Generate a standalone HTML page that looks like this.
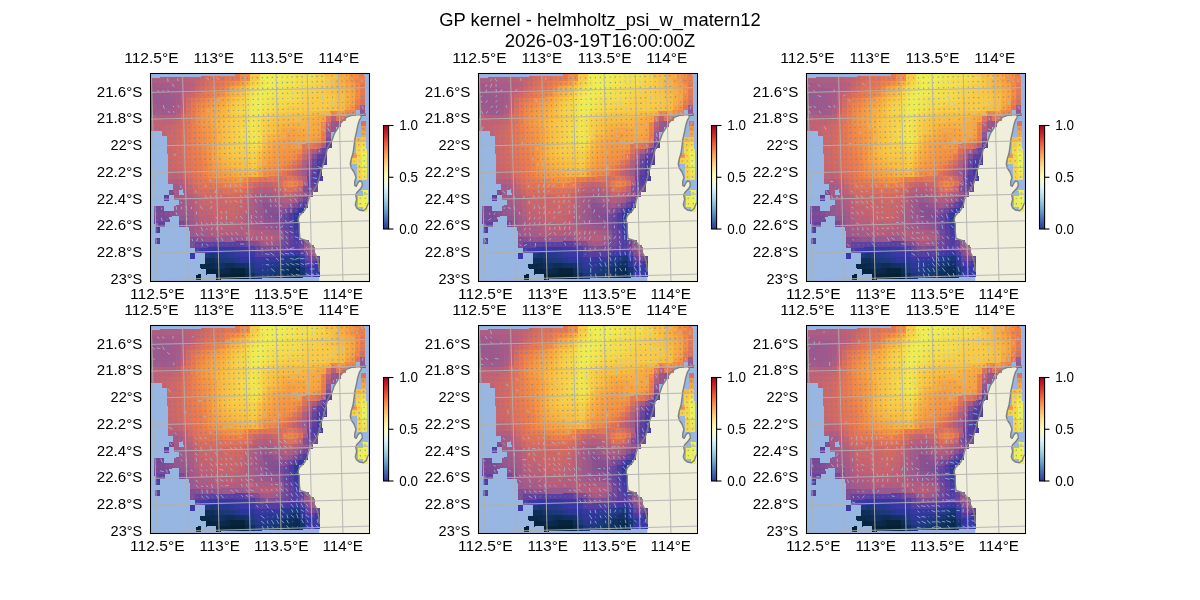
<!DOCTYPE html><html><head><meta charset="utf-8"><style>html,body{margin:0;padding:0;background:#fff;overflow:hidden}svg{display:block;will-change:transform}</style></head><body>
<svg width="1200" height="600" viewBox="0 0 1200 600" font-family="&quot;Liberation Sans&quot;, sans-serif">
<defs>
<linearGradient id="cbg" x1="0" y1="0" x2="0" y2="1"><stop offset="0.00" stop-color="#a50026"/><stop offset="0.10" stop-color="#d62f26"/><stop offset="0.20" stop-color="#f46d43"/><stop offset="0.30" stop-color="#fcac60"/><stop offset="0.40" stop-color="#fee090"/><stop offset="0.50" stop-color="#fefebe"/><stop offset="0.60" stop-color="#e0f3f7"/><stop offset="0.70" stop-color="#a9d8e8"/><stop offset="0.80" stop-color="#74add1"/><stop offset="0.90" stop-color="#4473b3"/><stop offset="1.00" stop-color="#313695"/></linearGradient>
<clipPath id="axclip"><rect x="150.8" y="73.8" width="218.50" height="207.50"/></clipPath>
<g id="base"><rect x="150.8" y="73.8" width="218.50" height="207.50" fill="#97b6e1"/><g clip-path="url(#axclip)"><path d="M319.3,290.0 L319.3,271.7 L318.7,263.7 L317.3,258.3 L314.7,253.0 L312.0,246.3 L307.3,241.0 L300.0,238.3 L299.3,231.7 L299.3,223.7 L298.0,219.7 L299.3,215.7 L304.7,210.3 L307.3,205.0 L308.2,200.2 L309.9,196.0 L312.0,192.3 L314.0,190.0 L317.3,184.7 L319.3,178.0 L320.7,172.0 L323.0,165.3 L325.3,157.3 L327.0,150.0 L328.7,145.3 L332.1,140.0 L334.2,134.0 L337.2,129.2 L340.2,123.8 L343.2,120.2 L346.8,117.2 L351.6,115.4 L356.4,114.8 L360.0,114.8 L361.5,115.7 L360.9,117.8 L359.4,120.2 L357.9,125.0 L356.7,131.0 L355.2,137.6 L354.7,140.0 L354.0,146.7 L353.0,153.3 L351.3,158.7 L350.3,164.0 L351.3,168.0 L354.0,172.0 L356.0,177.3 L354.7,182.0 L354.7,185.3 L356.3,186.3 L358.0,182.7 L360.0,180.7 L362.0,182.3 L362.3,186.0 L360.0,189.3 L356.7,192.7 L355.7,195.3 L356.7,199.3 L355.3,204.7 L356.7,208.0 L359.3,210.0 L363.3,210.7 L366.0,208.7 L368.0,204.0 L368.7,202.7 L372.0,199.0 L372.0,290.0Z" fill="#efefdb"/><g transform="matrix(4.9708,-0.1204,0.148,5.3456,145.35,72.51)" shape-rendering="crispEdges"><rect x="18" y="0" width="1.04" height="1.04" fill="#e67853"/><rect x="19" y="0" width="1.04" height="1.04" fill="#f28c46"/><rect x="20" y="0" width="1.04" height="1.04" fill="#f28c46"/><rect x="21" y="0" width="1.04" height="1.04" fill="#f8ca46"/><rect x="22" y="0" width="1.04" height="1.04" fill="#f8ca46"/><rect x="23" y="0" width="1.04" height="1.04" fill="#eeee54"/><rect x="24" y="0" width="1.04" height="1.04" fill="#eeee54"/><rect x="25" y="0" width="1.04" height="1.04" fill="#eeee54"/><rect x="26" y="0" width="1.04" height="1.04" fill="#eeee54"/><rect x="27" y="0" width="1.04" height="1.04" fill="#eeee54"/><rect x="28" y="0" width="1.04" height="1.04" fill="#f0e751"/><rect x="29" y="0" width="1.04" height="1.04" fill="#f0e751"/><rect x="30" y="0" width="1.04" height="1.04" fill="#f3e04e"/><rect x="31" y="0" width="1.04" height="1.04" fill="#f3e04e"/><rect x="32" y="0" width="1.04" height="1.04" fill="#f3e04e"/><rect x="33" y="0" width="1.04" height="1.04" fill="#f3e04e"/><rect x="34" y="0" width="1.04" height="1.04" fill="#f6d349"/><rect x="35" y="0" width="1.04" height="1.04" fill="#f6d349"/><rect x="36" y="0" width="1.04" height="1.04" fill="#f8bf42"/><rect x="37" y="0" width="1.04" height="1.04" fill="#f8bf42"/><rect x="38" y="0" width="1.04" height="1.04" fill="#f8bf42"/><rect x="39" y="0" width="1.04" height="1.04" fill="#f8ac40"/><rect x="40" y="0" width="1.04" height="1.04" fill="#f8ac40"/><rect x="41" y="0" width="1.04" height="1.04" fill="#f39045"/><rect x="42" y="0" width="1.04" height="1.04" fill="#f39045"/><rect x="43" y="0" width="1.04" height="1.04" fill="#ea7c4e"/><rect x="0" y="1" width="1.04" height="1.04" fill="#b25c80"/><rect x="1" y="1" width="1.04" height="1.04" fill="#b25c80"/><rect x="2" y="1" width="1.04" height="1.04" fill="#b05c81"/><rect x="3" y="1" width="1.04" height="1.04" fill="#b05c81"/><rect x="4" y="1" width="1.04" height="1.04" fill="#b15c81"/><rect x="5" y="1" width="1.04" height="1.04" fill="#b15c80"/><rect x="6" y="1" width="1.04" height="1.04" fill="#b15c80"/><rect x="7" y="1" width="1.04" height="1.04" fill="#b85e7b"/><rect x="8" y="1" width="1.04" height="1.04" fill="#c05f76"/><rect x="9" y="1" width="1.04" height="1.04" fill="#c46172"/><rect x="10" y="1" width="1.04" height="1.04" fill="#c7636f"/><rect x="11" y="1" width="1.04" height="1.04" fill="#cd6769"/><rect x="12" y="1" width="1.04" height="1.04" fill="#d56c62"/><rect x="13" y="1" width="1.04" height="1.04" fill="#da6f5e"/><rect x="14" y="1" width="1.04" height="1.04" fill="#df725a"/><rect x="15" y="1" width="1.04" height="1.04" fill="#df725a"/><rect x="16" y="1" width="1.04" height="1.04" fill="#e67853"/><rect x="17" y="1" width="1.04" height="1.04" fill="#e67853"/><rect x="18" y="1" width="1.04" height="1.04" fill="#e67853"/><rect x="19" y="1" width="1.04" height="1.04" fill="#f28c46"/><rect x="20" y="1" width="1.04" height="1.04" fill="#f28c46"/><rect x="21" y="1" width="1.04" height="1.04" fill="#f8ca46"/><rect x="22" y="1" width="1.04" height="1.04" fill="#f8ca46"/><rect x="23" y="1" width="1.04" height="1.04" fill="#eeee54"/><rect x="24" y="1" width="1.04" height="1.04" fill="#eeee54"/><rect x="25" y="1" width="1.04" height="1.04" fill="#eeee54"/><rect x="26" y="1" width="1.04" height="1.04" fill="#eeee54"/><rect x="27" y="1" width="1.04" height="1.04" fill="#eeee54"/><rect x="28" y="1" width="1.04" height="1.04" fill="#f0e751"/><rect x="29" y="1" width="1.04" height="1.04" fill="#f0e751"/><rect x="30" y="1" width="1.04" height="1.04" fill="#f3e04e"/><rect x="31" y="1" width="1.04" height="1.04" fill="#f3e04e"/><rect x="32" y="1" width="1.04" height="1.04" fill="#f3e04e"/><rect x="33" y="1" width="1.04" height="1.04" fill="#f3e04e"/><rect x="34" y="1" width="1.04" height="1.04" fill="#f6d349"/><rect x="35" y="1" width="1.04" height="1.04" fill="#f6d349"/><rect x="36" y="1" width="1.04" height="1.04" fill="#f8bf42"/><rect x="37" y="1" width="1.04" height="1.04" fill="#f8bf42"/><rect x="38" y="1" width="1.04" height="1.04" fill="#f8bf42"/><rect x="39" y="1" width="1.04" height="1.04" fill="#f8ac40"/><rect x="40" y="1" width="1.04" height="1.04" fill="#f8ac40"/><rect x="41" y="1" width="1.04" height="1.04" fill="#f39045"/><rect x="42" y="1" width="1.04" height="1.04" fill="#f39045"/><rect x="43" y="1" width="1.04" height="1.04" fill="#ea7c4e"/><rect x="0" y="2" width="1.04" height="1.04" fill="#a25989"/><rect x="1" y="2" width="1.04" height="1.04" fill="#a25989"/><rect x="2" y="2" width="1.04" height="1.04" fill="#a85a86"/><rect x="3" y="2" width="1.04" height="1.04" fill="#a85a86"/><rect x="4" y="2" width="1.04" height="1.04" fill="#a95a86"/><rect x="5" y="2" width="1.04" height="1.04" fill="#ac5b84"/><rect x="6" y="2" width="1.04" height="1.04" fill="#ac5b83"/><rect x="7" y="2" width="1.04" height="1.04" fill="#b45c7f"/><rect x="8" y="2" width="1.04" height="1.04" fill="#bb5e79"/><rect x="9" y="2" width="1.04" height="1.04" fill="#bf5f76"/><rect x="10" y="2" width="1.04" height="1.04" fill="#c9646d"/><rect x="11" y="2" width="1.04" height="1.04" fill="#d26a64"/><rect x="12" y="2" width="1.04" height="1.04" fill="#da6f5e"/><rect x="13" y="2" width="1.04" height="1.04" fill="#df725a"/><rect x="14" y="2" width="1.04" height="1.04" fill="#e27458"/><rect x="15" y="2" width="1.04" height="1.04" fill="#e67853"/><rect x="16" y="2" width="1.04" height="1.04" fill="#ed834b"/><rect x="17" y="2" width="1.04" height="1.04" fill="#ef8749"/><rect x="18" y="2" width="1.04" height="1.04" fill="#f49244"/><rect x="19" y="2" width="1.04" height="1.04" fill="#f69c42"/><rect x="20" y="2" width="1.04" height="1.04" fill="#f8b340"/><rect x="21" y="2" width="1.04" height="1.04" fill="#f8cb46"/><rect x="22" y="2" width="1.04" height="1.04" fill="#f5d74a"/><rect x="23" y="2" width="1.04" height="1.04" fill="#f1e44f"/><rect x="24" y="2" width="1.04" height="1.04" fill="#eeed54"/><rect x="25" y="2" width="1.04" height="1.04" fill="#efeb53"/><rect x="26" y="2" width="1.04" height="1.04" fill="#efeb53"/><rect x="27" y="2" width="1.04" height="1.04" fill="#f0e851"/><rect x="28" y="2" width="1.04" height="1.04" fill="#f1e550"/><rect x="29" y="2" width="1.04" height="1.04" fill="#f2e24f"/><rect x="30" y="2" width="1.04" height="1.04" fill="#f3df4d"/><rect x="31" y="2" width="1.04" height="1.04" fill="#f4dc4c"/><rect x="32" y="2" width="1.04" height="1.04" fill="#f4dd4c"/><rect x="33" y="2" width="1.04" height="1.04" fill="#f4da4b"/><rect x="34" y="2" width="1.04" height="1.04" fill="#f6d449"/><rect x="35" y="2" width="1.04" height="1.04" fill="#f7d048"/><rect x="36" y="2" width="1.04" height="1.04" fill="#f8c946"/><rect x="37" y="2" width="1.04" height="1.04" fill="#f8bf42"/><rect x="38" y="2" width="1.04" height="1.04" fill="#f8b640"/><rect x="39" y="2" width="1.04" height="1.04" fill="#f8ae40"/><rect x="40" y="2" width="1.04" height="1.04" fill="#f8a340"/><rect x="41" y="2" width="1.04" height="1.04" fill="#f59743"/><rect x="42" y="2" width="1.04" height="1.04" fill="#f08748"/><rect x="43" y="2" width="1.04" height="1.04" fill="#eb7f4d"/><rect x="0" y="3" width="1.04" height="1.04" fill="#a25989"/><rect x="1" y="3" width="1.04" height="1.04" fill="#a25989"/><rect x="2" y="3" width="1.04" height="1.04" fill="#a15989"/><rect x="3" y="3" width="1.04" height="1.04" fill="#a15989"/><rect x="4" y="3" width="1.04" height="1.04" fill="#a25989"/><rect x="5" y="3" width="1.04" height="1.04" fill="#a55988"/><rect x="6" y="3" width="1.04" height="1.04" fill="#a95a86"/><rect x="7" y="3" width="1.04" height="1.04" fill="#b25c80"/><rect x="8" y="3" width="1.04" height="1.04" fill="#b95e7b"/><rect x="9" y="3" width="1.04" height="1.04" fill="#c46172"/><rect x="10" y="3" width="1.04" height="1.04" fill="#cf6867"/><rect x="11" y="3" width="1.04" height="1.04" fill="#d76d60"/><rect x="12" y="3" width="1.04" height="1.04" fill="#de725b"/><rect x="13" y="3" width="1.04" height="1.04" fill="#e47656"/><rect x="14" y="3" width="1.04" height="1.04" fill="#e77952"/><rect x="15" y="3" width="1.04" height="1.04" fill="#eb7e4d"/><rect x="16" y="3" width="1.04" height="1.04" fill="#f28d46"/><rect x="17" y="3" width="1.04" height="1.04" fill="#f7a041"/><rect x="18" y="3" width="1.04" height="1.04" fill="#f8aa40"/><rect x="19" y="3" width="1.04" height="1.04" fill="#f8b540"/><rect x="20" y="3" width="1.04" height="1.04" fill="#f8c745"/><rect x="21" y="3" width="1.04" height="1.04" fill="#f5d74a"/><rect x="22" y="3" width="1.04" height="1.04" fill="#f2e14e"/><rect x="23" y="3" width="1.04" height="1.04" fill="#f0e851"/><rect x="24" y="3" width="1.04" height="1.04" fill="#eeed54"/><rect x="25" y="3" width="1.04" height="1.04" fill="#efea52"/><rect x="26" y="3" width="1.04" height="1.04" fill="#f0e751"/><rect x="27" y="3" width="1.04" height="1.04" fill="#f1e450"/><rect x="28" y="3" width="1.04" height="1.04" fill="#f2e14e"/><rect x="29" y="3" width="1.04" height="1.04" fill="#f3df4d"/><rect x="30" y="3" width="1.04" height="1.04" fill="#f4dd4d"/><rect x="31" y="3" width="1.04" height="1.04" fill="#f4da4b"/><rect x="32" y="3" width="1.04" height="1.04" fill="#f5d64a"/><rect x="33" y="3" width="1.04" height="1.04" fill="#f6d349"/><rect x="34" y="3" width="1.04" height="1.04" fill="#f7cf48"/><rect x="35" y="3" width="1.04" height="1.04" fill="#f8cb46"/><rect x="36" y="3" width="1.04" height="1.04" fill="#f8c745"/><rect x="37" y="3" width="1.04" height="1.04" fill="#f8bf42"/><rect x="38" y="3" width="1.04" height="1.04" fill="#f8b840"/><rect x="39" y="3" width="1.04" height="1.04" fill="#f8b340"/><rect x="40" y="3" width="1.04" height="1.04" fill="#f8a840"/><rect x="41" y="3" width="1.04" height="1.04" fill="#f79f41"/><rect x="42" y="3" width="1.04" height="1.04" fill="#f18a47"/><rect x="43" y="3" width="1.04" height="1.04" fill="#e77952"/><rect x="0" y="4" width="1.04" height="1.04" fill="#9c588c"/><rect x="1" y="4" width="1.04" height="1.04" fill="#9c588c"/><rect x="2" y="4" width="1.04" height="1.04" fill="#9e588b"/><rect x="3" y="4" width="1.04" height="1.04" fill="#9e588b"/><rect x="4" y="4" width="1.04" height="1.04" fill="#9f598a"/><rect x="5" y="4" width="1.04" height="1.04" fill="#a35989"/><rect x="6" y="4" width="1.04" height="1.04" fill="#a95a85"/><rect x="7" y="4" width="1.04" height="1.04" fill="#c05f76"/><rect x="8" y="4" width="1.04" height="1.04" fill="#ca656c"/><rect x="9" y="4" width="1.04" height="1.04" fill="#d46b63"/><rect x="10" y="4" width="1.04" height="1.04" fill="#dd715c"/><rect x="11" y="4" width="1.04" height="1.04" fill="#e47655"/><rect x="12" y="4" width="1.04" height="1.04" fill="#e97b4f"/><rect x="13" y="4" width="1.04" height="1.04" fill="#ed824b"/><rect x="14" y="4" width="1.04" height="1.04" fill="#f08848"/><rect x="15" y="4" width="1.04" height="1.04" fill="#f39045"/><rect x="16" y="4" width="1.04" height="1.04" fill="#f8a340"/><rect x="17" y="4" width="1.04" height="1.04" fill="#f8b040"/><rect x="18" y="4" width="1.04" height="1.04" fill="#f8b840"/><rect x="19" y="4" width="1.04" height="1.04" fill="#f8c344"/><rect x="20" y="4" width="1.04" height="1.04" fill="#f6d349"/><rect x="21" y="4" width="1.04" height="1.04" fill="#f2e14e"/><rect x="22" y="4" width="1.04" height="1.04" fill="#f0e952"/><rect x="23" y="4" width="1.04" height="1.04" fill="#eeed54"/><rect x="24" y="4" width="1.04" height="1.04" fill="#efea52"/><rect x="25" y="4" width="1.04" height="1.04" fill="#f0e751"/><rect x="26" y="4" width="1.04" height="1.04" fill="#f2e34f"/><rect x="27" y="4" width="1.04" height="1.04" fill="#f2e24f"/><rect x="28" y="4" width="1.04" height="1.04" fill="#f3df4d"/><rect x="29" y="4" width="1.04" height="1.04" fill="#f4dd4c"/><rect x="30" y="4" width="1.04" height="1.04" fill="#f4db4c"/><rect x="31" y="4" width="1.04" height="1.04" fill="#f5d64a"/><rect x="32" y="4" width="1.04" height="1.04" fill="#f6d249"/><rect x="33" y="4" width="1.04" height="1.04" fill="#f7d048"/><rect x="34" y="4" width="1.04" height="1.04" fill="#f7cd47"/><rect x="35" y="4" width="1.04" height="1.04" fill="#f8ca46"/><rect x="36" y="4" width="1.04" height="1.04" fill="#f8c645"/><rect x="37" y="4" width="1.04" height="1.04" fill="#f8c243"/><rect x="38" y="4" width="1.04" height="1.04" fill="#f8bd41"/><rect x="39" y="4" width="1.04" height="1.04" fill="#f8b840"/><rect x="40" y="4" width="1.04" height="1.04" fill="#f8ae40"/><rect x="41" y="4" width="1.04" height="1.04" fill="#f8a540"/><rect x="42" y="4" width="1.04" height="1.04" fill="#f38e45"/><rect x="43" y="4" width="1.04" height="1.04" fill="#e87a51"/><rect x="0" y="5" width="1.04" height="1.04" fill="#9c588c"/><rect x="1" y="5" width="1.04" height="1.04" fill="#9c588c"/><rect x="2" y="5" width="1.04" height="1.04" fill="#9c588c"/><rect x="3" y="5" width="1.04" height="1.04" fill="#9c588c"/><rect x="4" y="5" width="1.04" height="1.04" fill="#9e588b"/><rect x="5" y="5" width="1.04" height="1.04" fill="#a35988"/><rect x="6" y="5" width="1.04" height="1.04" fill="#aa5a85"/><rect x="7" y="5" width="1.04" height="1.04" fill="#c06075"/><rect x="8" y="5" width="1.04" height="1.04" fill="#d56c61"/><rect x="9" y="5" width="1.04" height="1.04" fill="#e17359"/><rect x="10" y="5" width="1.04" height="1.04" fill="#e87a50"/><rect x="11" y="5" width="1.04" height="1.04" fill="#ed824b"/><rect x="12" y="5" width="1.04" height="1.04" fill="#f18b47"/><rect x="13" y="5" width="1.04" height="1.04" fill="#f49444"/><rect x="14" y="5" width="1.04" height="1.04" fill="#f69c42"/><rect x="15" y="5" width="1.04" height="1.04" fill="#f8a540"/><rect x="16" y="5" width="1.04" height="1.04" fill="#f8b240"/><rect x="17" y="5" width="1.04" height="1.04" fill="#f8bf42"/><rect x="18" y="5" width="1.04" height="1.04" fill="#f8c845"/><rect x="19" y="5" width="1.04" height="1.04" fill="#f7d048"/><rect x="20" y="5" width="1.04" height="1.04" fill="#f4dd4d"/><rect x="21" y="5" width="1.04" height="1.04" fill="#f0e952"/><rect x="22" y="5" width="1.04" height="1.04" fill="#eeed53"/><rect x="23" y="5" width="1.04" height="1.04" fill="#f0e952"/><rect x="24" y="5" width="1.04" height="1.04" fill="#f1e650"/><rect x="25" y="5" width="1.04" height="1.04" fill="#f2e14e"/><rect x="26" y="5" width="1.04" height="1.04" fill="#f4dd4d"/><rect x="27" y="5" width="1.04" height="1.04" fill="#f4dd4d"/><rect x="28" y="5" width="1.04" height="1.04" fill="#f4dd4c"/><rect x="29" y="5" width="1.04" height="1.04" fill="#f4db4c"/><rect x="30" y="5" width="1.04" height="1.04" fill="#f5d94b"/><rect x="31" y="5" width="1.04" height="1.04" fill="#f6d449"/><rect x="32" y="5" width="1.04" height="1.04" fill="#f7ce47"/><rect x="33" y="5" width="1.04" height="1.04" fill="#f8cc47"/><rect x="34" y="5" width="1.04" height="1.04" fill="#f8cc47"/><rect x="35" y="5" width="1.04" height="1.04" fill="#f8ca46"/><rect x="36" y="5" width="1.04" height="1.04" fill="#f8ca46"/><rect x="37" y="5" width="1.04" height="1.04" fill="#f8c745"/><rect x="38" y="5" width="1.04" height="1.04" fill="#f8c243"/><rect x="39" y="5" width="1.04" height="1.04" fill="#f8bd41"/><rect x="40" y="5" width="1.04" height="1.04" fill="#f8b040"/><rect x="41" y="5" width="1.04" height="1.04" fill="#f8a540"/><rect x="42" y="5" width="1.04" height="1.04" fill="#f28d46"/><rect x="43" y="5" width="1.04" height="1.04" fill="#e57754"/><rect x="0" y="6" width="1.04" height="1.04" fill="#a25989"/><rect x="1" y="6" width="1.04" height="1.04" fill="#a25989"/><rect x="2" y="6" width="1.04" height="1.04" fill="#9e588b"/><rect x="3" y="6" width="1.04" height="1.04" fill="#9c588c"/><rect x="4" y="6" width="1.04" height="1.04" fill="#9e588b"/><rect x="5" y="6" width="1.04" height="1.04" fill="#a35988"/><rect x="6" y="6" width="1.04" height="1.04" fill="#ab5b84"/><rect x="7" y="6" width="1.04" height="1.04" fill="#c26074"/><rect x="8" y="6" width="1.04" height="1.04" fill="#d96e5f"/><rect x="9" y="6" width="1.04" height="1.04" fill="#e57754"/><rect x="10" y="6" width="1.04" height="1.04" fill="#ed824b"/><rect x="11" y="6" width="1.04" height="1.04" fill="#f08948"/><rect x="12" y="6" width="1.04" height="1.04" fill="#f49244"/><rect x="13" y="6" width="1.04" height="1.04" fill="#f69b42"/><rect x="14" y="6" width="1.04" height="1.04" fill="#f8a340"/><rect x="15" y="6" width="1.04" height="1.04" fill="#f8ac40"/><rect x="16" y="6" width="1.04" height="1.04" fill="#f8b740"/><rect x="17" y="6" width="1.04" height="1.04" fill="#f8c544"/><rect x="18" y="6" width="1.04" height="1.04" fill="#f7ce47"/><rect x="19" y="6" width="1.04" height="1.04" fill="#f6d449"/><rect x="20" y="6" width="1.04" height="1.04" fill="#f3df4d"/><rect x="21" y="6" width="1.04" height="1.04" fill="#efea52"/><rect x="22" y="6" width="1.04" height="1.04" fill="#efec53"/><rect x="23" y="6" width="1.04" height="1.04" fill="#f0e851"/><rect x="24" y="6" width="1.04" height="1.04" fill="#f2e24f"/><rect x="25" y="6" width="1.04" height="1.04" fill="#f4dd4c"/><rect x="26" y="6" width="1.04" height="1.04" fill="#f5d94b"/><rect x="27" y="6" width="1.04" height="1.04" fill="#f5d94b"/><rect x="28" y="6" width="1.04" height="1.04" fill="#f5d54a"/><rect x="29" y="6" width="1.04" height="1.04" fill="#f6d449"/><rect x="30" y="6" width="1.04" height="1.04" fill="#f6d349"/><rect x="31" y="6" width="1.04" height="1.04" fill="#f7ce47"/><rect x="32" y="6" width="1.04" height="1.04" fill="#f8ca46"/><rect x="33" y="6" width="1.04" height="1.04" fill="#f8ca46"/><rect x="34" y="6" width="1.04" height="1.04" fill="#f8ca46"/><rect x="35" y="6" width="1.04" height="1.04" fill="#f8ca46"/><rect x="36" y="6" width="1.04" height="1.04" fill="#f8ca46"/><rect x="37" y="6" width="1.04" height="1.04" fill="#f8c745"/><rect x="38" y="6" width="1.04" height="1.04" fill="#f8c343"/><rect x="39" y="6" width="1.04" height="1.04" fill="#f8be42"/><rect x="40" y="6" width="1.04" height="1.04" fill="#f8ad40"/><rect x="41" y="6" width="1.04" height="1.04" fill="#f8a140"/><rect x="42" y="6" width="1.04" height="1.04" fill="#eb7f4d"/><rect x="43" y="6" width="1.04" height="1.04" fill="#db705d"/><rect x="0" y="7" width="1.04" height="1.04" fill="#a25989"/><rect x="1" y="7" width="1.04" height="1.04" fill="#a25989"/><rect x="2" y="7" width="1.04" height="1.04" fill="#a75a87"/><rect x="3" y="7" width="1.04" height="1.04" fill="#a35988"/><rect x="4" y="7" width="1.04" height="1.04" fill="#a35989"/><rect x="5" y="7" width="1.04" height="1.04" fill="#a85a86"/><rect x="6" y="7" width="1.04" height="1.04" fill="#b15c81"/><rect x="7" y="7" width="1.04" height="1.04" fill="#c9646d"/><rect x="8" y="7" width="1.04" height="1.04" fill="#dd715c"/><rect x="9" y="7" width="1.04" height="1.04" fill="#e87a51"/><rect x="10" y="7" width="1.04" height="1.04" fill="#f08848"/><rect x="11" y="7" width="1.04" height="1.04" fill="#f49244"/><rect x="12" y="7" width="1.04" height="1.04" fill="#f69a42"/><rect x="13" y="7" width="1.04" height="1.04" fill="#f8a240"/><rect x="14" y="7" width="1.04" height="1.04" fill="#f8ab40"/><rect x="15" y="7" width="1.04" height="1.04" fill="#f8b440"/><rect x="16" y="7" width="1.04" height="1.04" fill="#f8bf42"/><rect x="17" y="7" width="1.04" height="1.04" fill="#f8cb46"/><rect x="18" y="7" width="1.04" height="1.04" fill="#f7d148"/><rect x="19" y="7" width="1.04" height="1.04" fill="#f5d74a"/><rect x="20" y="7" width="1.04" height="1.04" fill="#f2e14e"/><rect x="21" y="7" width="1.04" height="1.04" fill="#efeb52"/><rect x="22" y="7" width="1.04" height="1.04" fill="#efea52"/><rect x="23" y="7" width="1.04" height="1.04" fill="#f1e44f"/><rect x="24" y="7" width="1.04" height="1.04" fill="#f3de4d"/><rect x="25" y="7" width="1.04" height="1.04" fill="#f5d84b"/><rect x="26" y="7" width="1.04" height="1.04" fill="#f6d449"/><rect x="27" y="7" width="1.04" height="1.04" fill="#f7d048"/><rect x="28" y="7" width="1.04" height="1.04" fill="#f8cc47"/><rect x="29" y="7" width="1.04" height="1.04" fill="#f8cc47"/><rect x="30" y="7" width="1.04" height="1.04" fill="#f8cc47"/><rect x="31" y="7" width="1.04" height="1.04" fill="#f8ca46"/><rect x="32" y="7" width="1.04" height="1.04" fill="#f8ca46"/><rect x="33" y="7" width="1.04" height="1.04" fill="#f8ca46"/><rect x="34" y="7" width="1.04" height="1.04" fill="#f8ca46"/><rect x="35" y="7" width="1.04" height="1.04" fill="#f8ca46"/><rect x="36" y="7" width="1.04" height="1.04" fill="#f8c644"/><rect x="37" y="7" width="1.04" height="1.04" fill="#f8c143"/><rect x="38" y="7" width="1.04" height="1.04" fill="#f8bf42"/><rect x="39" y="7" width="1.04" height="1.04" fill="#f8bc41"/><rect x="40" y="7" width="1.04" height="1.04" fill="#f8a640"/><rect x="41" y="7" width="1.04" height="1.04" fill="#f49544"/><rect x="42" y="7" width="1.04" height="1.04" fill="#e37557"/><rect x="43" y="7" width="1.04" height="1.04" fill="#a25989"/><rect x="0" y="8" width="1.04" height="1.04" fill="#c26074"/><rect x="1" y="8" width="1.04" height="1.04" fill="#c26074"/><rect x="2" y="8" width="1.04" height="1.04" fill="#b85d7c"/><rect x="3" y="8" width="1.04" height="1.04" fill="#b75d7c"/><rect x="4" y="8" width="1.04" height="1.04" fill="#b75d7d"/><rect x="5" y="8" width="1.04" height="1.04" fill="#ba5e7a"/><rect x="6" y="8" width="1.04" height="1.04" fill="#c36173"/><rect x="7" y="8" width="1.04" height="1.04" fill="#d76d61"/><rect x="8" y="8" width="1.04" height="1.04" fill="#e17459"/><rect x="9" y="8" width="1.04" height="1.04" fill="#ea7c4f"/><rect x="10" y="8" width="1.04" height="1.04" fill="#f18a47"/><rect x="11" y="8" width="1.04" height="1.04" fill="#f49544"/><rect x="12" y="8" width="1.04" height="1.04" fill="#f69c42"/><rect x="13" y="8" width="1.04" height="1.04" fill="#f8a540"/><rect x="14" y="8" width="1.04" height="1.04" fill="#f8ae40"/><rect x="15" y="8" width="1.04" height="1.04" fill="#f8b840"/><rect x="16" y="8" width="1.04" height="1.04" fill="#f8bf42"/><rect x="17" y="8" width="1.04" height="1.04" fill="#f8cb46"/><rect x="18" y="8" width="1.04" height="1.04" fill="#f6d148"/><rect x="19" y="8" width="1.04" height="1.04" fill="#f6d54a"/><rect x="20" y="8" width="1.04" height="1.04" fill="#f3e04e"/><rect x="21" y="8" width="1.04" height="1.04" fill="#f0e851"/><rect x="22" y="8" width="1.04" height="1.04" fill="#f2e34f"/><rect x="23" y="8" width="1.04" height="1.04" fill="#f4db4c"/><rect x="24" y="8" width="1.04" height="1.04" fill="#f6d449"/><rect x="25" y="8" width="1.04" height="1.04" fill="#f7ce47"/><rect x="26" y="8" width="1.04" height="1.04" fill="#f8cb46"/><rect x="27" y="8" width="1.04" height="1.04" fill="#f8c845"/><rect x="28" y="8" width="1.04" height="1.04" fill="#f8c444"/><rect x="29" y="8" width="1.04" height="1.04" fill="#f8c444"/><rect x="30" y="8" width="1.04" height="1.04" fill="#f8c444"/><rect x="31" y="8" width="1.04" height="1.04" fill="#f8c444"/><rect x="32" y="8" width="1.04" height="1.04" fill="#f8c243"/><rect x="33" y="8" width="1.04" height="1.04" fill="#f8bd41"/><rect x="34" y="8" width="1.04" height="1.04" fill="#f8bd41"/><rect x="35" y="8" width="1.04" height="1.04" fill="#f8bb40"/><rect x="36" y="8" width="1.04" height="1.04" fill="#f8b740"/><rect x="37" y="8" width="1.04" height="1.04" fill="#f18a47"/><rect x="38" y="8" width="1.04" height="1.04" fill="#f18a47"/><rect x="39" y="8" width="1.04" height="1.04" fill="#f69c42"/><rect x="40" y="8" width="1.04" height="1.04" fill="#f18a47"/><rect x="41" y="8" width="1.04" height="1.04" fill="#ef8549"/><rect x="43" y="8" width="1.04" height="1.04" fill="#97558d"/><rect x="0" y="9" width="1.04" height="1.04" fill="#c26074"/><rect x="1" y="9" width="1.04" height="1.04" fill="#c26074"/><rect x="2" y="9" width="1.04" height="1.04" fill="#c46172"/><rect x="3" y="9" width="1.04" height="1.04" fill="#c46172"/><rect x="4" y="9" width="1.04" height="1.04" fill="#c56271"/><rect x="5" y="9" width="1.04" height="1.04" fill="#ca656c"/><rect x="6" y="9" width="1.04" height="1.04" fill="#cf6867"/><rect x="7" y="9" width="1.04" height="1.04" fill="#da6f5e"/><rect x="8" y="9" width="1.04" height="1.04" fill="#e47655"/><rect x="9" y="9" width="1.04" height="1.04" fill="#ec804c"/><rect x="10" y="9" width="1.04" height="1.04" fill="#f28d46"/><rect x="11" y="9" width="1.04" height="1.04" fill="#f59643"/><rect x="12" y="9" width="1.04" height="1.04" fill="#f79e41"/><rect x="13" y="9" width="1.04" height="1.04" fill="#f8a840"/><rect x="14" y="9" width="1.04" height="1.04" fill="#f8b340"/><rect x="15" y="9" width="1.04" height="1.04" fill="#f8bd41"/><rect x="16" y="9" width="1.04" height="1.04" fill="#f8c444"/><rect x="17" y="9" width="1.04" height="1.04" fill="#f8cb46"/><rect x="18" y="9" width="1.04" height="1.04" fill="#f7cf48"/><rect x="19" y="9" width="1.04" height="1.04" fill="#f6d349"/><rect x="20" y="9" width="1.04" height="1.04" fill="#f4dd4c"/><rect x="21" y="9" width="1.04" height="1.04" fill="#f1e550"/><rect x="22" y="9" width="1.04" height="1.04" fill="#f3df4d"/><rect x="23" y="9" width="1.04" height="1.04" fill="#f6d148"/><rect x="24" y="9" width="1.04" height="1.04" fill="#f8c946"/><rect x="25" y="9" width="1.04" height="1.04" fill="#f8c444"/><rect x="26" y="9" width="1.04" height="1.04" fill="#f8c042"/><rect x="27" y="9" width="1.04" height="1.04" fill="#f8be42"/><rect x="28" y="9" width="1.04" height="1.04" fill="#f8bc41"/><rect x="29" y="9" width="1.04" height="1.04" fill="#f8bc41"/><rect x="30" y="9" width="1.04" height="1.04" fill="#f8bc41"/><rect x="31" y="9" width="1.04" height="1.04" fill="#f8b840"/><rect x="32" y="9" width="1.04" height="1.04" fill="#f8b240"/><rect x="33" y="9" width="1.04" height="1.04" fill="#f8ae40"/><rect x="34" y="9" width="1.04" height="1.04" fill="#f8aa40"/><rect x="35" y="9" width="1.04" height="1.04" fill="#f8a540"/><rect x="36" y="9" width="1.04" height="1.04" fill="#e07359"/><rect x="37" y="9" width="1.04" height="1.04" fill="#bd5f77"/><rect x="38" y="9" width="1.04" height="1.04" fill="#e57755"/><rect x="39" y="9" width="1.04" height="1.04" fill="#e17458"/><rect x="0" y="10" width="1.04" height="1.04" fill="#c26074"/><rect x="1" y="10" width="1.04" height="1.04" fill="#c26074"/><rect x="2" y="10" width="1.04" height="1.04" fill="#c56271"/><rect x="3" y="10" width="1.04" height="1.04" fill="#c9646d"/><rect x="4" y="10" width="1.04" height="1.04" fill="#ca656c"/><rect x="5" y="10" width="1.04" height="1.04" fill="#ce6768"/><rect x="6" y="10" width="1.04" height="1.04" fill="#d36a64"/><rect x="7" y="10" width="1.04" height="1.04" fill="#dc705c"/><rect x="8" y="10" width="1.04" height="1.04" fill="#e67854"/><rect x="9" y="10" width="1.04" height="1.04" fill="#ed814b"/><rect x="10" y="10" width="1.04" height="1.04" fill="#f28b46"/><rect x="11" y="10" width="1.04" height="1.04" fill="#f49444"/><rect x="12" y="10" width="1.04" height="1.04" fill="#f69b42"/><rect x="13" y="10" width="1.04" height="1.04" fill="#f8a640"/><rect x="14" y="10" width="1.04" height="1.04" fill="#f8b340"/><rect x="15" y="10" width="1.04" height="1.04" fill="#f8bd41"/><rect x="16" y="10" width="1.04" height="1.04" fill="#f8c444"/><rect x="17" y="10" width="1.04" height="1.04" fill="#f8cb46"/><rect x="18" y="10" width="1.04" height="1.04" fill="#f7cf48"/><rect x="19" y="10" width="1.04" height="1.04" fill="#f5d74a"/><rect x="20" y="10" width="1.04" height="1.04" fill="#f3e04e"/><rect x="21" y="10" width="1.04" height="1.04" fill="#f1e650"/><rect x="22" y="10" width="1.04" height="1.04" fill="#f3de4d"/><rect x="23" y="10" width="1.04" height="1.04" fill="#f7d148"/><rect x="24" y="10" width="1.04" height="1.04" fill="#f8c645"/><rect x="25" y="10" width="1.04" height="1.04" fill="#f8c042"/><rect x="26" y="10" width="1.04" height="1.04" fill="#f8b940"/><rect x="27" y="10" width="1.04" height="1.04" fill="#f8b240"/><rect x="28" y="10" width="1.04" height="1.04" fill="#f8b040"/><rect x="29" y="10" width="1.04" height="1.04" fill="#f8b140"/><rect x="30" y="10" width="1.04" height="1.04" fill="#f8b140"/><rect x="31" y="10" width="1.04" height="1.04" fill="#f8b440"/><rect x="32" y="10" width="1.04" height="1.04" fill="#f8ae40"/><rect x="33" y="10" width="1.04" height="1.04" fill="#f8a940"/><rect x="34" y="10" width="1.04" height="1.04" fill="#f8a440"/><rect x="35" y="10" width="1.04" height="1.04" fill="#ee844a"/><rect x="36" y="10" width="1.04" height="1.04" fill="#c26074"/><rect x="37" y="10" width="1.04" height="1.04" fill="#9c588c"/><rect x="38" y="10" width="1.04" height="1.04" fill="#97558d"/><rect x="43" y="10" width="1.04" height="1.04" fill="#df725a"/><rect x="3" y="11" width="1.04" height="1.04" fill="#c56271"/><rect x="4" y="11" width="1.04" height="1.04" fill="#cd6769"/><rect x="5" y="11" width="1.04" height="1.04" fill="#d06966"/><rect x="6" y="11" width="1.04" height="1.04" fill="#d56c62"/><rect x="7" y="11" width="1.04" height="1.04" fill="#de725b"/><rect x="8" y="11" width="1.04" height="1.04" fill="#e67853"/><rect x="9" y="11" width="1.04" height="1.04" fill="#ec804c"/><rect x="10" y="11" width="1.04" height="1.04" fill="#f18a47"/><rect x="11" y="11" width="1.04" height="1.04" fill="#f39145"/><rect x="12" y="11" width="1.04" height="1.04" fill="#f59743"/><rect x="13" y="11" width="1.04" height="1.04" fill="#f8a240"/><rect x="14" y="11" width="1.04" height="1.04" fill="#f8b140"/><rect x="15" y="11" width="1.04" height="1.04" fill="#f8bd41"/><rect x="16" y="11" width="1.04" height="1.04" fill="#f8c444"/><rect x="17" y="11" width="1.04" height="1.04" fill="#f8cc47"/><rect x="18" y="11" width="1.04" height="1.04" fill="#f6d449"/><rect x="19" y="11" width="1.04" height="1.04" fill="#f4dc4c"/><rect x="20" y="11" width="1.04" height="1.04" fill="#f2e14e"/><rect x="21" y="11" width="1.04" height="1.04" fill="#f1e650"/><rect x="22" y="11" width="1.04" height="1.04" fill="#f3de4d"/><rect x="23" y="11" width="1.04" height="1.04" fill="#f7d048"/><rect x="24" y="11" width="1.04" height="1.04" fill="#f8c644"/><rect x="25" y="11" width="1.04" height="1.04" fill="#f8bf42"/><rect x="26" y="11" width="1.04" height="1.04" fill="#f8b640"/><rect x="27" y="11" width="1.04" height="1.04" fill="#f8ac40"/><rect x="28" y="11" width="1.04" height="1.04" fill="#f8a440"/><rect x="29" y="11" width="1.04" height="1.04" fill="#f8a440"/><rect x="30" y="11" width="1.04" height="1.04" fill="#f8a540"/><rect x="31" y="11" width="1.04" height="1.04" fill="#f8a940"/><rect x="32" y="11" width="1.04" height="1.04" fill="#f8ad40"/><rect x="33" y="11" width="1.04" height="1.04" fill="#f8a840"/><rect x="34" y="11" width="1.04" height="1.04" fill="#f8a440"/><rect x="35" y="11" width="1.04" height="1.04" fill="#ed824b"/><rect x="36" y="11" width="1.04" height="1.04" fill="#b25c80"/><rect x="37" y="11" width="1.04" height="1.04" fill="#97558d"/><rect x="43" y="11" width="1.04" height="1.04" fill="#f49544"/><rect x="4" y="12" width="1.04" height="1.04" fill="#cd6769"/><rect x="5" y="12" width="1.04" height="1.04" fill="#d06966"/><rect x="6" y="12" width="1.04" height="1.04" fill="#d56c62"/><rect x="7" y="12" width="1.04" height="1.04" fill="#df725b"/><rect x="8" y="12" width="1.04" height="1.04" fill="#e77952"/><rect x="9" y="12" width="1.04" height="1.04" fill="#ec804c"/><rect x="10" y="12" width="1.04" height="1.04" fill="#f08948"/><rect x="11" y="12" width="1.04" height="1.04" fill="#f38f45"/><rect x="12" y="12" width="1.04" height="1.04" fill="#f59743"/><rect x="13" y="12" width="1.04" height="1.04" fill="#f8a240"/><rect x="14" y="12" width="1.04" height="1.04" fill="#f8b240"/><rect x="15" y="12" width="1.04" height="1.04" fill="#f8bd41"/><rect x="16" y="12" width="1.04" height="1.04" fill="#f8c444"/><rect x="17" y="12" width="1.04" height="1.04" fill="#f8cc47"/><rect x="18" y="12" width="1.04" height="1.04" fill="#f6d449"/><rect x="19" y="12" width="1.04" height="1.04" fill="#f4da4b"/><rect x="20" y="12" width="1.04" height="1.04" fill="#f2e14e"/><rect x="21" y="12" width="1.04" height="1.04" fill="#f1e650"/><rect x="22" y="12" width="1.04" height="1.04" fill="#f3de4d"/><rect x="23" y="12" width="1.04" height="1.04" fill="#f8cc47"/><rect x="24" y="12" width="1.04" height="1.04" fill="#f8bb40"/><rect x="25" y="12" width="1.04" height="1.04" fill="#f8b340"/><rect x="26" y="12" width="1.04" height="1.04" fill="#f8ae40"/><rect x="27" y="12" width="1.04" height="1.04" fill="#f8a740"/><rect x="28" y="12" width="1.04" height="1.04" fill="#f79e41"/><rect x="29" y="12" width="1.04" height="1.04" fill="#f79e41"/><rect x="30" y="12" width="1.04" height="1.04" fill="#f8a240"/><rect x="31" y="12" width="1.04" height="1.04" fill="#f8a240"/><rect x="32" y="12" width="1.04" height="1.04" fill="#f8a740"/><rect x="33" y="12" width="1.04" height="1.04" fill="#f8a540"/><rect x="34" y="12" width="1.04" height="1.04" fill="#f79f41"/><rect x="35" y="12" width="1.04" height="1.04" fill="#eb7d4d"/><rect x="36" y="12" width="1.04" height="1.04" fill="#97558d"/><rect x="43" y="12" width="1.04" height="1.04" fill="#f8a740"/><rect x="4" y="13" width="1.04" height="1.04" fill="#cd6769"/><rect x="5" y="13" width="1.04" height="1.04" fill="#d06966"/><rect x="6" y="13" width="1.04" height="1.04" fill="#d56c62"/><rect x="7" y="13" width="1.04" height="1.04" fill="#df725a"/><rect x="8" y="13" width="1.04" height="1.04" fill="#e67853"/><rect x="9" y="13" width="1.04" height="1.04" fill="#eb7e4d"/><rect x="10" y="13" width="1.04" height="1.04" fill="#f08748"/><rect x="11" y="13" width="1.04" height="1.04" fill="#f38f45"/><rect x="12" y="13" width="1.04" height="1.04" fill="#f59743"/><rect x="13" y="13" width="1.04" height="1.04" fill="#f8a340"/><rect x="14" y="13" width="1.04" height="1.04" fill="#f8b240"/><rect x="15" y="13" width="1.04" height="1.04" fill="#f8bd41"/><rect x="16" y="13" width="1.04" height="1.04" fill="#f8c544"/><rect x="17" y="13" width="1.04" height="1.04" fill="#f8cc47"/><rect x="18" y="13" width="1.04" height="1.04" fill="#f6d249"/><rect x="19" y="13" width="1.04" height="1.04" fill="#f5d84b"/><rect x="20" y="13" width="1.04" height="1.04" fill="#f3df4d"/><rect x="21" y="13" width="1.04" height="1.04" fill="#f1e650"/><rect x="22" y="13" width="1.04" height="1.04" fill="#f5d84b"/><rect x="23" y="13" width="1.04" height="1.04" fill="#f8c343"/><rect x="24" y="13" width="1.04" height="1.04" fill="#f8b440"/><rect x="25" y="13" width="1.04" height="1.04" fill="#f8a940"/><rect x="26" y="13" width="1.04" height="1.04" fill="#f8a140"/><rect x="27" y="13" width="1.04" height="1.04" fill="#f79e41"/><rect x="28" y="13" width="1.04" height="1.04" fill="#f69a42"/><rect x="29" y="13" width="1.04" height="1.04" fill="#f79e41"/><rect x="30" y="13" width="1.04" height="1.04" fill="#f8a240"/><rect x="31" y="13" width="1.04" height="1.04" fill="#f8a240"/><rect x="32" y="13" width="1.04" height="1.04" fill="#f8a240"/><rect x="33" y="13" width="1.04" height="1.04" fill="#f79d41"/><rect x="34" y="13" width="1.04" height="1.04" fill="#f49344"/><rect x="35" y="13" width="1.04" height="1.04" fill="#e57755"/><rect x="36" y="13" width="1.04" height="1.04" fill="#814c92"/><rect x="42" y="13" width="1.04" height="1.04" fill="#f8ba40"/><rect x="43" y="13" width="1.04" height="1.04" fill="#f8c544"/><rect x="4" y="14" width="1.04" height="1.04" fill="#cd6769"/><rect x="5" y="14" width="1.04" height="1.04" fill="#d06966"/><rect x="6" y="14" width="1.04" height="1.04" fill="#d66c61"/><rect x="7" y="14" width="1.04" height="1.04" fill="#de725b"/><rect x="8" y="14" width="1.04" height="1.04" fill="#e57754"/><rect x="9" y="14" width="1.04" height="1.04" fill="#ea7c4e"/><rect x="10" y="14" width="1.04" height="1.04" fill="#ee844a"/><rect x="11" y="14" width="1.04" height="1.04" fill="#f28d46"/><rect x="12" y="14" width="1.04" height="1.04" fill="#f59743"/><rect x="13" y="14" width="1.04" height="1.04" fill="#f8a340"/><rect x="14" y="14" width="1.04" height="1.04" fill="#f8b340"/><rect x="15" y="14" width="1.04" height="1.04" fill="#f8be41"/><rect x="16" y="14" width="1.04" height="1.04" fill="#f8c544"/><rect x="17" y="14" width="1.04" height="1.04" fill="#f8cc47"/><rect x="18" y="14" width="1.04" height="1.04" fill="#f7d048"/><rect x="19" y="14" width="1.04" height="1.04" fill="#f6d148"/><rect x="20" y="14" width="1.04" height="1.04" fill="#f5d94b"/><rect x="21" y="14" width="1.04" height="1.04" fill="#f4dd4c"/><rect x="22" y="14" width="1.04" height="1.04" fill="#f7d048"/><rect x="23" y="14" width="1.04" height="1.04" fill="#f8ba40"/><rect x="24" y="14" width="1.04" height="1.04" fill="#f8ad40"/><rect x="25" y="14" width="1.04" height="1.04" fill="#f8a340"/><rect x="26" y="14" width="1.04" height="1.04" fill="#f69c42"/><rect x="27" y="14" width="1.04" height="1.04" fill="#f59943"/><rect x="28" y="14" width="1.04" height="1.04" fill="#f59843"/><rect x="29" y="14" width="1.04" height="1.04" fill="#f69c42"/><rect x="30" y="14" width="1.04" height="1.04" fill="#f59843"/><rect x="31" y="14" width="1.04" height="1.04" fill="#e77951"/><rect x="32" y="14" width="1.04" height="1.04" fill="#e87a50"/><rect x="33" y="14" width="1.04" height="1.04" fill="#e57754"/><rect x="34" y="14" width="1.04" height="1.04" fill="#d96e5f"/><rect x="35" y="14" width="1.04" height="1.04" fill="#b25c80"/><rect x="36" y="14" width="1.04" height="1.04" fill="#61409e"/><rect x="42" y="14" width="1.04" height="1.04" fill="#f7ce48"/><rect x="43" y="14" width="1.04" height="1.04" fill="#f5d84a"/><rect x="4" y="15" width="1.04" height="1.04" fill="#cd6769"/><rect x="5" y="15" width="1.04" height="1.04" fill="#d06966"/><rect x="6" y="15" width="1.04" height="1.04" fill="#d56c62"/><rect x="7" y="15" width="1.04" height="1.04" fill="#dd715c"/><rect x="8" y="15" width="1.04" height="1.04" fill="#e47655"/><rect x="9" y="15" width="1.04" height="1.04" fill="#e97b4f"/><rect x="10" y="15" width="1.04" height="1.04" fill="#ed814b"/><rect x="11" y="15" width="1.04" height="1.04" fill="#f18a47"/><rect x="12" y="15" width="1.04" height="1.04" fill="#f59543"/><rect x="13" y="15" width="1.04" height="1.04" fill="#f8a340"/><rect x="14" y="15" width="1.04" height="1.04" fill="#f8b340"/><rect x="15" y="15" width="1.04" height="1.04" fill="#f8bc41"/><rect x="16" y="15" width="1.04" height="1.04" fill="#f8c444"/><rect x="17" y="15" width="1.04" height="1.04" fill="#f8c946"/><rect x="18" y="15" width="1.04" height="1.04" fill="#f8c946"/><rect x="19" y="15" width="1.04" height="1.04" fill="#f8ca46"/><rect x="20" y="15" width="1.04" height="1.04" fill="#f7ce47"/><rect x="21" y="15" width="1.04" height="1.04" fill="#f6d249"/><rect x="22" y="15" width="1.04" height="1.04" fill="#f8c343"/><rect x="23" y="15" width="1.04" height="1.04" fill="#f8b140"/><rect x="24" y="15" width="1.04" height="1.04" fill="#f8a640"/><rect x="25" y="15" width="1.04" height="1.04" fill="#f79e41"/><rect x="26" y="15" width="1.04" height="1.04" fill="#f59843"/><rect x="27" y="15" width="1.04" height="1.04" fill="#f59643"/><rect x="28" y="15" width="1.04" height="1.04" fill="#f49544"/><rect x="29" y="15" width="1.04" height="1.04" fill="#f39145"/><rect x="30" y="15" width="1.04" height="1.04" fill="#f28c46"/><rect x="31" y="15" width="1.04" height="1.04" fill="#de725b"/><rect x="32" y="15" width="1.04" height="1.04" fill="#c16075"/><rect x="33" y="15" width="1.04" height="1.04" fill="#ae5b83"/><rect x="34" y="15" width="1.04" height="1.04" fill="#884e90"/><rect x="35" y="15" width="1.04" height="1.04" fill="#68439d"/><rect x="42" y="15" width="1.04" height="1.04" fill="#f5d84a"/><rect x="43" y="15" width="1.04" height="1.04" fill="#f0e751"/><rect x="4" y="16" width="1.04" height="1.04" fill="#cd6769"/><rect x="5" y="16" width="1.04" height="1.04" fill="#d06966"/><rect x="6" y="16" width="1.04" height="1.04" fill="#d56c62"/><rect x="7" y="16" width="1.04" height="1.04" fill="#dc705c"/><rect x="8" y="16" width="1.04" height="1.04" fill="#e47656"/><rect x="9" y="16" width="1.04" height="1.04" fill="#e87a51"/><rect x="10" y="16" width="1.04" height="1.04" fill="#eb7e4d"/><rect x="11" y="16" width="1.04" height="1.04" fill="#f08748"/><rect x="12" y="16" width="1.04" height="1.04" fill="#f49344"/><rect x="13" y="16" width="1.04" height="1.04" fill="#f8a140"/><rect x="14" y="16" width="1.04" height="1.04" fill="#f8ac40"/><rect x="15" y="16" width="1.04" height="1.04" fill="#f8b540"/><rect x="16" y="16" width="1.04" height="1.04" fill="#f8bc41"/><rect x="17" y="16" width="1.04" height="1.04" fill="#f8c243"/><rect x="18" y="16" width="1.04" height="1.04" fill="#f8c444"/><rect x="19" y="16" width="1.04" height="1.04" fill="#f8c544"/><rect x="20" y="16" width="1.04" height="1.04" fill="#f8ca46"/><rect x="21" y="16" width="1.04" height="1.04" fill="#f7ce47"/><rect x="22" y="16" width="1.04" height="1.04" fill="#f8bd41"/><rect x="23" y="16" width="1.04" height="1.04" fill="#f8ac40"/><rect x="24" y="16" width="1.04" height="1.04" fill="#f8a240"/><rect x="25" y="16" width="1.04" height="1.04" fill="#f69b42"/><rect x="26" y="16" width="1.04" height="1.04" fill="#f49544"/><rect x="27" y="16" width="1.04" height="1.04" fill="#f49244"/><rect x="28" y="16" width="1.04" height="1.04" fill="#f39045"/><rect x="29" y="16" width="1.04" height="1.04" fill="#f18b47"/><rect x="30" y="16" width="1.04" height="1.04" fill="#e87a51"/><rect x="31" y="16" width="1.04" height="1.04" fill="#ce6768"/><rect x="32" y="16" width="1.04" height="1.04" fill="#ad5b83"/><rect x="33" y="16" width="1.04" height="1.04" fill="#854d91"/><rect x="34" y="16" width="1.04" height="1.04" fill="#5f409f"/><rect x="35" y="16" width="1.04" height="1.04" fill="#553da1"/><rect x="41" y="16" width="1.04" height="1.04" fill="#f69a42"/><rect x="42" y="16" width="1.04" height="1.04" fill="#f5d84a"/><rect x="43" y="16" width="1.04" height="1.04" fill="#ecf157"/><rect x="4" y="17" width="1.04" height="1.04" fill="#cb666b"/><rect x="5" y="17" width="1.04" height="1.04" fill="#ce6868"/><rect x="6" y="17" width="1.04" height="1.04" fill="#d46b62"/><rect x="7" y="17" width="1.04" height="1.04" fill="#db705d"/><rect x="8" y="17" width="1.04" height="1.04" fill="#e27458"/><rect x="9" y="17" width="1.04" height="1.04" fill="#e67853"/><rect x="10" y="17" width="1.04" height="1.04" fill="#ea7c4e"/><rect x="11" y="17" width="1.04" height="1.04" fill="#ef8649"/><rect x="12" y="17" width="1.04" height="1.04" fill="#f49244"/><rect x="13" y="17" width="1.04" height="1.04" fill="#f69c42"/><rect x="14" y="17" width="1.04" height="1.04" fill="#f8a640"/><rect x="15" y="17" width="1.04" height="1.04" fill="#f8ae40"/><rect x="16" y="17" width="1.04" height="1.04" fill="#f8b540"/><rect x="17" y="17" width="1.04" height="1.04" fill="#f8ba40"/><rect x="18" y="17" width="1.04" height="1.04" fill="#f8bd41"/><rect x="19" y="17" width="1.04" height="1.04" fill="#f8c042"/><rect x="20" y="17" width="1.04" height="1.04" fill="#f8c544"/><rect x="21" y="17" width="1.04" height="1.04" fill="#f8c946"/><rect x="22" y="17" width="1.04" height="1.04" fill="#f8b740"/><rect x="23" y="17" width="1.04" height="1.04" fill="#f8a640"/><rect x="24" y="17" width="1.04" height="1.04" fill="#f79d41"/><rect x="25" y="17" width="1.04" height="1.04" fill="#f59843"/><rect x="26" y="17" width="1.04" height="1.04" fill="#f49344"/><rect x="27" y="17" width="1.04" height="1.04" fill="#f38f45"/><rect x="28" y="17" width="1.04" height="1.04" fill="#f08848"/><rect x="29" y="17" width="1.04" height="1.04" fill="#e77952"/><rect x="30" y="17" width="1.04" height="1.04" fill="#d96e5f"/><rect x="31" y="17" width="1.04" height="1.04" fill="#b95e7a"/><rect x="32" y="17" width="1.04" height="1.04" fill="#97558d"/><rect x="33" y="17" width="1.04" height="1.04" fill="#6b449c"/><rect x="34" y="17" width="1.04" height="1.04" fill="#4a3ba4"/><rect x="35" y="17" width="1.04" height="1.04" fill="#523da2"/><rect x="41" y="17" width="1.04" height="1.04" fill="#f7ce48"/><rect x="42" y="17" width="1.04" height="1.04" fill="#f5d84a"/><rect x="43" y="17" width="1.04" height="1.04" fill="#ecf157"/><rect x="4" y="18" width="1.04" height="1.04" fill="#cb656b"/><rect x="5" y="18" width="1.04" height="1.04" fill="#c9656d"/><rect x="6" y="18" width="1.04" height="1.04" fill="#d06966"/><rect x="7" y="18" width="1.04" height="1.04" fill="#d96e5f"/><rect x="8" y="18" width="1.04" height="1.04" fill="#e0725a"/><rect x="9" y="18" width="1.04" height="1.04" fill="#e57754"/><rect x="10" y="18" width="1.04" height="1.04" fill="#ea7c4e"/><rect x="11" y="18" width="1.04" height="1.04" fill="#ef8549"/><rect x="12" y="18" width="1.04" height="1.04" fill="#f39045"/><rect x="13" y="18" width="1.04" height="1.04" fill="#f59943"/><rect x="14" y="18" width="1.04" height="1.04" fill="#f8a240"/><rect x="15" y="18" width="1.04" height="1.04" fill="#f8aa40"/><rect x="16" y="18" width="1.04" height="1.04" fill="#f8af40"/><rect x="17" y="18" width="1.04" height="1.04" fill="#f8b440"/><rect x="18" y="18" width="1.04" height="1.04" fill="#f8ba40"/><rect x="19" y="18" width="1.04" height="1.04" fill="#f8bd41"/><rect x="20" y="18" width="1.04" height="1.04" fill="#f8c243"/><rect x="21" y="18" width="1.04" height="1.04" fill="#f8c444"/><rect x="22" y="18" width="1.04" height="1.04" fill="#f8ae40"/><rect x="23" y="18" width="1.04" height="1.04" fill="#f69c42"/><rect x="24" y="18" width="1.04" height="1.04" fill="#f49444"/><rect x="25" y="18" width="1.04" height="1.04" fill="#f39045"/><rect x="26" y="18" width="1.04" height="1.04" fill="#f28c46"/><rect x="27" y="18" width="1.04" height="1.04" fill="#ee844a"/><rect x="28" y="18" width="1.04" height="1.04" fill="#e57754"/><rect x="29" y="18" width="1.04" height="1.04" fill="#d96e5f"/><rect x="30" y="18" width="1.04" height="1.04" fill="#c9646d"/><rect x="31" y="18" width="1.04" height="1.04" fill="#b15c80"/><rect x="32" y="18" width="1.04" height="1.04" fill="#894f8f"/><rect x="33" y="18" width="1.04" height="1.04" fill="#63419e"/><rect x="34" y="18" width="1.04" height="1.04" fill="#433aa6"/><rect x="42" y="18" width="1.04" height="1.04" fill="#f4dc4c"/><rect x="43" y="18" width="1.04" height="1.04" fill="#ecf157"/><rect x="4" y="19" width="1.04" height="1.04" fill="#c26074"/><rect x="5" y="19" width="1.04" height="1.04" fill="#c16075"/><rect x="6" y="19" width="1.04" height="1.04" fill="#c66370"/><rect x="7" y="19" width="1.04" height="1.04" fill="#d16965"/><rect x="8" y="19" width="1.04" height="1.04" fill="#dc705d"/><rect x="9" y="19" width="1.04" height="1.04" fill="#e37556"/><rect x="10" y="19" width="1.04" height="1.04" fill="#e97b4f"/><rect x="11" y="19" width="1.04" height="1.04" fill="#ee834a"/><rect x="12" y="19" width="1.04" height="1.04" fill="#f18b47"/><rect x="13" y="19" width="1.04" height="1.04" fill="#f49244"/><rect x="14" y="19" width="1.04" height="1.04" fill="#f69a42"/><rect x="15" y="19" width="1.04" height="1.04" fill="#f7a041"/><rect x="16" y="19" width="1.04" height="1.04" fill="#f8a540"/><rect x="17" y="19" width="1.04" height="1.04" fill="#f8aa40"/><rect x="18" y="19" width="1.04" height="1.04" fill="#f8b140"/><rect x="19" y="19" width="1.04" height="1.04" fill="#f8b040"/><rect x="20" y="19" width="1.04" height="1.04" fill="#f8b340"/><rect x="21" y="19" width="1.04" height="1.04" fill="#f8b640"/><rect x="22" y="19" width="1.04" height="1.04" fill="#f8a240"/><rect x="23" y="19" width="1.04" height="1.04" fill="#f39045"/><rect x="24" y="19" width="1.04" height="1.04" fill="#f28c46"/><rect x="25" y="19" width="1.04" height="1.04" fill="#f18947"/><rect x="26" y="19" width="1.04" height="1.04" fill="#ec7f4c"/><rect x="27" y="19" width="1.04" height="1.04" fill="#e27458"/><rect x="28" y="19" width="1.04" height="1.04" fill="#d56c61"/><rect x="29" y="19" width="1.04" height="1.04" fill="#c7636f"/><rect x="30" y="19" width="1.04" height="1.04" fill="#b65d7d"/><rect x="31" y="19" width="1.04" height="1.04" fill="#a1598a"/><rect x="32" y="19" width="1.04" height="1.04" fill="#7f4b93"/><rect x="33" y="19" width="1.04" height="1.04" fill="#60409f"/><rect x="34" y="19" width="1.04" height="1.04" fill="#4239a6"/><rect x="42" y="19" width="1.04" height="1.04" fill="#f6d349"/><rect x="43" y="19" width="1.04" height="1.04" fill="#f0e751"/><rect x="4" y="20" width="1.04" height="1.04" fill="#b55d7e"/><rect x="5" y="20" width="1.04" height="1.04" fill="#b15c81"/><rect x="6" y="20" width="1.04" height="1.04" fill="#b65d7d"/><rect x="7" y="20" width="1.04" height="1.04" fill="#c56271"/><rect x="8" y="20" width="1.04" height="1.04" fill="#d36a63"/><rect x="9" y="20" width="1.04" height="1.04" fill="#de715b"/><rect x="10" y="20" width="1.04" height="1.04" fill="#e57754"/><rect x="11" y="20" width="1.04" height="1.04" fill="#e97b4f"/><rect x="12" y="20" width="1.04" height="1.04" fill="#eb7e4d"/><rect x="13" y="20" width="1.04" height="1.04" fill="#ee834a"/><rect x="14" y="20" width="1.04" height="1.04" fill="#f18a47"/><rect x="15" y="20" width="1.04" height="1.04" fill="#f38e45"/><rect x="16" y="20" width="1.04" height="1.04" fill="#f49344"/><rect x="17" y="20" width="1.04" height="1.04" fill="#f59843"/><rect x="18" y="20" width="1.04" height="1.04" fill="#f59843"/><rect x="19" y="20" width="1.04" height="1.04" fill="#f39045"/><rect x="20" y="20" width="1.04" height="1.04" fill="#eb7e4d"/><rect x="21" y="20" width="1.04" height="1.04" fill="#eb7f4d"/><rect x="22" y="20" width="1.04" height="1.04" fill="#e47656"/><rect x="23" y="20" width="1.04" height="1.04" fill="#e07359"/><rect x="24" y="20" width="1.04" height="1.04" fill="#e47656"/><rect x="25" y="20" width="1.04" height="1.04" fill="#e47656"/><rect x="26" y="20" width="1.04" height="1.04" fill="#dc705d"/><rect x="27" y="20" width="1.04" height="1.04" fill="#df725a"/><rect x="28" y="20" width="1.04" height="1.04" fill="#e67853"/><rect x="29" y="20" width="1.04" height="1.04" fill="#de725b"/><rect x="30" y="20" width="1.04" height="1.04" fill="#cf6867"/><rect x="31" y="20" width="1.04" height="1.04" fill="#b95e7b"/><rect x="32" y="20" width="1.04" height="1.04" fill="#70469a"/><rect x="33" y="20" width="1.04" height="1.04" fill="#543da2"/><rect x="34" y="20" width="1.04" height="1.04" fill="#4e3ca3"/><rect x="42" y="20" width="1.04" height="1.04" fill="#f6d349"/><rect x="43" y="20" width="1.04" height="1.04" fill="#f3e04e"/><rect x="5" y="21" width="1.04" height="1.04" fill="#a55a87"/><rect x="6" y="21" width="1.04" height="1.04" fill="#ac5b83"/><rect x="7" y="21" width="1.04" height="1.04" fill="#bb5e79"/><rect x="8" y="21" width="1.04" height="1.04" fill="#c9656d"/><rect x="9" y="21" width="1.04" height="1.04" fill="#d66c61"/><rect x="10" y="21" width="1.04" height="1.04" fill="#df725a"/><rect x="11" y="21" width="1.04" height="1.04" fill="#e17359"/><rect x="12" y="21" width="1.04" height="1.04" fill="#e37557"/><rect x="13" y="21" width="1.04" height="1.04" fill="#e57754"/><rect x="14" y="21" width="1.04" height="1.04" fill="#e97b4f"/><rect x="15" y="21" width="1.04" height="1.04" fill="#eb7f4d"/><rect x="16" y="21" width="1.04" height="1.04" fill="#ed824b"/><rect x="17" y="21" width="1.04" height="1.04" fill="#ed824b"/><rect x="18" y="21" width="1.04" height="1.04" fill="#ec804c"/><rect x="19" y="21" width="1.04" height="1.04" fill="#e97b50"/><rect x="20" y="21" width="1.04" height="1.04" fill="#dd715c"/><rect x="21" y="21" width="1.04" height="1.04" fill="#cf6867"/><rect x="22" y="21" width="1.04" height="1.04" fill="#ca656c"/><rect x="23" y="21" width="1.04" height="1.04" fill="#c46172"/><rect x="24" y="21" width="1.04" height="1.04" fill="#c9646d"/><rect x="25" y="21" width="1.04" height="1.04" fill="#cf6867"/><rect x="26" y="21" width="1.04" height="1.04" fill="#dd715c"/><rect x="27" y="21" width="1.04" height="1.04" fill="#ec7f4c"/><rect x="28" y="21" width="1.04" height="1.04" fill="#f08948"/><rect x="29" y="21" width="1.04" height="1.04" fill="#ed814b"/><rect x="30" y="21" width="1.04" height="1.04" fill="#e27458"/><rect x="31" y="21" width="1.04" height="1.04" fill="#ab5b84"/><rect x="32" y="21" width="1.04" height="1.04" fill="#62419e"/><rect x="33" y="21" width="1.04" height="1.04" fill="#5b3ea0"/><rect x="4" y="22" width="1.04" height="1.04" fill="#814c92"/><rect x="5" y="22" width="1.04" height="1.04" fill="#a55a87"/><rect x="7" y="22" width="1.04" height="1.04" fill="#b45c7f"/><rect x="8" y="22" width="1.04" height="1.04" fill="#c26074"/><rect x="9" y="22" width="1.04" height="1.04" fill="#ce6768"/><rect x="10" y="22" width="1.04" height="1.04" fill="#d76d61"/><rect x="11" y="22" width="1.04" height="1.04" fill="#d76d60"/><rect x="12" y="22" width="1.04" height="1.04" fill="#d86e5f"/><rect x="13" y="22" width="1.04" height="1.04" fill="#d96e5f"/><rect x="14" y="22" width="1.04" height="1.04" fill="#db705d"/><rect x="15" y="22" width="1.04" height="1.04" fill="#df725a"/><rect x="16" y="22" width="1.04" height="1.04" fill="#e17458"/><rect x="17" y="22" width="1.04" height="1.04" fill="#e27458"/><rect x="18" y="22" width="1.04" height="1.04" fill="#e0735a"/><rect x="19" y="22" width="1.04" height="1.04" fill="#da6f5e"/><rect x="20" y="22" width="1.04" height="1.04" fill="#ce6868"/><rect x="21" y="22" width="1.04" height="1.04" fill="#be5f77"/><rect x="22" y="22" width="1.04" height="1.04" fill="#b95e7b"/><rect x="23" y="22" width="1.04" height="1.04" fill="#b25c80"/><rect x="24" y="22" width="1.04" height="1.04" fill="#b75d7c"/><rect x="25" y="22" width="1.04" height="1.04" fill="#c16075"/><rect x="26" y="22" width="1.04" height="1.04" fill="#cc666a"/><rect x="27" y="22" width="1.04" height="1.04" fill="#dc705d"/><rect x="28" y="22" width="1.04" height="1.04" fill="#e0735a"/><rect x="29" y="22" width="1.04" height="1.04" fill="#d76d61"/><rect x="30" y="22" width="1.04" height="1.04" fill="#c46172"/><rect x="31" y="22" width="1.04" height="1.04" fill="#864e90"/><rect x="32" y="22" width="1.04" height="1.04" fill="#6d449c"/><rect x="33" y="22" width="1.04" height="1.04" fill="#734799"/><rect x="3" y="23" width="1.04" height="1.04" fill="#5a3ea0"/><rect x="5" y="23" width="1.04" height="1.04" fill="#a25989"/><rect x="6" y="23" width="1.04" height="1.04" fill="#a95a85"/><rect x="7" y="23" width="1.04" height="1.04" fill="#b15c81"/><rect x="8" y="23" width="1.04" height="1.04" fill="#ba5e7a"/><rect x="9" y="23" width="1.04" height="1.04" fill="#c7636f"/><rect x="10" y="23" width="1.04" height="1.04" fill="#d06966"/><rect x="11" y="23" width="1.04" height="1.04" fill="#d16965"/><rect x="12" y="23" width="1.04" height="1.04" fill="#d16965"/><rect x="13" y="23" width="1.04" height="1.04" fill="#d16965"/><rect x="14" y="23" width="1.04" height="1.04" fill="#d16965"/><rect x="15" y="23" width="1.04" height="1.04" fill="#d36b63"/><rect x="16" y="23" width="1.04" height="1.04" fill="#d56c61"/><rect x="17" y="23" width="1.04" height="1.04" fill="#d56c62"/><rect x="18" y="23" width="1.04" height="1.04" fill="#d36b63"/><rect x="19" y="23" width="1.04" height="1.04" fill="#cc666a"/><rect x="20" y="23" width="1.04" height="1.04" fill="#bd5f77"/><rect x="21" y="23" width="1.04" height="1.04" fill="#b05c81"/><rect x="22" y="23" width="1.04" height="1.04" fill="#a85a86"/><rect x="23" y="23" width="1.04" height="1.04" fill="#a15989"/><rect x="24" y="23" width="1.04" height="1.04" fill="#aa5a85"/><rect x="25" y="23" width="1.04" height="1.04" fill="#b55d7e"/><rect x="26" y="23" width="1.04" height="1.04" fill="#bf5f76"/><rect x="27" y="23" width="1.04" height="1.04" fill="#cb666b"/><rect x="28" y="23" width="1.04" height="1.04" fill="#ca656c"/><rect x="29" y="23" width="1.04" height="1.04" fill="#bc5e79"/><rect x="30" y="23" width="1.04" height="1.04" fill="#ac5b83"/><rect x="31" y="23" width="1.04" height="1.04" fill="#98568c"/><rect x="32" y="23" width="1.04" height="1.04" fill="#7c4a94"/><rect x="43" y="23" width="1.04" height="1.04" fill="#ecf157"/><rect x="6" y="24" width="1.04" height="1.04" fill="#a35989"/><rect x="7" y="24" width="1.04" height="1.04" fill="#a95a86"/><rect x="8" y="24" width="1.04" height="1.04" fill="#b35c7f"/><rect x="9" y="24" width="1.04" height="1.04" fill="#c16074"/><rect x="10" y="24" width="1.04" height="1.04" fill="#cb666b"/><rect x="11" y="24" width="1.04" height="1.04" fill="#cd6769"/><rect x="12" y="24" width="1.04" height="1.04" fill="#cd6769"/><rect x="13" y="24" width="1.04" height="1.04" fill="#ce6768"/><rect x="14" y="24" width="1.04" height="1.04" fill="#ce6768"/><rect x="15" y="24" width="1.04" height="1.04" fill="#d06966"/><rect x="16" y="24" width="1.04" height="1.04" fill="#d36b63"/><rect x="17" y="24" width="1.04" height="1.04" fill="#d26a64"/><rect x="18" y="24" width="1.04" height="1.04" fill="#cf6867"/><rect x="19" y="24" width="1.04" height="1.04" fill="#c66370"/><rect x="20" y="24" width="1.04" height="1.04" fill="#b85e7b"/><rect x="21" y="24" width="1.04" height="1.04" fill="#aa5a85"/><rect x="22" y="24" width="1.04" height="1.04" fill="#a1598a"/><rect x="23" y="24" width="1.04" height="1.04" fill="#98568d"/><rect x="24" y="24" width="1.04" height="1.04" fill="#a25989"/><rect x="25" y="24" width="1.04" height="1.04" fill="#a55a87"/><rect x="26" y="24" width="1.04" height="1.04" fill="#af5b82"/><rect x="27" y="24" width="1.04" height="1.04" fill="#b65d7d"/><rect x="28" y="24" width="1.04" height="1.04" fill="#b15c81"/><rect x="29" y="24" width="1.04" height="1.04" fill="#a35989"/><rect x="30" y="24" width="1.04" height="1.04" fill="#8f518e"/><rect x="31" y="24" width="1.04" height="1.04" fill="#70459a"/><rect x="42" y="24" width="1.04" height="1.04" fill="#eeee54"/><rect x="43" y="24" width="1.04" height="1.04" fill="#ecf157"/><rect x="1" y="25" width="1.04" height="1.04" fill="#784896"/><rect x="2" y="25" width="1.04" height="1.04" fill="#784896"/><rect x="5" y="25" width="1.04" height="1.04" fill="#99568c"/><rect x="6" y="25" width="1.04" height="1.04" fill="#9f588b"/><rect x="7" y="25" width="1.04" height="1.04" fill="#a45988"/><rect x="8" y="25" width="1.04" height="1.04" fill="#ad5b83"/><rect x="9" y="25" width="1.04" height="1.04" fill="#bc5f78"/><rect x="10" y="25" width="1.04" height="1.04" fill="#c7636f"/><rect x="11" y="25" width="1.04" height="1.04" fill="#c9646d"/><rect x="12" y="25" width="1.04" height="1.04" fill="#ca656c"/><rect x="13" y="25" width="1.04" height="1.04" fill="#cc666a"/><rect x="14" y="25" width="1.04" height="1.04" fill="#cc666a"/><rect x="15" y="25" width="1.04" height="1.04" fill="#cd6769"/><rect x="16" y="25" width="1.04" height="1.04" fill="#d06966"/><rect x="17" y="25" width="1.04" height="1.04" fill="#ce6868"/><rect x="18" y="25" width="1.04" height="1.04" fill="#ca656c"/><rect x="19" y="25" width="1.04" height="1.04" fill="#c26074"/><rect x="20" y="25" width="1.04" height="1.04" fill="#b35c7f"/><rect x="21" y="25" width="1.04" height="1.04" fill="#a55a87"/><rect x="22" y="25" width="1.04" height="1.04" fill="#9c588c"/><rect x="23" y="25" width="1.04" height="1.04" fill="#8c508e"/><rect x="24" y="25" width="1.04" height="1.04" fill="#8f518e"/><rect x="25" y="25" width="1.04" height="1.04" fill="#94548d"/><rect x="26" y="25" width="1.04" height="1.04" fill="#9b578c"/><rect x="27" y="25" width="1.04" height="1.04" fill="#a0598a"/><rect x="28" y="25" width="1.04" height="1.04" fill="#96558d"/><rect x="29" y="25" width="1.04" height="1.04" fill="#7f4b93"/><rect x="30" y="25" width="1.04" height="1.04" fill="#65429e"/><rect x="31" y="25" width="1.04" height="1.04" fill="#4e3ca3"/><rect x="42" y="25" width="1.04" height="1.04" fill="#eeee54"/><rect x="43" y="25" width="1.04" height="1.04" fill="#ecf157"/><rect x="1" y="26" width="1.04" height="1.04" fill="#7c4a94"/><rect x="2" y="26" width="1.04" height="1.04" fill="#7c4a94"/><rect x="3" y="26" width="1.04" height="1.04" fill="#814c92"/><rect x="4" y="26" width="1.04" height="1.04" fill="#8c508e"/><rect x="5" y="26" width="1.04" height="1.04" fill="#96558d"/><rect x="6" y="26" width="1.04" height="1.04" fill="#9c588c"/><rect x="7" y="26" width="1.04" height="1.04" fill="#9e588b"/><rect x="8" y="26" width="1.04" height="1.04" fill="#a75a87"/><rect x="9" y="26" width="1.04" height="1.04" fill="#b95e7b"/><rect x="10" y="26" width="1.04" height="1.04" fill="#c46172"/><rect x="11" y="26" width="1.04" height="1.04" fill="#c66270"/><rect x="12" y="26" width="1.04" height="1.04" fill="#c7636f"/><rect x="13" y="26" width="1.04" height="1.04" fill="#ca656c"/><rect x="14" y="26" width="1.04" height="1.04" fill="#cc666a"/><rect x="15" y="26" width="1.04" height="1.04" fill="#cc666a"/><rect x="16" y="26" width="1.04" height="1.04" fill="#cd6769"/><rect x="17" y="26" width="1.04" height="1.04" fill="#cb666b"/><rect x="18" y="26" width="1.04" height="1.04" fill="#c7636f"/><rect x="19" y="26" width="1.04" height="1.04" fill="#be5f77"/><rect x="20" y="26" width="1.04" height="1.04" fill="#af5b82"/><rect x="21" y="26" width="1.04" height="1.04" fill="#a25989"/><rect x="22" y="26" width="1.04" height="1.04" fill="#98568d"/><rect x="23" y="26" width="1.04" height="1.04" fill="#8c508e"/><rect x="24" y="26" width="1.04" height="1.04" fill="#874e90"/><rect x="25" y="26" width="1.04" height="1.04" fill="#894f8f"/><rect x="26" y="26" width="1.04" height="1.04" fill="#90528d"/><rect x="27" y="26" width="1.04" height="1.04" fill="#824c92"/><rect x="28" y="26" width="1.04" height="1.04" fill="#71469a"/><rect x="29" y="26" width="1.04" height="1.04" fill="#573da1"/><rect x="30" y="26" width="1.04" height="1.04" fill="#34389f"/><rect x="43" y="26" width="1.04" height="1.04" fill="#ecf157"/><rect x="1" y="27" width="1.04" height="1.04" fill="#784896"/><rect x="2" y="27" width="1.04" height="1.04" fill="#784896"/><rect x="3" y="27" width="1.04" height="1.04" fill="#7c4a94"/><rect x="6" y="27" width="1.04" height="1.04" fill="#94548d"/><rect x="7" y="27" width="1.04" height="1.04" fill="#96558d"/><rect x="8" y="27" width="1.04" height="1.04" fill="#a1598a"/><rect x="9" y="27" width="1.04" height="1.04" fill="#b25c80"/><rect x="10" y="27" width="1.04" height="1.04" fill="#be5f77"/><rect x="11" y="27" width="1.04" height="1.04" fill="#c05f76"/><rect x="12" y="27" width="1.04" height="1.04" fill="#c16074"/><rect x="13" y="27" width="1.04" height="1.04" fill="#c66370"/><rect x="14" y="27" width="1.04" height="1.04" fill="#c9656d"/><rect x="15" y="27" width="1.04" height="1.04" fill="#ca656c"/><rect x="16" y="27" width="1.04" height="1.04" fill="#ca656c"/><rect x="17" y="27" width="1.04" height="1.04" fill="#c7636f"/><rect x="18" y="27" width="1.04" height="1.04" fill="#c36073"/><rect x="19" y="27" width="1.04" height="1.04" fill="#bb5e79"/><rect x="20" y="27" width="1.04" height="1.04" fill="#ac5b83"/><rect x="21" y="27" width="1.04" height="1.04" fill="#a1598a"/><rect x="22" y="27" width="1.04" height="1.04" fill="#99568c"/><rect x="23" y="27" width="1.04" height="1.04" fill="#8d508e"/><rect x="24" y="27" width="1.04" height="1.04" fill="#884f8f"/><rect x="25" y="27" width="1.04" height="1.04" fill="#834d91"/><rect x="26" y="27" width="1.04" height="1.04" fill="#744798"/><rect x="27" y="27" width="1.04" height="1.04" fill="#66429d"/><rect x="28" y="27" width="1.04" height="1.04" fill="#4d3ba3"/><rect x="29" y="27" width="1.04" height="1.04" fill="#2c3894"/><rect x="1" y="28" width="1.04" height="1.04" fill="#6c449c"/><rect x="2" y="28" width="1.04" height="1.04" fill="#61409e"/><rect x="6" y="28" width="1.04" height="1.04" fill="#784896"/><rect x="7" y="28" width="1.04" height="1.04" fill="#8e518e"/><rect x="8" y="28" width="1.04" height="1.04" fill="#9d588c"/><rect x="9" y="28" width="1.04" height="1.04" fill="#aa5a85"/><rect x="10" y="28" width="1.04" height="1.04" fill="#b65d7d"/><rect x="11" y="28" width="1.04" height="1.04" fill="#b75d7d"/><rect x="12" y="28" width="1.04" height="1.04" fill="#b85d7c"/><rect x="13" y="28" width="1.04" height="1.04" fill="#bf5f76"/><rect x="14" y="28" width="1.04" height="1.04" fill="#c46272"/><rect x="15" y="28" width="1.04" height="1.04" fill="#c56271"/><rect x="16" y="28" width="1.04" height="1.04" fill="#c56271"/><rect x="17" y="28" width="1.04" height="1.04" fill="#c26074"/><rect x="18" y="28" width="1.04" height="1.04" fill="#be5f77"/><rect x="19" y="28" width="1.04" height="1.04" fill="#b75d7d"/><rect x="20" y="28" width="1.04" height="1.04" fill="#ac5b84"/><rect x="21" y="28" width="1.04" height="1.04" fill="#a1598a"/><rect x="22" y="28" width="1.04" height="1.04" fill="#9d588c"/><rect x="23" y="28" width="1.04" height="1.04" fill="#92538d"/><rect x="24" y="28" width="1.04" height="1.04" fill="#8d518e"/><rect x="25" y="28" width="1.04" height="1.04" fill="#884f8f"/><rect x="26" y="28" width="1.04" height="1.04" fill="#754797"/><rect x="27" y="28" width="1.04" height="1.04" fill="#66429d"/><rect x="28" y="28" width="1.04" height="1.04" fill="#503ca2"/><rect x="29" y="28" width="1.04" height="1.04" fill="#33389f"/><rect x="1" y="29" width="1.04" height="1.04" fill="#4e3ca3"/><rect x="8" y="29" width="1.04" height="1.04" fill="#9d588c"/><rect x="9" y="29" width="1.04" height="1.04" fill="#aa5a85"/><rect x="10" y="29" width="1.04" height="1.04" fill="#ae5b82"/><rect x="11" y="29" width="1.04" height="1.04" fill="#af5b82"/><rect x="12" y="29" width="1.04" height="1.04" fill="#b15c81"/><rect x="13" y="29" width="1.04" height="1.04" fill="#b85e7b"/><rect x="14" y="29" width="1.04" height="1.04" fill="#be5f77"/><rect x="15" y="29" width="1.04" height="1.04" fill="#be5f77"/><rect x="16" y="29" width="1.04" height="1.04" fill="#bf5f77"/><rect x="17" y="29" width="1.04" height="1.04" fill="#bc5e79"/><rect x="18" y="29" width="1.04" height="1.04" fill="#b75d7c"/><rect x="19" y="29" width="1.04" height="1.04" fill="#b95e7b"/><rect x="20" y="29" width="1.04" height="1.04" fill="#ae5b82"/><rect x="21" y="29" width="1.04" height="1.04" fill="#a55a87"/><rect x="22" y="29" width="1.04" height="1.04" fill="#a1598a"/><rect x="23" y="29" width="1.04" height="1.04" fill="#9e588b"/><rect x="24" y="29" width="1.04" height="1.04" fill="#99568c"/><rect x="25" y="29" width="1.04" height="1.04" fill="#93548d"/><rect x="26" y="29" width="1.04" height="1.04" fill="#7a4995"/><rect x="27" y="29" width="1.04" height="1.04" fill="#68439d"/><rect x="28" y="29" width="1.04" height="1.04" fill="#523ca2"/><rect x="29" y="29" width="1.04" height="1.04" fill="#3738a4"/><rect x="8" y="30" width="1.04" height="1.04" fill="#9e588b"/><rect x="9" y="30" width="1.04" height="1.04" fill="#a35989"/><rect x="10" y="30" width="1.04" height="1.04" fill="#a65a87"/><rect x="11" y="30" width="1.04" height="1.04" fill="#a95a85"/><rect x="12" y="30" width="1.04" height="1.04" fill="#ac5b84"/><rect x="13" y="30" width="1.04" height="1.04" fill="#b25c80"/><rect x="14" y="30" width="1.04" height="1.04" fill="#b65d7d"/><rect x="15" y="30" width="1.04" height="1.04" fill="#b65d7d"/><rect x="16" y="30" width="1.04" height="1.04" fill="#b65d7d"/><rect x="17" y="30" width="1.04" height="1.04" fill="#b45c7f"/><rect x="18" y="30" width="1.04" height="1.04" fill="#b45c7f"/><rect x="19" y="30" width="1.04" height="1.04" fill="#b85e7b"/><rect x="20" y="30" width="1.04" height="1.04" fill="#be5f77"/><rect x="21" y="30" width="1.04" height="1.04" fill="#b65d7d"/><rect x="22" y="30" width="1.04" height="1.04" fill="#b45c7f"/><rect x="23" y="30" width="1.04" height="1.04" fill="#b25c80"/><rect x="24" y="30" width="1.04" height="1.04" fill="#ad5b83"/><rect x="25" y="30" width="1.04" height="1.04" fill="#aa5a85"/><rect x="26" y="30" width="1.04" height="1.04" fill="#8d508e"/><rect x="27" y="30" width="1.04" height="1.04" fill="#714699"/><rect x="28" y="30" width="1.04" height="1.04" fill="#5d3f9f"/><rect x="29" y="30" width="1.04" height="1.04" fill="#443aa6"/><rect x="1" y="31" width="1.04" height="1.04" fill="#5a3ea0"/><rect x="8" y="31" width="1.04" height="1.04" fill="#814c92"/><rect x="9" y="31" width="1.04" height="1.04" fill="#874e90"/><rect x="10" y="31" width="1.04" height="1.04" fill="#8e518e"/><rect x="11" y="31" width="1.04" height="1.04" fill="#94548d"/><rect x="12" y="31" width="1.04" height="1.04" fill="#8f528e"/><rect x="13" y="31" width="1.04" height="1.04" fill="#93538d"/><rect x="14" y="31" width="1.04" height="1.04" fill="#9c588c"/><rect x="15" y="31" width="1.04" height="1.04" fill="#9d588c"/><rect x="16" y="31" width="1.04" height="1.04" fill="#9d588c"/><rect x="17" y="31" width="1.04" height="1.04" fill="#9d588b"/><rect x="18" y="31" width="1.04" height="1.04" fill="#9e588b"/><rect x="19" y="31" width="1.04" height="1.04" fill="#a85a86"/><rect x="20" y="31" width="1.04" height="1.04" fill="#b05c81"/><rect x="21" y="31" width="1.04" height="1.04" fill="#b55d7e"/><rect x="22" y="31" width="1.04" height="1.04" fill="#b65d7d"/><rect x="23" y="31" width="1.04" height="1.04" fill="#bc5e79"/><rect x="24" y="31" width="1.04" height="1.04" fill="#b85d7c"/><rect x="25" y="31" width="1.04" height="1.04" fill="#b45c7f"/><rect x="26" y="31" width="1.04" height="1.04" fill="#9d588c"/><rect x="27" y="31" width="1.04" height="1.04" fill="#774896"/><rect x="28" y="31" width="1.04" height="1.04" fill="#63419e"/><rect x="29" y="31" width="1.04" height="1.04" fill="#4c3ba3"/><rect x="8" y="32" width="1.04" height="1.04" fill="#804b93"/><rect x="9" y="32" width="1.04" height="1.04" fill="#66429d"/><rect x="10" y="32" width="1.04" height="1.04" fill="#67429d"/><rect x="11" y="32" width="1.04" height="1.04" fill="#63419e"/><rect x="12" y="32" width="1.04" height="1.04" fill="#5f409f"/><rect x="13" y="32" width="1.04" height="1.04" fill="#5b3ea0"/><rect x="14" y="32" width="1.04" height="1.04" fill="#5c3f9f"/><rect x="15" y="32" width="1.04" height="1.04" fill="#5c3fa0"/><rect x="16" y="32" width="1.04" height="1.04" fill="#5a3ea0"/><rect x="17" y="32" width="1.04" height="1.04" fill="#5b3ea0"/><rect x="18" y="32" width="1.04" height="1.04" fill="#5c3fa0"/><rect x="19" y="32" width="1.04" height="1.04" fill="#69439d"/><rect x="20" y="32" width="1.04" height="1.04" fill="#804b93"/><rect x="21" y="32" width="1.04" height="1.04" fill="#884f8f"/><rect x="22" y="32" width="1.04" height="1.04" fill="#9d588c"/><rect x="23" y="32" width="1.04" height="1.04" fill="#a95a85"/><rect x="24" y="32" width="1.04" height="1.04" fill="#a45988"/><rect x="25" y="32" width="1.04" height="1.04" fill="#a0598a"/><rect x="26" y="32" width="1.04" height="1.04" fill="#7f4b93"/><rect x="27" y="32" width="1.04" height="1.04" fill="#724699"/><rect x="28" y="32" width="1.04" height="1.04" fill="#5f409f"/><rect x="29" y="32" width="1.04" height="1.04" fill="#543da1"/><rect x="30" y="32" width="1.04" height="1.04" fill="#65429e"/><rect x="31" y="32" width="1.04" height="1.04" fill="#90528e"/><rect x="9" y="33" width="1.04" height="1.04" fill="#4d3ca3"/><rect x="10" y="33" width="1.04" height="1.04" fill="#4139a6"/><rect x="11" y="33" width="1.04" height="1.04" fill="#3b38a8"/><rect x="12" y="33" width="1.04" height="1.04" fill="#3738a4"/><rect x="13" y="33" width="1.04" height="1.04" fill="#33389f"/><rect x="14" y="33" width="1.04" height="1.04" fill="#3838a5"/><rect x="15" y="33" width="1.04" height="1.04" fill="#3538a1"/><rect x="16" y="33" width="1.04" height="1.04" fill="#3538a2"/><rect x="17" y="33" width="1.04" height="1.04" fill="#3a38a8"/><rect x="18" y="33" width="1.04" height="1.04" fill="#3a38a8"/><rect x="19" y="33" width="1.04" height="1.04" fill="#3e39a7"/><rect x="20" y="33" width="1.04" height="1.04" fill="#543da1"/><rect x="21" y="33" width="1.04" height="1.04" fill="#69439d"/><rect x="22" y="33" width="1.04" height="1.04" fill="#7f4b93"/><rect x="23" y="33" width="1.04" height="1.04" fill="#8a4f8f"/><rect x="24" y="33" width="1.04" height="1.04" fill="#824c92"/><rect x="25" y="33" width="1.04" height="1.04" fill="#7c4a94"/><rect x="26" y="33" width="1.04" height="1.04" fill="#724699"/><rect x="27" y="33" width="1.04" height="1.04" fill="#66429d"/><rect x="28" y="33" width="1.04" height="1.04" fill="#5e3f9f"/><rect x="29" y="33" width="1.04" height="1.04" fill="#573da1"/><rect x="30" y="33" width="1.04" height="1.04" fill="#6c449c"/><rect x="31" y="33" width="1.04" height="1.04" fill="#9c588c"/><rect x="32" y="33" width="1.04" height="1.04" fill="#b05c81"/><rect x="8" y="34" width="1.04" height="1.04" fill="#3b38a8"/><rect x="11" y="34" width="1.04" height="1.04" fill="#1e3a7e"/><rect x="12" y="34" width="1.04" height="1.04" fill="#183874"/><rect x="13" y="34" width="1.04" height="1.04" fill="#1f3981"/><rect x="14" y="34" width="1.04" height="1.04" fill="#27388d"/><rect x="15" y="34" width="1.04" height="1.04" fill="#293890"/><rect x="16" y="34" width="1.04" height="1.04" fill="#2d3897"/><rect x="17" y="34" width="1.04" height="1.04" fill="#3538a0"/><rect x="18" y="34" width="1.04" height="1.04" fill="#3a38a8"/><rect x="19" y="34" width="1.04" height="1.04" fill="#3a38a8"/><rect x="20" y="34" width="1.04" height="1.04" fill="#3c38a7"/><rect x="21" y="34" width="1.04" height="1.04" fill="#533da2"/><rect x="22" y="34" width="1.04" height="1.04" fill="#583ea1"/><rect x="23" y="34" width="1.04" height="1.04" fill="#573da1"/><rect x="24" y="34" width="1.04" height="1.04" fill="#553da1"/><rect x="25" y="34" width="1.04" height="1.04" fill="#553da1"/><rect x="26" y="34" width="1.04" height="1.04" fill="#4d3ca3"/><rect x="27" y="34" width="1.04" height="1.04" fill="#433aa6"/><rect x="28" y="34" width="1.04" height="1.04" fill="#3a38a8"/><rect x="29" y="34" width="1.04" height="1.04" fill="#33389f"/><rect x="30" y="34" width="1.04" height="1.04" fill="#513ca2"/><rect x="31" y="34" width="1.04" height="1.04" fill="#834c92"/><rect x="32" y="34" width="1.04" height="1.04" fill="#a0598a"/><rect x="11" y="35" width="1.04" height="1.04" fill="#0e2e58"/><rect x="12" y="35" width="1.04" height="1.04" fill="#0f2f5b"/><rect x="13" y="35" width="1.04" height="1.04" fill="#143469"/><rect x="14" y="35" width="1.04" height="1.04" fill="#1a3a77"/><rect x="15" y="35" width="1.04" height="1.04" fill="#1a3a78"/><rect x="16" y="35" width="1.04" height="1.04" fill="#1f397f"/><rect x="17" y="35" width="1.04" height="1.04" fill="#26388c"/><rect x="18" y="35" width="1.04" height="1.04" fill="#2c3895"/><rect x="19" y="35" width="1.04" height="1.04" fill="#2d3896"/><rect x="20" y="35" width="1.04" height="1.04" fill="#2d3897"/><rect x="21" y="35" width="1.04" height="1.04" fill="#3738a3"/><rect x="22" y="35" width="1.04" height="1.04" fill="#3738a4"/><rect x="23" y="35" width="1.04" height="1.04" fill="#3538a1"/><rect x="24" y="35" width="1.04" height="1.04" fill="#3438a0"/><rect x="25" y="35" width="1.04" height="1.04" fill="#3438a0"/><rect x="26" y="35" width="1.04" height="1.04" fill="#2e3897"/><rect x="27" y="35" width="1.04" height="1.04" fill="#27388d"/><rect x="28" y="35" width="1.04" height="1.04" fill="#203982"/><rect x="29" y="35" width="1.04" height="1.04" fill="#193976"/><rect x="30" y="35" width="1.04" height="1.04" fill="#3438a0"/><rect x="31" y="35" width="1.04" height="1.04" fill="#68439d"/><rect x="32" y="35" width="1.04" height="1.04" fill="#7a4995"/><rect x="33" y="35" width="1.04" height="1.04" fill="#6b449c"/><rect x="10" y="36" width="1.04" height="1.04" fill="#0a2848"/><rect x="11" y="36" width="1.04" height="1.04" fill="#0a2848"/><rect x="12" y="36" width="1.04" height="1.04" fill="#0b2a4d"/><rect x="13" y="36" width="1.04" height="1.04" fill="#0d2d58"/><rect x="14" y="36" width="1.04" height="1.04" fill="#113161"/><rect x="15" y="36" width="1.04" height="1.04" fill="#0e2e59"/><rect x="16" y="36" width="1.04" height="1.04" fill="#0e2e59"/><rect x="17" y="36" width="1.04" height="1.04" fill="#113162"/><rect x="18" y="36" width="1.04" height="1.04" fill="#123263"/><rect x="19" y="36" width="1.04" height="1.04" fill="#15356a"/><rect x="20" y="36" width="1.04" height="1.04" fill="#25398b"/><rect x="21" y="36" width="1.04" height="1.04" fill="#2f3898"/><rect x="22" y="36" width="1.04" height="1.04" fill="#2f3898"/><rect x="23" y="36" width="1.04" height="1.04" fill="#2d3896"/><rect x="24" y="36" width="1.04" height="1.04" fill="#26398b"/><rect x="25" y="36" width="1.04" height="1.04" fill="#243988"/><rect x="26" y="36" width="1.04" height="1.04" fill="#1e397f"/><rect x="27" y="36" width="1.04" height="1.04" fill="#193974"/><rect x="28" y="36" width="1.04" height="1.04" fill="#143468"/><rect x="29" y="36" width="1.04" height="1.04" fill="#123263"/><rect x="30" y="36" width="1.04" height="1.04" fill="#2c3894"/><rect x="31" y="36" width="1.04" height="1.04" fill="#4a3ba4"/><rect x="32" y="36" width="1.04" height="1.04" fill="#533da2"/><rect x="33" y="36" width="1.04" height="1.04" fill="#3a38a8"/><rect x="11" y="37" width="1.04" height="1.04" fill="#08243c"/><rect x="12" y="37" width="1.04" height="1.04" fill="#08243c"/><rect x="13" y="37" width="1.04" height="1.04" fill="#092745"/><rect x="14" y="37" width="1.04" height="1.04" fill="#0b2a4f"/><rect x="15" y="37" width="1.04" height="1.04" fill="#0a2849"/><rect x="16" y="37" width="1.04" height="1.04" fill="#08243d"/><rect x="17" y="37" width="1.04" height="1.04" fill="#08243d"/><rect x="18" y="37" width="1.04" height="1.04" fill="#08243d"/><rect x="19" y="37" width="1.04" height="1.04" fill="#0d2d56"/><rect x="20" y="37" width="1.04" height="1.04" fill="#1b3a79"/><rect x="21" y="37" width="1.04" height="1.04" fill="#26388c"/><rect x="22" y="37" width="1.04" height="1.04" fill="#27388c"/><rect x="23" y="37" width="1.04" height="1.04" fill="#243989"/><rect x="24" y="37" width="1.04" height="1.04" fill="#1d3a7d"/><rect x="25" y="37" width="1.04" height="1.04" fill="#193974"/><rect x="26" y="37" width="1.04" height="1.04" fill="#14346a"/><rect x="27" y="37" width="1.04" height="1.04" fill="#113160"/><rect x="28" y="37" width="1.04" height="1.04" fill="#0e2e59"/><rect x="29" y="37" width="1.04" height="1.04" fill="#0c2c54"/><rect x="30" y="37" width="1.04" height="1.04" fill="#173771"/><rect x="31" y="37" width="1.04" height="1.04" fill="#2e3897"/><rect x="32" y="37" width="1.04" height="1.04" fill="#3a38a8"/><rect x="33" y="37" width="1.04" height="1.04" fill="#3a38a8"/><rect x="9" y="38" width="1.04" height="1.04" fill="#062030"/><rect x="13" y="38" width="1.04" height="1.04" fill="#072133"/><rect x="14" y="38" width="1.04" height="1.04" fill="#072338"/><rect x="15" y="38" width="1.04" height="1.04" fill="#072339"/><rect x="16" y="38" width="1.04" height="1.04" fill="#072134"/><rect x="17" y="38" width="1.04" height="1.04" fill="#072134"/><rect x="18" y="38" width="1.04" height="1.04" fill="#072134"/><rect x="19" y="38" width="1.04" height="1.04" fill="#0a2848"/><rect x="20" y="38" width="1.04" height="1.04" fill="#10305f"/><rect x="21" y="38" width="1.04" height="1.04" fill="#193975"/><rect x="22" y="38" width="1.04" height="1.04" fill="#1e397f"/><rect x="23" y="38" width="1.04" height="1.04" fill="#1c3a7b"/><rect x="24" y="38" width="1.04" height="1.04" fill="#183874"/><rect x="25" y="38" width="1.04" height="1.04" fill="#16366e"/><rect x="26" y="38" width="1.04" height="1.04" fill="#123264"/><rect x="27" y="38" width="1.04" height="1.04" fill="#0f2f5c"/><rect x="28" y="38" width="1.04" height="1.04" fill="#0c2c54"/><rect x="29" y="38" width="1.04" height="1.04" fill="#0a294b"/><rect x="30" y="38" width="1.04" height="1.04" fill="#15356c"/><rect x="31" y="38" width="1.04" height="1.04" fill="#3a38a8"/><rect x="32" y="38" width="1.04" height="1.04" fill="#3a38a8"/><rect x="33" y="38" width="1.04" height="1.04" fill="#3a38a8"/></g></g></g>
<g id="fg"><g clip-path="url(#axclip)"><path d="M319.3,271.7 L318.7,263.7 L317.3,258.3 L314.7,253.0 L312.0,246.3 L307.3,241.0 L300.0,238.3 L299.3,231.7 L299.3,223.7 L298.0,219.7 L299.3,215.7 L304.7,210.3 L307.3,205.0 L308.2,200.2 L309.9,196.0 L312.0,192.3 L314.0,190.0 L317.3,184.7 L319.3,178.0 L320.7,172.0 L323.0,165.3 L325.3,157.3 L327.0,150.0 L328.7,145.3 L332.1,140.0 L334.2,134.0 L337.2,129.2 L340.2,123.8 L343.2,120.2 L346.8,117.2 L351.6,115.4 L356.4,114.8 L360.0,114.8 L361.5,115.7 L360.9,117.8 L359.4,120.2 L357.9,125.0 L356.7,131.0 L355.2,137.6 L354.7,140.0 L354.0,146.7 L353.0,153.3 L351.3,158.7 L350.3,164.0 L351.3,168.0 L354.0,172.0 L356.0,177.3 L354.7,182.0 L354.7,185.3 L356.3,186.3 L358.0,182.7 L360.0,180.7 L362.0,182.3 L362.3,186.0 L360.0,189.3 L356.7,192.7 L355.7,195.3 L356.7,199.3 L355.3,204.7 L356.7,208.0 L359.3,210.0 L363.3,210.7 L366.0,208.7 L368.0,204.0 L368.7,202.7" fill="none" stroke="#808080" stroke-width="1.4" stroke-linejoin="round"/><path d="M150.73,52.15L157.91,306.62M181.93,51.48L188.83,305.77M213.13,50.82L219.75,304.92M244.33,50.15L250.66,304.07M275.53,49.49L281.58,303.22M306.73,48.82L312.50,302.37M337.94,48.15L343.41,301.52M126.93,92.89L388.65,87.05M127.72,119.69L389.18,113.69M128.50,146.49L389.71,140.33M129.28,173.29L390.24,166.96M130.06,200.09L390.77,193.60M130.84,226.90L391.29,220.24M131.62,253.70L391.82,246.88M132.40,280.50L392.35,273.52" stroke="#b0b0b0" stroke-opacity="0.9" stroke-width="1.0" fill="none"/></g><rect x="150.5" y="73.5" width="219" height="208" fill="none" stroke="#000" stroke-width="1.05"/><text x="124.20" y="63.00" font-size="13.89" textLength="54.5" lengthAdjust="spacingAndGlyphs">112.5°E</text><text x="193.60" y="63.00" font-size="13.89" textLength="40.5" lengthAdjust="spacingAndGlyphs">113°E</text><text x="249.50" y="63.00" font-size="13.89" textLength="54.1" lengthAdjust="spacingAndGlyphs">113.5°E</text><text x="318.30" y="63.00" font-size="13.89" textLength="40.9" lengthAdjust="spacingAndGlyphs">114°E</text><text x="130.05" y="298.70" font-size="13.89" textLength="54.5" lengthAdjust="spacingAndGlyphs">112.5°E</text><text x="199.50" y="298.70" font-size="13.89" textLength="40.5" lengthAdjust="spacingAndGlyphs">113°E</text><text x="254.10" y="298.70" font-size="13.89" textLength="54.5" lengthAdjust="spacingAndGlyphs">113.5°E</text><text x="322.40" y="298.70" font-size="13.89" textLength="40.5" lengthAdjust="spacingAndGlyphs">114°E</text><text x="96.80" y="97.25" font-size="13.89" textLength="45.5" lengthAdjust="spacingAndGlyphs">21.6°S</text><text x="96.80" y="123.10" font-size="13.89" textLength="45.5" lengthAdjust="spacingAndGlyphs">21.8°S</text><text x="110.60" y="150.10" font-size="13.89" textLength="31.7" lengthAdjust="spacingAndGlyphs">22°S</text><text x="96.80" y="177.25" font-size="13.89" textLength="45.5" lengthAdjust="spacingAndGlyphs">22.2°S</text><text x="96.80" y="204.15" font-size="13.89" textLength="45.5" lengthAdjust="spacingAndGlyphs">22.4°S</text><text x="96.80" y="230.30" font-size="13.89" textLength="45.5" lengthAdjust="spacingAndGlyphs">22.6°S</text><text x="96.80" y="257.20" font-size="13.89" textLength="45.5" lengthAdjust="spacingAndGlyphs">22.8°S</text><text x="110.60" y="284.20" font-size="13.89" textLength="31.7" lengthAdjust="spacingAndGlyphs">23°S</text><rect x="383.5" y="125.5" width="5.10" height="103.50" fill="url(#cbg)" stroke="#000" stroke-width="1.1"/><line x1="388.6" y1="125.50" x2="393.50" y2="125.50" stroke="#000" stroke-width="1.1"/><text x="399.30" y="130.40" font-size="13.89" textLength="18.7" lengthAdjust="spacingAndGlyphs">1.0</text><line x1="388.6" y1="177.25" x2="393.50" y2="177.25" stroke="#000" stroke-width="1.1"/><text x="399.30" y="182.15" font-size="13.89" textLength="18.7" lengthAdjust="spacingAndGlyphs">0.5</text><line x1="388.6" y1="229.00" x2="393.50" y2="229.00" stroke="#000" stroke-width="1.1"/><text x="399.30" y="233.90" font-size="13.89" textLength="18.7" lengthAdjust="spacingAndGlyphs">0.0</text></g>
</defs>
<rect width="1200" height="600" fill="#fff"/>
<text x="600.00" y="25.80" font-size="18.1" text-anchor="middle" textLength="321.5" lengthAdjust="spacingAndGlyphs">GP kernel - helmholtz_psi_w_matern12</text>
<text x="600.00" y="47.10" font-size="18.1" text-anchor="middle" textLength="190.5" lengthAdjust="spacingAndGlyphs">2026-03-19T16:00:00Z</text>
<g transform="translate(0.0,0.0)"><use href="#base"/><g clip-path="url(#axclip)"><path d="M237.7,72.7l-0.6,0.5M242.5,72.8l-0.3,0.1M252.2,72.5l0.2,0.2M257.3,72.3l-0.0,0.4M262.6,72.1l-0.7,0.5M266.9,72.0l0.7,0.6M271.9,72.1l0.6,0.1M282.1,71.6l-0.0,0.6M287.0,71.7l0.2,0.0M291.8,71.4l0.5,0.4M297.0,71.5l-0.0,0.0M302.1,71.3l-0.2,0.1M307.1,70.9l-0.3,0.7M312.0,71.1l-0.0,0.1M316.7,70.7l0.3,0.7M321.9,70.9l0.0,0.1M326.9,70.7l-0.1,0.1M332.0,70.2l-0.2,0.9M337.0,70.3l-0.3,0.5M341.6,70.3l0.3,0.3M346.8,70.3l-0.1,0.0M351.5,69.9l0.4,0.5M356.4,69.9l0.6,0.2M362.1,69.8l-0.8,0.3M148.0,80.4l0.1,0.1M152.8,80.2l0.4,0.3M158.1,79.9l-0.1,0.6M162.8,80.0l0.3,0.3M173.0,79.8l-0.2,0.2M183.1,79.2l-0.4,0.8M188.0,79.4l-0.4,0.2M192.9,79.2l-0.3,0.5M197.9,79.1l-0.4,0.3M202.8,79.1l-0.1,0.0M212.8,78.8l-0.3,0.2M222.4,78.4l0.5,0.4M227.4,78.5l0.3,0.2M232.7,78.0l-0.2,0.8M237.7,78.3l-0.3,0.0M242.5,77.7l-0.0,0.9M247.8,77.8l-0.6,0.6M252.6,77.9l-0.4,0.1M257.0,77.7l0.8,0.2M262.6,77.7l-0.5,0.1M267.6,77.3l-0.4,0.6M272.6,77.4l-0.6,0.1M277.2,77.2l0.3,0.2M282.4,77.2l-0.2,0.1M287.3,77.0l-0.0,0.1M292.3,76.7l-0.3,0.5M297.1,76.4l0.1,0.9M301.9,76.6l0.5,0.3M311.8,76.4l0.6,0.2M317.4,76.2l-0.7,0.3M321.6,76.2l0.8,0.1M332.0,75.9l-0.0,0.2M341.9,75.8l0.0,0.0M347.1,75.5l-0.4,0.3M351.6,75.4l0.5,0.3M356.8,75.4l-0.0,0.0M361.4,75.2l0.8,0.1M148.1,85.8l0.3,0.1M153.0,85.4l0.4,0.6M157.8,85.4l0.7,0.3M162.8,85.2l0.7,0.5M168.2,85.1l-0.2,0.6M177.8,84.8l0.4,0.6M183.4,84.8l-0.7,0.3M188.0,84.8l-0.0,0.0M193.2,84.7l-0.5,0.1M197.9,84.5l0.0,0.2M202.9,84.4l0.0,0.1M208.1,84.2l-0.5,0.3M212.8,84.1l-0.0,0.3M217.7,84.0l0.1,0.2M222.8,84.0l-0.1,0.1M227.6,83.9l0.3,0.1M232.7,83.7l0.1,0.1M237.7,83.6l-0.1,0.0M242.8,83.5l-0.2,0.1M247.6,83.3l0.0,0.2M252.7,83.1l-0.2,0.3M257.8,83.0l-0.5,0.4M262.4,82.8l0.2,0.6M267.7,82.8l-0.3,0.3M272.5,82.7l-0.0,0.2M277.1,82.5l0.8,0.3M282.6,82.2l-0.3,0.7M287.8,82.4l-0.9,0.2M292.2,82.0l0.2,0.7M297.4,82.1l-0.1,0.1M302.2,81.8l0.1,0.6M307.1,81.9l0.4,0.0M312.2,81.6l0.2,0.5M317.1,81.4l0.2,0.6M322.0,81.2l0.3,0.8M337.0,81.2l0.1,0.0M342.0,81.1l0.1,0.1M347.2,80.9l-0.3,0.3M351.7,80.6l0.6,0.5M357.0,80.7l0.0,0.1M148.1,91.1l0.4,0.1M153.7,90.9l-0.8,0.2M173.3,90.5l-0.1,0.2M178.0,90.2l0.3,0.4M183.2,90.0l-0.1,0.6M188.5,90.1l-0.7,0.3M193.0,90.1l0.1,0.0M197.7,89.7l0.6,0.6M203.0,89.7l-0.0,0.2M207.6,89.7l0.8,0.1M212.7,89.5l0.5,0.1M218.1,89.4l-0.4,0.2M223.2,89.1l-0.6,0.5M228.1,88.9l-0.4,0.7M232.7,89.0l0.2,0.1M237.9,89.0l-0.2,0.0M242.9,88.8l-0.3,0.1M247.5,88.7l0.5,0.1M253.0,88.5l-0.4,0.3M257.9,88.2l-0.4,0.6M262.6,88.0l0.2,0.8M267.9,88.1l-0.5,0.3M272.4,88.0l0.5,0.4M277.3,88.0l0.7,0.1M282.6,87.9l-0.0,0.0M287.7,87.6l-0.2,0.3M292.2,87.6l0.6,0.2M297.7,87.5l-0.5,0.1M307.4,87.3l-0.0,0.1M312.5,87.2l-0.2,0.1M317.5,86.9l-0.3,0.3M322.5,86.8l-0.4,0.3M327.5,86.7l-0.5,0.3M332.2,86.4l0.2,0.6M337.4,86.5l-0.3,0.3M342.4,86.3l-0.3,0.3M347.3,86.3l-0.3,0.2M352.5,86.0l-0.6,0.5M356.8,86.1l0.6,0.1M362.2,85.6l-0.2,0.8M148.7,96.2l-0.3,0.5M153.3,96.3l0.3,0.2M158.4,96.1l0.1,0.3M163.4,96.0l0.1,0.3M168.6,96.0l-0.5,0.1M173.2,95.8l0.2,0.3M178.5,95.6l-0.3,0.4M183.1,95.3l0.4,0.7M188.2,95.5l0.0,0.2M193.2,95.0l0.1,0.8M198.1,95.1l0.2,0.4M203.1,95.1l0.1,0.2M207.8,95.0l0.7,0.1M213.1,94.6l0.1,0.7M217.9,94.6l0.4,0.4M223.1,94.5l-0.1,0.3M228.1,94.4l-0.0,0.4M233.1,94.4l-0.2,0.0M237.9,94.2l0.2,0.2M243.1,94.1l-0.3,0.3M247.8,94.1l0.2,0.1M252.9,93.6l0.0,0.7M258.0,93.6l-0.2,0.6M262.7,93.4l0.3,0.6M267.8,93.4l0.0,0.4M272.9,93.3l-0.2,0.4M277.7,93.3l0.1,0.1M282.3,93.2l0.9,0.1M287.7,93.1l0.0,0.2M297.3,92.7l0.6,0.4M302.5,92.6l0.1,0.4M307.6,92.6l-0.2,0.0M312.2,92.5l0.6,0.1M317.7,92.2l-0.4,0.4M322.9,92.1l-0.8,0.3M332.8,92.0l-0.8,0.0M337.6,91.7l-0.3,0.5M342.5,91.4l-0.3,0.8M347.1,91.7l0.5,0.0M352.2,91.3l0.2,0.6M357.1,91.1l0.3,0.6M362.2,91.3l0.1,0.1M148.9,101.8l-0.4,0.1M153.8,101.4l-0.4,0.7M158.4,101.6l0.4,0.0M163.5,101.4l0.2,0.1M168.3,101.2l0.5,0.4M173.2,100.9l0.6,0.6M178.5,101.1l-0.1,0.1M183.2,101.0l0.5,0.1M188.0,100.8l0.7,0.2M193.5,100.4l-0.2,0.7M198.3,100.4l0.1,0.6M203.4,100.4l-0.2,0.2M208.2,100.1l0.3,0.6M213.2,100.0l0.2,0.6M223.0,99.8l0.4,0.5M228.1,99.5l0.1,0.8M233.0,99.8l0.3,0.1M238.0,99.6l0.2,0.1M242.9,99.4l0.3,0.3M247.8,99.1l0.5,0.6M252.8,99.3l0.5,0.1M258.0,98.8l0.1,0.8M263.0,99.0l-0.0,0.1M267.6,99.0l0.8,0.0M273.0,98.7l-0.2,0.2M278.0,98.7l-0.2,0.1M283.1,98.6l-0.4,0.0M287.8,98.5l0.0,0.0M292.8,98.3l-0.0,0.1M297.9,98.0l-0.2,0.5M302.9,97.9l-0.4,0.4M307.8,97.6l-0.1,0.7M312.7,97.6l0.0,0.5M317.9,97.6l-0.5,0.3M327.5,97.4l0.1,0.2M332.6,97.1l-0.1,0.6M347.1,97.0l0.8,0.1M352.4,96.8l0.0,0.2M357.4,96.8l0.1,0.0M362.6,96.5l-0.3,0.3M148.8,107.1l0.1,0.1M153.4,107.0l0.6,0.2M158.9,106.9l-0.2,0.2M168.7,106.4l-0.0,0.6M183.6,106.2l-0.1,0.3M188.6,106.2l0.0,0.0M193.5,106.0l0.1,0.2M198.7,105.9l-0.4,0.1M203.6,105.8l-0.2,0.2M208.4,105.7l0.0,0.1M213.0,105.4l0.8,0.4M218.2,105.4l0.4,0.2M223.1,105.3l0.6,0.3M228.3,105.3l0.1,0.0M232.9,105.1l0.8,0.1M238.0,105.0l0.5,0.1M243.3,104.7l-0.1,0.4M248.5,104.8l-0.6,0.0M253.1,104.3l0.2,0.7M258.6,104.5l-0.8,0.0M263.3,104.4l-0.4,0.1M268.3,104.3l-0.3,0.1M273.2,104.1l-0.3,0.2M278.0,103.9l0.1,0.4M282.9,103.9l0.1,0.0M288.1,103.6l-0.3,0.4M292.9,103.6l0.2,0.1M298.0,103.5l-0.2,0.2M303.0,103.3l-0.1,0.3M307.9,103.3l-0.1,0.1M312.9,103.1l-0.1,0.3M322.8,102.8l-0.1,0.3M327.8,102.8l-0.1,0.1M337.8,102.6l-0.2,0.0M342.9,102.5l-0.6,0.0M347.6,102.4l-0.0,0.0M352.4,102.0l0.3,0.6M357.6,102.1l0.0,0.0M362.5,102.0l0.1,0.0M148.9,112.5l0.1,0.0M153.8,112.3l0.3,0.2M158.9,112.3l0.0,0.0M164.0,111.8l-0.3,0.7M178.7,111.8l0.1,0.0M183.7,111.6l0.2,0.3M188.9,111.3l-0.4,0.6M193.4,111.4l0.5,0.2M198.9,111.3l-0.5,0.1M203.6,110.9l-0.0,0.6M213.8,110.8l-0.5,0.4M218.4,110.7l0.4,0.2M228.4,110.2l0.2,0.8M233.2,110.5l0.5,0.0M238.5,110.3l-0.1,0.1M243.8,110.1l-0.8,0.3M248.5,110.1l-0.3,0.0M253.3,110.0l0.1,0.0M258.0,109.8l0.5,0.1M263.2,109.5l0.1,0.5M267.8,109.5l0.8,0.3M273.4,109.4l-0.3,0.2M278.3,109.1l-0.2,0.6M282.8,109.3l0.7,0.0M288.1,109.1l0.0,0.2M292.9,109.0l0.5,0.1M297.8,108.9l0.6,0.1M303.0,108.8l-0.0,0.0M307.9,108.5l0.3,0.4M313.1,108.5l-0.2,0.0M317.9,108.2l0.0,0.5M323.0,108.2l-0.2,0.2M327.7,107.9l0.3,0.6M332.4,108.0l0.8,0.1M337.7,107.7l0.2,0.5M342.8,107.8l0.0,0.1M347.8,107.7l-0.0,0.1M353.2,107.5l-0.8,0.3M357.8,107.5l-0.2,0.0M148.9,117.7l0.4,0.3M153.9,117.7l0.3,0.1M159.4,117.6l-0.7,0.2M164.0,117.5l0.0,0.0M169.0,117.3l-0.0,0.2M173.8,117.2l0.3,0.2M178.9,117.0l0.1,0.3M183.6,116.8l0.6,0.6M189.0,116.9l-0.3,0.1M194.0,116.7l-0.4,0.2M198.8,116.7l0.1,0.0M203.8,116.5l0.0,0.0M208.7,116.4l0.0,0.0M213.7,116.3l0.0,0.1M218.5,116.2l0.3,0.1M223.7,115.7l-0.1,0.7M228.7,115.7l-0.2,0.5M233.5,115.5l0.3,0.7M238.6,115.7l-0.0,0.1M243.3,115.4l0.5,0.5M248.4,115.2l0.2,0.6M253.2,115.2l0.6,0.4M258.5,114.9l-0.0,0.7M263.4,114.9l0.0,0.4M268.2,114.6l0.5,0.7M273.5,114.8l-0.4,0.1M278.4,114.8l-0.0,0.0M283.3,114.6l0.0,0.1M293.3,114.3l-0.1,0.3M298.0,113.9l0.4,0.7M303.2,114.1l0.0,0.0M308.2,114.0l-0.1,0.0M313.2,113.8l-0.2,0.2M317.7,113.7l0.8,0.2M333.3,113.3l-0.6,0.3M342.6,113.1l0.7,0.2M348.2,113.0l-0.5,0.2M352.5,112.9l0.8,0.1M362.8,112.6l0.1,0.1M149.3,123.0l-0.2,0.5M154.2,123.1l0.0,0.0M159.2,122.6l-0.1,0.7M164.3,122.6l-0.3,0.6M169.1,122.7l0.0,0.1M173.8,122.6l0.5,0.1M179.1,122.3l-0.1,0.3M183.8,122.0l0.4,0.8M189.3,122.2l-0.5,0.2M194.2,122.0l-0.4,0.2M198.7,121.7l0.6,0.7M203.7,121.6l0.5,0.6M208.9,121.5l-0.0,0.6M213.5,121.6l0.7,0.1M218.6,121.2l0.5,0.7M223.8,121.0l0.1,0.8M228.6,121.1l0.3,0.3M234.0,121.1l-0.6,0.2M238.7,121.0l0.0,0.2M243.3,120.8l0.9,0.2M248.5,120.4l0.3,0.8M253.5,120.5l0.3,0.4M258.6,120.6l0.1,0.1M263.4,120.2l0.4,0.5M268.9,120.3l-0.8,0.2M273.5,120.2l0.0,0.0M278.1,120.0l0.7,0.1M283.9,119.9l-0.8,0.1M288.8,119.7l-0.7,0.4M293.4,119.7l-0.1,0.1M303.6,119.5l-0.5,0.1M308.7,119.3l-0.9,0.2M313.1,119.2l0.3,0.1M318.2,119.1l0.2,0.0M323.4,118.8l-0.3,0.5M328.2,118.9l0.0,0.0M333.2,118.8l-0.0,0.1M338.2,118.4l-0.2,0.6M149.1,128.5l0.5,0.1M154.3,128.4l0.0,0.2M159.7,128.3l-0.6,0.1M164.1,128.2l0.3,0.1M168.8,128.1l0.9,0.0M174.2,127.9l0.0,0.2M179.5,127.8l-0.6,0.0M184.3,127.6l-0.2,0.3M189.1,127.4l0.2,0.3M194.0,127.4l0.2,0.2M199.0,127.2l0.2,0.3M203.9,126.9l0.4,0.7M208.9,126.8l0.4,0.7M214.1,126.8l-0.2,0.4M219.0,126.9l-0.1,0.0M224.1,126.4l-0.3,0.7M229.0,126.5l-0.2,0.2M234.0,126.3l-0.3,0.4M238.9,126.4l-0.1,0.0M243.7,126.0l0.3,0.5M248.8,126.1l-0.0,0.1M253.7,125.8l0.1,0.6M258.7,125.6l0.1,0.7M263.6,125.8l0.3,0.1M269.0,125.6l-0.6,0.1M273.7,125.5l-0.0,0.0M278.5,125.2l0.2,0.6M283.6,125.1l-0.0,0.4M288.7,125.0l-0.3,0.5M293.4,124.8l0.3,0.5M298.6,124.8l-0.1,0.4M308.5,124.7l-0.0,0.1M313.3,124.6l0.3,0.1M318.5,124.5l-0.1,0.0M333.1,123.7l0.4,0.8M338.3,123.9l-0.0,0.1M363.2,123.3l-0.2,0.1M164.4,133.5l0.1,0.1M169.6,133.0l-0.3,0.8M174.7,133.0l-0.6,0.7M179.3,133.1l0.1,0.2M184.1,132.7l0.5,0.7M189.3,132.9l-0.0,0.0M194.0,132.6l0.5,0.5M199.2,132.4l0.1,0.6M204.3,132.5l-0.3,0.3M209.2,132.4l0.0,0.1M214.5,132.2l-0.6,0.4M219.3,131.9l-0.3,0.7M224.3,131.8l-0.5,0.6M229.3,131.8l-0.5,0.3M234.1,131.6l-0.0,0.6M238.9,131.7l0.3,0.1M243.9,131.5l0.1,0.3M249.1,131.3l-0.3,0.5M253.9,131.3l-0.0,0.2M259.1,131.2l-0.4,0.1M264.2,131.0l-0.6,0.3M268.8,130.7l0.1,0.7M273.6,130.8l0.4,0.3M278.9,130.8l-0.3,0.0M283.9,130.7l-0.2,0.0M293.5,130.3l0.3,0.2M303.7,129.8l-0.1,0.8M308.3,129.9l0.6,0.3M313.5,129.9l0.2,0.0M318.4,129.7l0.3,0.2M333.5,129.2l-0.1,0.4M363.6,128.7l-0.6,0.0M169.6,138.8l0.0,0.1M174.5,138.6l0.1,0.1M179.8,138.2l-0.6,0.6M184.3,138.2l0.3,0.5M189.3,138.1l0.2,0.3M194.1,138.1l0.7,0.2M199.5,137.9l-0.2,0.4M204.1,137.8l0.6,0.2M209.2,137.7l0.2,0.2M214.6,137.3l-0.5,0.8M224.1,137.2l0.2,0.5M229.5,137.2l-0.5,0.2M234.1,137.2l0.2,0.0M239.3,136.7l-0.3,0.7M244.1,136.9l0.0,0.1M248.8,136.8l0.6,0.1M254.2,136.5l-0.3,0.5M259.1,136.6l-0.2,0.0M264.0,136.2l-0.1,0.7M268.9,136.4l0.2,0.0M273.9,136.2l0.1,0.2M279.1,136.0l-0.3,0.2M288.7,135.7l0.3,0.3M293.9,135.7l-0.2,0.1M298.7,135.6l0.3,0.0M303.8,135.4l-0.1,0.2M309.1,135.3l-0.7,0.3M313.7,134.9l0.1,0.8M318.6,135.0l0.2,0.4M323.3,134.9l0.7,0.3M328.6,134.8l0.0,0.4M363.9,134.0l-0.9,0.1M169.5,143.9l0.4,0.5M174.7,144.0l-0.0,0.0M179.6,143.9l0.0,0.1M184.3,143.8l0.7,0.0M190.0,143.5l-0.7,0.4M194.4,143.4l0.4,0.3M199.6,143.1l-0.0,0.7M204.5,143.2l0.1,0.2M209.5,143.1l0.0,0.1M214.4,142.9l0.1,0.3M219.5,142.8l-0.1,0.3M224.5,142.8l-0.2,0.1M229.5,142.5l-0.3,0.3M234.7,142.4l-0.6,0.4M239.0,142.3l0.6,0.3M244.2,142.2l0.2,0.2M249.1,142.2l0.4,0.0M254.5,141.9l-0.5,0.4M259.4,141.8l-0.5,0.3M269.1,141.6l-0.0,0.2M274.1,141.3l-0.1,0.6M279.1,141.4l-0.1,0.2M283.7,141.3l0.6,0.1M288.8,141.0l0.3,0.4M294.0,140.9l-0.0,0.5M298.9,140.9l0.1,0.2M303.7,140.9l0.4,0.0M308.8,140.8l0.2,0.0M313.9,140.5l-0.0,0.3M318.9,140.5l-0.1,0.0M323.8,140.3l0.0,0.2M328.8,140.2l-0.1,0.1M358.8,139.3l-0.4,0.6M169.8,149.3l0.1,0.4M174.8,149.3l0.0,0.0M179.5,148.9l0.7,0.6M184.9,148.9l-0.2,0.3M189.4,148.8l0.6,0.4M194.8,148.8l-0.1,0.1M200.0,148.6l-0.6,0.3M204.7,148.6l-0.0,0.1M209.8,148.4l-0.3,0.3M214.6,148.2l0.0,0.5M219.4,148.2l0.3,0.2M224.5,148.1l0.2,0.2M229.5,148.0l0.1,0.1M234.4,147.8l0.2,0.2M239.6,147.6l-0.2,0.4M244.3,147.3l0.2,0.8M249.3,147.4l0.3,0.3M254.3,147.4l0.1,0.0M259.2,147.1l0.3,0.4M264.4,147.0l-0.1,0.4M268.9,146.9l0.8,0.3M274.6,146.9l-0.8,0.1M278.9,146.6l0.6,0.5M289.2,146.6l0.0,0.0M294.1,146.5l0.0,0.0M304.4,146.0l-0.6,0.5M309.4,146.0l-0.8,0.2M314.2,145.9l-0.3,0.1M318.8,145.8l0.3,0.1M323.7,145.5l0.5,0.4M358.6,144.8l0.3,0.2M363.9,144.8l-0.3,0.0M170.2,154.8l-0.4,0.0M180.3,154.4l-0.7,0.4M185.0,154.2l-0.1,0.5M189.8,154.2l0.1,0.3M194.8,154.2l0.2,0.1M199.7,153.7l0.3,0.7M204.7,153.8l0.3,0.3M209.6,153.5l0.4,0.8M214.5,153.4l0.5,0.7M219.8,153.6l-0.1,0.1M225.1,153.5l-0.8,0.1M229.4,153.0l0.6,0.7M234.5,153.2l0.2,0.1M239.9,152.9l-0.5,0.4M249.9,152.8l-0.7,0.2M254.5,152.6l0.0,0.3M259.6,152.6l-0.3,0.2M264.7,152.5l-0.4,0.1M269.6,152.1l-0.3,0.6M274.5,152.1l-0.2,0.5M279.4,152.2l-0.1,0.0M284.4,152.1l-0.0,0.0M289.4,151.9l-0.1,0.1M294.6,151.6l-0.6,0.3M299.3,151.7l-0.0,0.0M304.0,151.3l0.5,0.6M309.0,151.1l0.3,0.7M314.0,151.3l0.3,0.0M324.1,150.9l-0.1,0.4M359.0,150.1l-0.2,0.2M363.8,149.9l0.1,0.5M169.9,159.9l0.5,0.6M174.8,160.0l0.6,0.2M179.9,159.8l0.3,0.3M185.2,159.5l-0.3,0.7M190.0,159.6l-0.0,0.1M195.2,159.2l-0.4,0.8M200.0,159.3l-0.1,0.4M205.3,159.1l-0.7,0.4M209.5,159.1l0.8,0.2M215.0,158.9l-0.3,0.3M220.1,158.9l-0.4,0.2M229.9,158.7l-0.2,0.1M234.8,158.5l-0.0,0.3M240.1,158.3l-0.7,0.3M244.9,158.1l-0.3,0.6M250.0,158.1l-0.7,0.2M254.3,158.0l0.8,0.3M259.4,157.7l0.4,0.6M264.4,157.8l0.4,0.2M269.3,157.6l0.6,0.3M274.9,157.5l-0.7,0.2M279.4,157.3l0.2,0.4M284.5,157.3l0.0,0.2M289.4,157.2l0.1,0.1M294.6,157.0l-0.3,0.4M299.8,156.9l-0.8,0.3M304.3,156.5l0.1,0.8M309.4,156.7l-0.0,0.3M314.3,156.4l-0.0,0.5M354.0,155.7l0.1,0.1M359.0,155.6l0.0,0.0M364.3,155.3l-0.5,0.4M170.4,165.5l-0.2,0.1M175.3,165.4l0.1,0.0M180.5,165.0l-0.6,0.6M185.4,165.0l-0.3,0.4M190.0,165.0l0.3,0.1M195.3,164.6l-0.3,0.7M200.2,164.8l-0.0,0.0M205.2,164.3l-0.2,0.8M210.2,164.2l-0.3,0.7M215.1,164.4l-0.0,0.1M220.0,164.3l0.1,0.0M225.1,164.1l-0.2,0.2M230.0,164.1l-0.0,0.0M234.7,163.8l0.4,0.3M240.0,163.7l-0.3,0.2M249.7,163.5l0.2,0.2M254.9,163.4l-0.3,0.1M269.9,163.0l-0.3,0.1M274.5,162.9l0.4,0.1M279.6,162.8l0.1,0.0M284.7,162.5l-0.2,0.4M289.4,162.5l0.5,0.3M294.5,162.5l0.1,0.1M299.5,162.4l0.1,0.0M304.4,162.0l0.3,0.6M309.5,162.0l-0.0,0.2M314.0,162.0l0.8,0.1M319.5,161.8l-0.2,0.2M324.5,161.7l-0.1,0.3M354.2,161.0l0.0,0.1M364.4,160.5l-0.4,0.6M170.6,170.7l-0.3,0.4M175.7,170.7l-0.5,0.0M180.2,170.6l0.5,0.1M185.6,170.2l-0.5,0.6M190.4,170.1l-0.1,0.5M195.1,170.0l0.3,0.6M200.4,170.0l-0.2,0.4M205.2,170.0l0.0,0.0M210.5,169.6l-0.5,0.6M215.0,169.7l0.4,0.1M220.2,169.3l-0.0,0.8M225.0,169.5l0.3,0.2M230.0,169.2l0.2,0.4M234.9,169.0l0.3,0.5M240.1,169.1l-0.2,0.2M245.2,169.0l-0.4,0.1M249.8,168.6l0.3,0.6M255.1,168.8l-0.4,0.0M260.2,168.5l-0.5,0.3M264.6,168.4l0.6,0.3M269.5,168.3l0.7,0.3M275.0,168.2l-0.4,0.4M279.6,167.8l0.4,0.8M284.8,167.7l0.0,0.7M289.7,168.0l0.1,0.0M295.1,167.8l-0.7,0.2M299.4,167.4l0.5,0.7M304.3,167.4l0.7,0.4M309.8,167.2l-0.4,0.5M314.6,167.1l-0.0,0.5M359.1,166.0l0.5,0.5M364.3,166.1l-0.0,0.2M170.5,176.2l0.2,0.1M175.2,176.1l0.7,0.0M180.3,175.9l0.5,0.1M185.9,175.8l-0.8,0.0M190.5,175.7l-0.1,0.1M195.5,175.5l0.0,0.2M200.3,175.1l0.3,0.8M205.8,175.3l-0.8,0.0M210.4,175.1l-0.0,0.2M215.2,174.9l0.2,0.4M220.2,175.0l0.3,0.0M224.8,174.9l0.9,0.0M230.1,174.4l0.2,0.7M235.3,174.6l-0.1,0.2M240.2,174.2l0.0,0.7M245.3,174.0l-0.2,0.8M250.3,174.3l-0.3,0.0M254.9,173.8l0.5,0.6M260.1,174.0l-0.0,0.1M265.1,173.9l-0.1,0.1M269.9,173.7l0.3,0.2M275.0,173.6l0.0,0.1M280.1,173.3l-0.4,0.5M284.9,173.4l-0.0,0.0M290.1,173.1l-0.4,0.5M294.9,173.2l-0.1,0.1M299.7,173.1l0.2,0.0M304.8,172.9l-0.1,0.1M309.4,172.7l0.7,0.2M359.3,171.4l0.3,0.5M364.6,171.5l-0.3,0.1M170.3,181.5l0.9,0.2M175.7,181.3l0.1,0.3M180.7,181.3l0.0,0.0M185.4,181.0l0.5,0.4M190.5,181.0l0.2,0.2M195.7,180.7l-0.2,0.4M200.3,180.6l0.5,0.6M205.4,180.6l0.4,0.2M215.5,180.4l-0.1,0.1M220.5,180.3l-0.2,0.0M225.8,180.0l-0.7,0.4M230.5,180.0l-0.1,0.2M235.1,179.9l0.6,0.1M245.6,179.6l-0.6,0.4M250.5,179.3l-0.4,0.7M254.9,179.5l0.8,0.1M260.1,179.3l0.3,0.3M264.8,179.2l0.8,0.1M269.9,178.9l0.5,0.4M275.5,178.7l-0.6,0.6M280.1,178.9l0.1,0.1M284.7,178.7l0.7,0.2M290.2,178.5l-0.2,0.3M295.0,178.5l0.1,0.0M300.4,178.3l-0.7,0.3M304.7,178.1l0.6,0.4M310.3,178.2l-0.8,0.0M359.6,176.8l0.0,0.4M364.5,176.8l0.3,0.0M176.2,186.6l-0.6,0.3M185.6,186.4l0.4,0.3M191.2,186.2l-0.8,0.4M195.6,186.2l0.3,0.3M201.0,186.0l-0.6,0.3M210.5,185.6l0.3,0.8M215.6,185.6l0.1,0.3M220.5,185.6l0.1,0.2M245.1,185.0l0.7,0.3M250.6,184.8l-0.3,0.4M255.5,184.7l-0.3,0.4M260.1,184.5l0.6,0.5M265.5,184.4l-0.3,0.5M270.5,184.4l-0.4,0.1M275.2,184.0l0.3,0.7M280.3,184.2l-0.1,0.1M285.3,184.1l-0.1,0.1M290.2,184.0l-0.0,0.0M295.0,183.9l0.3,0.0M300.1,183.6l-0.0,0.3M310.3,183.3l-0.4,0.5M171.3,192.2l-0.6,0.1M175.9,191.9l0.1,0.5M185.8,191.7l0.3,0.3M190.7,191.7l0.5,0.0M201.0,191.3l-0.3,0.5M205.8,191.3l0.1,0.2M210.5,191.0l0.7,0.5M220.9,190.7l-0.2,0.7M225.7,190.8l0.0,0.2M230.8,190.7l-0.1,0.2M245.6,190.4l0.0,0.0M250.7,189.9l-0.3,0.8M255.6,190.2l-0.1,0.0M260.5,189.8l0.1,0.6M265.6,189.9l-0.1,0.2M270.3,189.7l0.3,0.4M290.8,189.2l-0.8,0.3M305.2,188.9l0.0,0.2M315.1,188.7l0.2,0.2M166.5,197.5l-0.5,0.5M175.9,197.3l0.4,0.3M181.1,197.2l-0.0,0.3M186.4,197.2l-0.5,0.1M191.2,197.0l-0.3,0.2M196.1,196.6l-0.1,0.7M200.8,196.8l0.4,0.1M226.1,196.0l-0.5,0.5M230.8,196.1l0.0,0.1M236.0,196.0l-0.4,0.1M270.7,195.0l-0.2,0.4M275.6,195.1l0.0,0.0M280.7,194.9l-0.3,0.1M310.3,194.1l0.1,0.3M364.8,192.5l0.4,0.7M186.3,202.5l-0.0,0.1M191.0,202.3l0.5,0.3M201.0,202.1l0.4,0.2M206.5,201.8l-0.8,0.5M216.5,201.8l-0.8,0.1M221.1,201.6l-0.1,0.3M246.1,200.8l-0.3,0.6M250.5,200.9l0.7,0.2M265.7,200.3l0.1,0.6M281.0,200.2l-0.6,0.2M286.0,200.0l-0.6,0.3M300.6,199.6l0.0,0.3M305.7,199.6l-0.3,0.2M360.1,198.2l0.2,0.2M365.0,198.1l0.3,0.2M156.2,208.5l0.8,0.3M196.3,207.6l0.1,0.3M206.3,207.2l-0.1,0.6M216.2,207.1l0.1,0.1M221.4,207.0l-0.3,0.2M225.9,206.9l0.5,0.2M231.0,206.6l0.4,0.5M235.9,206.7l0.4,0.1M246.0,206.5l0.1,0.0M251.0,206.2l0.1,0.4M256.4,206.2l-0.8,0.1M261.0,206.1l0.0,0.0M265.5,205.9l0.8,0.2M286.1,205.5l-0.6,0.1M295.6,204.9l0.2,0.7M360.8,203.7l-0.9,0.0M365.4,203.5l-0.0,0.1M156.9,213.9l-0.3,0.2M161.8,213.6l-0.2,0.5M167.0,213.7l-0.6,0.1M172.0,213.4l-0.8,0.4M181.3,213.3l0.5,0.1M191.6,213.1l-0.2,0.1M201.4,212.9l0.0,0.0M206.4,212.7l0.1,0.1M211.3,212.5l0.3,0.3M216.1,212.5l0.6,0.1M230.9,212.1l0.7,0.1M236.0,211.9l0.5,0.4M241.3,211.9l-0.2,0.2M251.2,211.3l-0.1,0.8M261.0,211.2l0.2,0.6M271.0,210.9l0.1,0.6M275.9,211.0l0.3,0.2M296.0,210.4l-0.1,0.5M365.4,208.9l0.2,0.0M156.9,219.0l-0.1,0.7M166.9,218.8l-0.1,0.6M181.4,218.7l0.8,0.0M191.4,218.5l0.5,0.1M196.3,218.3l0.6,0.2M201.7,218.0l-0.3,0.4M206.2,218.0l0.8,0.3M211.4,217.9l0.4,0.3M231.0,217.5l0.8,0.0M246.2,216.9l0.3,0.5M266.2,216.4l0.0,0.6M276.4,216.4l-0.4,0.1M285.8,215.9l0.6,0.6M296.1,215.7l-0.1,0.5M162.2,224.5l-0.3,0.0M181.6,223.9l0.6,0.3M186.5,223.8l0.7,0.3M191.8,223.7l0.1,0.4M236.8,222.6l-0.4,0.2M246.6,222.1l-0.3,0.8M266.4,222.0l-0.1,0.0M271.3,221.8l0.0,0.2M276.2,221.7l0.3,0.1M281.3,221.6l0.0,0.2M157.5,229.8l-0.6,0.4M192.0,229.1l-0.1,0.2M196.8,229.1l0.3,0.0M226.7,228.2l0.2,0.2M231.6,228.2l0.3,0.1M236.5,228.1l0.5,0.1M246.7,227.5l-0.0,0.7M251.6,227.7l0.0,0.0M256.4,227.5l0.4,0.2M261.7,227.2l-0.2,0.6M286.5,226.7l-0.2,0.3M191.8,234.3l0.7,0.5M207.4,234.0l-0.7,0.3M216.9,233.9l0.2,0.1M242.0,233.0l-0.3,0.6M251.8,232.7l0.0,0.7M256.9,232.7l-0.3,0.5M267.0,232.6l-0.7,0.2M271.6,232.2l0.1,0.7M276.7,232.4l-0.1,0.1M296.2,231.8l0.5,0.4M157.2,240.7l0.5,0.0M206.9,239.5l0.6,0.0M212.1,239.3l0.1,0.1M226.8,239.0l0.4,0.1M276.6,237.5l0.4,0.7M291.6,237.2l0.2,0.6M192.3,245.0l0.3,0.4M197.1,245.0l0.5,0.2M211.9,244.6l0.7,0.2M217.3,244.6l-0.2,0.1M222.1,244.5l0.2,0.1M227.2,244.3l0.0,0.1M232.1,244.2l0.3,0.1M237.2,244.1l-0.1,0.1M246.8,243.7l0.6,0.3M252.2,243.4l-0.2,0.8M256.9,243.6l0.3,0.2M261.7,243.3l0.6,0.5M277.1,243.0l-0.4,0.4M281.9,243.0l-0.0,0.0M297.2,242.5l-0.8,0.3M197.6,250.2l-0.2,0.4M252.1,248.9l0.2,0.4M257.4,248.6l-0.4,0.8M267.0,248.4l0.3,0.7M282.1,248.4l-0.2,0.1M302.2,247.8l-0.6,0.2M257.3,254.2l0.0,0.4M262.4,253.9l-0.2,0.6M297.1,253.3l-0.1,0.1M307.3,258.3l-0.3,0.3M312.2,258.4l-0.2,0.0M262.6,264.8l-0.0,0.2M272.4,264.7l0.3,0.0M263.0,269.9l-0.5,0.7M267.7,270.1l0.1,0.1M262.8,275.5l0.2,0.3M267.7,275.4l0.2,0.1M272.7,275.1l0.2,0.5M278.0,275.1l-0.4,0.3M282.6,275.0l0.4,0.2M287.4,274.8l0.8,0.4" stroke="#4a86c2" stroke-width="1.2" stroke-linecap="round" stroke-opacity="0.6" fill="none"/><path d="M246.4,71.5l1.8,2.4M276.0,72.0l2.2,0.1M167.7,78.5l0.4,3.1M177.6,78.8l0.5,1.8M206.6,78.1l2.2,1.8M216.8,77.8l1.6,1.9M306.4,75.6l1.4,2.1M326.6,75.5l0.8,1.3M336.7,74.4l0.6,2.9M172.5,84.1l1.2,2.3M325.7,80.7l3.0,1.6M331.8,79.8l0.7,3.2M361.0,79.9l1.8,1.4M157.7,90.2l1.2,1.5M163.0,90.3l0.4,1.0M167.7,90.2l1.1,0.9M301.8,86.3l1.4,2.3M292.2,91.8l1.0,2.5M326.8,91.2l1.2,1.9M218.3,98.5l-0.1,3.3M322.9,96.2l-0.6,2.8M337.0,95.6l1.1,3.4M341.8,96.4l1.5,1.5M163.3,105.4l0.9,3.0M173.2,106.1l0.8,1.0M178.3,105.8l0.7,1.4M316.9,102.2l1.8,1.8M331.5,101.2l2.5,3.0M168.3,111.4l1.1,1.4M173.6,111.5l0.4,1.0M207.3,110.2l2.5,1.9M223.6,109.2l-0.2,3.0M362.0,106.0l1.3,2.8M287.8,113.2l1.0,2.7M321.9,112.5l2.4,2.4M327.0,112.6l2.1,1.9M338.4,111.9l-0.8,2.9M298.1,118.4l0.6,2.4M342.7,117.6l0.9,1.9M302.5,123.9l1.9,1.9M323.9,123.3l-1.0,2.2M328.0,123.2l0.8,2.2M287.3,129.2l2.8,2.8M298.9,129.5l-0.5,1.7M322.2,128.9l2.7,1.6M327.7,128.1l1.5,2.9M219.2,136.7l0.2,1.7M283.5,135.6l0.8,0.9M263.8,141.2l0.7,1.3M363.3,138.7l0.5,1.5M283.9,145.7l0.6,2.0M298.7,144.5l0.8,3.7M174.9,153.9l0.2,1.7M245.2,151.5l-1.2,3.0M319.4,150.3l-0.4,1.7M224.1,158.4l1.4,0.9M244.7,162.2l0.3,3.0M259.0,162.2l1.6,2.4M264.8,162.7l-0.2,1.2M358.4,159.7l1.7,2.5M317.8,166.5l3.6,1.5M313.8,172.4l1.9,0.7M209.8,179.1l1.4,2.9M240.5,178.5l-0.4,2.7M313.1,177.8l3.6,0.6M180.8,185.9l0.1,1.6M205.9,185.2l-0.3,1.7M225.2,184.9l0.8,1.4M230.5,184.0l0.2,2.9M234.9,184.2l1.2,2.2M239.9,184.2l1.2,2.0M304.5,182.6l1.3,2.1M314.1,183.2l1.9,0.5M195.6,190.9l0.6,1.6M216.4,189.6l-1.2,3.1M234.6,189.8l2.1,1.7M239.9,189.1l1.5,3.0M275.4,189.0l-0.0,1.5M280.4,189.0l0.1,1.2M284.9,188.4l1.0,2.2M294.8,188.8l1.0,0.9M299.8,188.0l0.9,2.3M308.7,188.6l3.0,0.5M205.5,195.6l1.0,2.4M210.7,195.7l0.4,1.9M215.7,196.0l0.4,1.1M220.7,195.4l0.5,2.0M240.5,195.4l0.6,1.0M245.0,195.0l1.5,1.6M249.9,194.2l1.7,2.8M255.3,194.9l0.8,1.3M260.3,193.9l0.8,3.0M266.0,194.7l-0.8,1.1M285.2,194.1l0.7,1.4M290.0,194.0l1.0,1.5M294.5,194.0l2.0,1.2M299.9,193.9l1.2,1.2M304.2,193.7l2.5,1.2M181.1,202.2l0.4,1.0M195.9,201.6l0.6,1.5M210.9,201.3l0.4,1.4M225.8,200.5l0.5,2.2M230.5,201.0l0.9,0.9M234.8,200.7l2.4,1.3M240.8,200.0l0.3,2.6M255.6,199.5l0.6,2.7M260.3,200.2l1.1,1.2M270.4,199.1l0.6,2.9M275.4,198.9l0.7,3.0M289.8,199.4l1.7,1.2M294.8,198.7l1.6,2.4M161.6,208.0l-0.0,1.0M176.3,206.9l0.4,2.6M181.5,207.2l-0.1,1.6M186.0,206.4l0.8,3.0M191.3,207.1l0.2,1.5M200.3,206.3l1.9,2.5M211.8,206.1l-1.1,2.4M240.4,206.3l1.4,0.6M270.7,204.9l0.4,1.9M275.2,205.2l1.3,1.1M280.0,204.9l1.8,1.5M290.2,203.9l1.2,2.9M301.2,204.0l-0.9,2.3M304.9,204.4l1.6,1.2M176.3,212.5l0.7,2.0M185.9,212.5l1.3,1.4M196.5,212.1l-0.0,1.9M221.0,211.6l0.8,1.6M226.2,211.4l0.1,1.8M245.7,210.9l0.9,1.9M255.7,210.7l0.9,1.8M265.9,209.9l0.3,2.8M280.8,210.4l0.3,1.1M285.5,209.4l0.9,2.8M291.0,209.1l-0.0,3.3M161.4,217.8l0.8,2.8M186.4,217.5l0.6,2.2M216.0,217.1l1.0,1.6M221.4,217.2l0.1,1.2M226.5,216.2l0.0,3.0M236.2,216.8l0.4,1.2M240.3,216.2l2.2,2.2M251.3,215.4l0.0,3.2M255.7,216.2l1.1,1.4M261.1,216.2l0.2,1.2M271.1,216.1l0.3,1.0M281.4,214.9l-0.5,2.9M156.9,223.5l0.3,2.4M196.8,222.7l-0.1,2.1M201.5,222.3l0.6,2.6M205.9,222.9l1.7,1.1M211.4,222.3l0.7,2.1M216.1,222.4l1.1,1.6M220.3,222.5l2.7,1.3M226.1,222.2l1.0,1.6M230.3,222.6l2.6,0.6M241.3,222.2l0.5,0.9M250.9,220.8l1.1,3.2M255.5,221.6l1.9,1.4M260.3,221.3l2.2,1.6M285.3,220.3l1.9,2.5M289.3,222.2l3.8,-1.6M201.3,227.5l1.3,3.0M206.6,228.3l0.6,1.1M212.2,227.4l-0.7,2.6M216.9,227.2l-0.1,2.8M221.4,227.7l0.7,1.6M241.0,227.0l1.4,2.0M266.2,227.0l0.7,0.8M271.2,226.7l0.6,1.0M276.2,226.6l0.5,1.1M282.7,226.1l-2.6,1.8M290.2,226.4l2.3,0.7M196.2,233.1l1.7,2.6M200.8,233.4l2.5,1.9M211.7,233.4l0.7,1.4M221.6,233.3l0.8,1.1M226.2,232.6l1.4,2.1M231.7,233.0l0.4,1.2M235.7,232.3l2.2,2.4M246.0,232.6l1.6,1.2M261.1,232.3l1.2,1.0M280.9,230.8l1.3,3.0M285.3,231.5l2.5,1.4M290.1,231.5l2.9,1.2M192.1,239.0l0.4,1.8M197.8,238.6l-1.1,2.4M201.5,238.5l1.3,2.2M216.6,238.2l1.1,2.1M221.4,237.7l1.4,2.9M231.8,237.7l0.4,2.5M236.8,237.9l0.4,1.7M241.6,238.0l0.8,1.4M247.1,236.9l-0.3,3.3M252.4,237.1l-1.0,2.7M256.9,236.8l-0.1,2.9M261.5,236.6l0.7,3.1M266.6,237.0l0.4,2.1M271.7,236.9l0.1,2.1M280.8,236.8l1.9,1.8M286.2,236.3l1.0,2.5M295.2,236.9l3.0,0.9M202.4,243.9l-0.2,2.2M206.6,244.1l1.4,1.6M240.3,244.0l3.6,0.1M266.6,242.6l0.8,1.7M271.7,241.7l0.5,3.3M285.7,242.0l2.2,1.8M301.5,241.3l0.6,2.6M305.8,241.5l1.9,1.9M262.2,248.3l-0.0,1.1M272.1,247.5l0.0,2.2M276.6,247.5l1.0,2.0M286.1,247.6l1.8,1.4M290.0,248.6l4.0,-0.8M306.4,247.4l1.0,0.8M311.4,247.3l0.9,0.7M265.5,253.8l3.6,0.6M270.7,252.8l3.1,2.5M280.5,252.6l3.3,2.2M285.5,253.3l3.2,0.7M290.5,252.8l3.2,1.5M301.0,253.2l2.2,0.0M306.5,251.7l1.1,3.0M311.5,252.9l1.1,0.3M266.5,258.9l1.9,1.1M276.2,258.1l2.2,2.1M281.1,259.0l2.4,0.2M290.7,258.5l3.2,0.8M295.4,259.4l3.6,-1.4M300.2,258.7l4.0,-0.1M315.9,258.0l2.5,0.4M266.2,264.6l2.7,0.4M281.6,264.2l1.8,0.4M286.1,263.5l2.6,1.6M290.7,263.5l3.4,1.4M295.9,263.7l2.9,0.7M301.2,263.5l2.4,1.0M305.5,264.2l3.7,-0.8M311.0,263.0l2.6,1.3M315.4,263.4l3.8,0.5M271.2,268.7l3.1,2.6M281.2,269.5l2.8,0.6M286.6,269.3l1.9,0.7M296.4,268.9l2.3,1.1M310.6,269.1l3.6,-0.2M291.4,273.9l2.7,2.0M296.1,274.5l3.2,0.6M306.0,273.7l3.3,1.6M311.5,274.4l2.1,-0.1M316.5,273.8l2.2,1.0" stroke="#94c6e6" stroke-width="1.0" stroke-linecap="round" stroke-opacity="0.75" fill="none"/></g><use href="#fg"/></g>
<g transform="translate(328.0,0.0)"><use href="#base"/><g clip-path="url(#axclip)"><path d="M237.5,72.7l-0.1,0.4M247.4,72.7l-0.1,0.0M252.3,72.4l-0.0,0.3M257.2,72.4l0.2,0.1M262.2,72.0l-0.0,0.6M267.5,72.2l-0.5,0.0M272.2,71.9l0.0,0.5M276.9,71.8l0.4,0.4M281.8,71.7l0.7,0.3M287.0,71.7l0.3,0.1M291.9,71.5l0.4,0.2M297.1,71.5l-0.2,0.1M307.2,71.2l-0.4,0.1M311.8,71.1l0.3,0.0M321.9,70.9l0.1,0.0M326.7,70.6l0.3,0.4M331.8,70.6l0.1,0.0M361.9,69.8l-0.4,0.2M148.0,80.4l0.2,0.2M152.8,80.0l0.4,0.8M158.1,80.1l-0.2,0.2M173.1,79.6l-0.3,0.5M177.5,79.6l0.8,0.4M182.8,79.6l0.0,0.1M188.1,79.2l-0.6,0.6M197.7,79.2l0.1,0.1M202.8,79.1l-0.1,0.0M207.7,78.9l0.0,0.2M212.5,78.7l0.4,0.4M222.7,78.5l-0.1,0.3M227.6,78.5l0.1,0.1M232.2,78.3l0.8,0.3M237.8,78.3l-0.5,0.1M242.2,78.1l0.6,0.1M247.2,77.9l0.6,0.3M252.5,77.9l-0.0,0.0M257.7,77.6l-0.5,0.5M262.1,77.4l0.5,0.5M267.4,77.4l0.0,0.4M272.4,77.2l-0.2,0.5M277.2,77.1l0.2,0.5M282.4,77.1l-0.2,0.2M287.4,76.9l-0.3,0.4M292.3,77.0l-0.2,0.0M307.4,76.5l-0.6,0.2M312.2,76.4l-0.1,0.3M316.9,76.1l0.2,0.6M327.2,76.0l-0.4,0.3M331.7,76.0l0.5,0.1M337.2,75.6l-0.4,0.6M342.1,75.7l-0.4,0.2M356.5,75.2l0.7,0.3M361.8,75.1l-0.0,0.4M148.2,85.7l-0.0,0.1M153.1,85.7l0.2,0.0M172.9,85.0l0.3,0.4M178.3,84.8l-0.6,0.5M183.1,84.8l-0.3,0.3M187.9,84.8l0.1,0.0M192.7,84.7l0.5,0.1M197.9,84.5l0.1,0.2M202.6,84.5l0.6,0.1M208.0,84.3l-0.4,0.2M213.0,84.2l-0.3,0.1M217.9,84.0l-0.3,0.3M222.8,83.9l-0.0,0.1M228.0,83.7l-0.5,0.3M232.5,83.7l0.4,0.1M238.1,83.6l-0.8,0.1M242.5,83.2l0.2,0.6M247.7,83.3l-0.2,0.2M252.6,83.0l-0.0,0.6M257.2,82.9l0.8,0.4M262.6,83.0l-0.2,0.0M267.4,82.8l0.3,0.2M272.3,82.7l0.3,0.1M282.8,82.5l-0.8,0.2M287.4,82.1l0.1,0.7M292.3,82.1l0.1,0.3M307.4,81.8l-0.2,0.3M317.1,81.3l0.2,0.8M322.2,81.6l0.0,0.0M327.0,81.5l0.2,0.0M336.9,80.9l0.3,0.7M347.0,80.9l0.1,0.3M357.1,80.6l-0.2,0.3M362.0,80.6l-0.2,0.1M148.7,90.9l-0.7,0.5M153.3,91.0l0.1,0.0M163.4,90.6l-0.3,0.3M178.3,90.4l-0.2,0.1M183.1,90.3l0.0,0.0M193.0,90.0l0.1,0.2M198.0,89.8l0.1,0.3M202.9,89.8l0.4,0.0M207.7,89.4l0.5,0.6M213.3,89.5l-0.6,0.2M218.1,89.3l-0.2,0.3M222.7,89.2l0.5,0.3M228.1,89.0l-0.4,0.6M232.8,88.8l0.2,0.7M238.1,88.7l-0.5,0.7M242.7,88.6l0.2,0.6M247.8,88.5l0.0,0.5M253.1,88.4l-0.8,0.4M257.9,88.5l-0.3,0.1M262.3,88.3l0.7,0.2M267.8,88.1l-0.4,0.3M272.6,88.1l-0.1,0.1M277.7,88.0l-0.1,0.1M282.2,87.7l0.7,0.5M287.6,87.7l-0.1,0.3M292.4,87.5l0.2,0.4M297.6,87.5l-0.3,0.1M302.3,87.3l0.3,0.3M312.7,87.2l-0.5,0.0M322.5,86.7l-0.4,0.5M327.1,86.6l0.4,0.4M337.3,86.5l-0.2,0.1M342.6,86.4l-0.8,0.1M352.1,86.2l0.1,0.1M362.2,85.8l-0.3,0.3M148.5,96.3l-0.0,0.4M158.5,96.1l-0.1,0.3M163.5,96.1l-0.3,0.2M173.5,95.7l-0.4,0.4M178.4,95.8l-0.2,0.1M183.4,95.5l-0.3,0.4M188.3,95.4l0.0,0.2M193.4,95.4l-0.3,0.0M198.4,95.1l-0.4,0.3M203.3,95.2l-0.3,0.0M208.2,95.0l-0.0,0.2M213.3,94.7l-0.3,0.5M218.4,94.7l-0.6,0.1M223.1,94.3l-0.0,0.9M228.1,94.6l-0.1,0.0M232.8,94.1l0.4,0.7M238.2,94.0l-0.5,0.6M242.5,94.1l0.9,0.2M248.2,94.1l-0.5,0.1M252.8,93.9l0.3,0.1M257.8,93.6l0.0,0.4M262.9,93.7l-0.2,0.1M267.8,93.6l0.0,0.1M272.7,93.4l0.1,0.1M277.9,93.3l-0.3,0.2M282.4,93.0l0.6,0.5M293.0,92.9l-0.7,0.2M297.4,92.8l0.5,0.2M302.5,92.6l0.2,0.3M307.5,92.7l0.0,0.0M317.7,92.2l-0.4,0.4M322.4,92.3l0.1,0.0M327.5,92.1l-0.2,0.1M332.4,92.0l-0.0,0.0M337.4,91.9l0.1,0.1M342.5,91.7l-0.2,0.3M352.2,91.6l0.1,0.0M362.2,91.3l0.2,0.1M148.5,101.6l0.2,0.5M163.5,101.5l0.2,0.0M173.5,101.2l0.1,0.1M178.5,100.9l-0.0,0.5M183.4,101.0l0.1,0.1M188.7,100.9l-0.5,0.0M193.6,100.6l-0.4,0.4M198.4,100.6l-0.0,0.1M203.2,100.4l0.3,0.2M213.2,100.2l0.1,0.3M218.5,100.0l-0.5,0.3M222.9,99.7l0.6,0.6M228.2,99.9l-0.0,0.1M233.2,99.6l-0.1,0.5M238.2,99.6l-0.2,0.3M242.9,99.5l0.4,0.1M248.5,99.4l-0.8,0.1M253.4,99.2l-0.7,0.3M258.1,99.1l-0.1,0.2M262.8,98.7l0.4,0.8M267.7,98.8l0.5,0.4M272.8,98.8l0.3,0.1M278.0,98.5l-0.2,0.4M282.6,98.3l0.5,0.6M287.8,98.5l0.0,0.0M297.9,97.9l-0.2,0.8M302.9,98.0l-0.3,0.2M308.0,97.9l-0.7,0.2M312.6,97.7l0.3,0.3M317.9,97.6l-0.6,0.4M337.2,97.2l0.7,0.1M342.2,96.9l0.6,0.4M347.6,96.7l-0.2,0.7M357.5,96.6l-0.1,0.3M362.3,96.7l0.1,0.0M153.8,106.8l-0.1,0.5M158.7,106.9l0.0,0.1M173.7,106.5l-0.2,0.2M183.6,106.2l-0.1,0.4M188.6,106.2l-0.0,0.0M193.3,106.1l0.5,0.1M198.5,105.9l-0.0,0.3M203.6,105.5l-0.3,0.8M208.5,105.7l-0.1,0.2M213.5,105.4l-0.2,0.4M218.5,105.4l-0.1,0.3M223.3,105.2l0.1,0.4M228.5,105.0l-0.3,0.4M233.2,105.1l0.3,0.1M238.2,105.0l0.1,0.1M243.0,104.9l0.4,0.0M248.3,104.7l-0.1,0.2M253.1,104.4l0.2,0.5M258.2,104.3l-0.1,0.4M262.9,104.2l0.4,0.5M268.0,104.2l0.1,0.2M273.0,104.0l0.2,0.3M277.8,104.0l0.5,0.2M283.1,103.7l-0.2,0.6M297.8,103.5l0.3,0.1M302.9,103.5l-0.0,0.0M307.9,103.2l-0.0,0.3M312.4,103.2l0.9,0.1M322.6,103.0l0.4,0.0M327.6,102.8l0.4,0.1M332.6,102.6l0.2,0.3M342.6,102.1l0.1,0.9M352.9,102.2l-0.6,0.2M357.5,101.8l0.1,0.6M362.7,101.7l-0.3,0.6M149.1,112.5l-0.3,0.1M163.6,112.1l0.6,0.3M173.9,111.8l-0.3,0.3M178.9,111.8l-0.3,0.1M183.6,111.7l0.3,0.0M188.5,111.6l0.5,0.0M193.7,111.4l-0.1,0.1M198.6,111.3l0.1,0.1M203.9,111.0l-0.5,0.5M208.6,110.8l-0.1,0.6M213.6,110.9l-0.2,0.1M218.2,110.8l0.6,0.1M223.5,110.7l0.0,0.1M228.6,110.5l-0.2,0.3M233.4,110.3l0.1,0.3M238.5,110.3l-0.1,0.2M243.0,110.2l0.7,0.1M248.4,110.0l-0.1,0.3M253.2,109.7l0.2,0.6M258.3,109.9l0.0,0.0M263.5,109.5l-0.5,0.5M268.3,109.5l-0.2,0.2M273.3,109.5l-0.2,0.1M278.2,109.2l-0.1,0.3M283.3,109.3l-0.2,0.1M288.3,108.9l-0.4,0.6M293.2,108.8l-0.1,0.5M303.0,108.5l0.1,0.6M307.7,108.6l0.6,0.2M312.9,108.5l0.3,0.1M323.0,108.3l-0.1,0.1M327.6,107.9l0.6,0.6M333.0,108.0l-0.3,0.2M337.5,107.9l0.6,0.2M342.9,107.7l-0.2,0.2M347.7,107.7l0.1,0.0M353.2,107.5l-0.8,0.3M357.3,107.5l0.8,0.1M149.1,117.8l0.0,0.2M154.0,117.6l0.1,0.3M158.7,117.4l0.8,0.5M163.9,117.3l0.1,0.4M169.0,117.2l-0.1,0.4M174.0,117.1l-0.2,0.4M178.8,116.9l0.2,0.5M183.8,117.0l0.2,0.0M188.7,116.9l0.2,0.1M193.8,116.7l0.1,0.3M198.7,116.6l0.2,0.1M203.7,116.1l0.2,0.8M209.1,116.4l-0.7,0.1M213.5,116.0l0.5,0.5M218.5,116.0l0.4,0.4M223.6,116.0l0.1,0.1M228.3,115.8l0.7,0.3M233.9,115.7l-0.6,0.3M238.3,115.5l0.5,0.5M243.4,115.2l0.2,0.7M248.5,115.5l-0.0,0.0M253.5,115.4l-0.0,0.0M258.4,115.2l0.0,0.0M263.4,114.9l0.1,0.4M268.4,115.0l0.1,0.0M273.4,114.9l0.0,0.0M278.3,114.8l0.0,0.0M283.4,114.4l-0.2,0.5M288.0,114.5l0.6,0.1M293.0,114.2l0.4,0.3M298.3,114.2l-0.2,0.1M308.4,113.7l-0.4,0.7M313.2,113.7l-0.1,0.4M317.8,113.5l0.6,0.6M323.1,113.7l0.0,0.0M328.0,113.4l-0.0,0.2M333.0,113.1l0.0,0.6M338.4,113.2l-0.9,0.2M362.8,112.4l0.1,0.7M149.6,123.1l-0.8,0.3M154.5,122.9l-0.5,0.4M159.0,122.9l0.3,0.2M164.1,122.7l0.1,0.3M169.3,122.5l-0.3,0.5M174.0,122.6l0.1,0.0M179.2,122.2l-0.3,0.7M184.3,122.2l-0.4,0.4M189.3,122.1l-0.6,0.3M194.3,122.0l-0.6,0.4M199.0,122.0l-0.0,0.0M203.8,121.8l0.3,0.1M208.9,121.8l-0.0,0.0M214.2,121.6l-0.7,0.2M218.9,121.4l-0.1,0.4M223.6,121.2l0.5,0.5M233.8,120.9l-0.1,0.5M238.4,120.8l0.6,0.6M243.6,120.8l0.1,0.3M248.4,120.7l0.6,0.2M253.7,120.7l-0.1,0.1M258.6,120.5l0.0,0.1M263.7,120.4l-0.2,0.2M268.6,120.2l-0.0,0.3M273.5,120.2l-0.0,0.1M278.7,119.9l-0.4,0.4M283.2,119.8l0.4,0.3M288.5,119.8l-0.1,0.2M293.2,119.6l0.4,0.3M298.5,119.5l-0.2,0.2M303.5,119.3l-0.3,0.3M308.2,119.0l0.1,0.7M313.6,119.2l-0.6,0.1M318.4,119.1l-0.3,0.0M323.3,118.9l-0.2,0.3M333.3,118.7l-0.2,0.2M338.5,118.6l-0.7,0.2M149.2,128.4l0.4,0.3M159.5,128.0l-0.4,0.6M164.3,128.2l0.1,0.1M169.1,127.9l0.3,0.4M174.1,127.9l0.3,0.2M179.2,127.8l0.1,0.2M184.2,127.6l0.0,0.2M189.2,127.6l-0.1,0.0M194.2,127.5l-0.1,0.0M199.1,127.0l0.0,0.7M204.1,127.1l0.0,0.4M209.0,127.0l0.1,0.2M213.8,126.8l0.5,0.4M218.6,126.8l0.7,0.2M224.2,126.8l-0.5,0.0M228.6,126.5l0.7,0.3M233.6,126.4l0.5,0.3M238.6,126.3l0.6,0.2M244.0,126.3l-0.4,0.0M254.0,126.0l-0.4,0.1M258.7,125.9l0.1,0.0M264.0,125.6l-0.5,0.5M268.6,125.6l0.2,0.1M273.8,125.5l-0.2,0.1M278.7,125.4l-0.0,0.1M283.6,125.3l-0.0,0.0M288.7,125.1l-0.2,0.1M293.7,124.8l-0.3,0.5M298.3,124.9l0.4,0.2M303.4,124.6l0.1,0.4M308.8,124.7l-0.6,0.0M313.1,124.5l0.6,0.2M323.5,124.3l-0.2,0.0M328.5,124.2l-0.3,0.1M333.6,124.0l-0.7,0.2M338.4,124.0l-0.3,0.0M164.4,133.4l0.1,0.4M169.7,133.2l-0.5,0.5M174.2,133.3l0.4,0.1M179.4,133.2l0.0,0.0M184.7,133.0l-0.8,0.2M189.0,132.8l0.7,0.4M194.3,132.7l0.0,0.2M199.1,132.6l0.3,0.2M204.6,132.6l-0.7,0.0M209.1,132.5l0.2,0.1M214.1,132.3l0.0,0.0M219.2,132.2l-0.1,0.1M224.1,132.0l0.0,0.2M228.9,131.9l0.4,0.1M233.6,131.9l0.8,0.0M238.9,131.5l0.3,0.5M243.7,131.3l0.5,0.7M248.7,131.5l0.6,0.1M253.9,131.4l-0.0,0.1M258.9,131.3l0.1,0.0M269.2,131.0l-0.7,0.1M274.0,130.6l-0.5,0.6M278.6,130.6l0.4,0.5M283.5,130.4l0.6,0.5M298.9,130.3l-0.4,0.1M304.0,130.1l-0.8,0.2M308.4,129.8l0.4,0.6M318.8,129.6l-0.4,0.4M323.6,129.7l-0.2,0.1M328.5,129.3l0.1,0.6M333.3,129.5l0.3,0.0M363.5,128.5l-0.4,0.5M169.6,138.7l-0.1,0.2M174.6,138.4l-0.2,0.6M179.5,138.5l0.0,0.1M184.5,138.1l-0.0,0.7M189.8,138.2l-0.6,0.2M194.4,138.2l-0.0,0.0M199.4,138.0l0.0,0.1M204.0,137.8l0.7,0.2M209.7,137.8l-0.6,0.1M214.3,137.7l-0.1,0.1M219.0,137.4l0.6,0.4M224.1,137.1l0.3,0.7M229.2,137.3l-0.0,0.0M234.3,137.1l-0.2,0.3M239.0,136.8l0.4,0.7M244.3,136.9l-0.3,0.2M249.4,136.7l-0.5,0.3M253.8,136.6l0.5,0.3M259.1,136.5l-0.1,0.3M268.8,136.2l0.4,0.4M274.0,136.0l-0.2,0.6M278.9,136.1l-0.0,0.1M283.7,135.6l0.4,0.7M294.2,135.5l-0.8,0.5M298.6,135.3l0.4,0.7M303.8,135.5l0.0,0.2M308.8,135.1l-0.1,0.6M313.8,135.0l-0.2,0.5M318.5,135.1l0.4,0.1M323.4,134.9l0.5,0.4M363.1,134.0l0.7,0.3M169.6,143.7l0.2,0.8M174.3,144.0l0.7,0.0M179.4,143.5l0.4,0.7M184.2,143.6l0.8,0.3M189.7,143.4l-0.2,0.5M199.5,143.4l0.1,0.0M204.7,143.2l-0.3,0.2M209.4,143.0l0.1,0.4M214.5,142.8l-0.1,0.5M219.4,142.6l-0.0,0.7M224.7,142.5l-0.5,0.7M229.5,142.3l-0.2,0.9M234.2,142.5l0.2,0.0M239.2,142.3l0.1,0.2M244.1,142.2l0.4,0.3M249.1,142.2l0.4,0.1M254.4,142.0l-0.4,0.1M259.4,141.7l-0.3,0.5M264.1,141.6l0.1,0.5M269.1,141.7l-0.0,0.0M273.9,141.2l0.3,0.7M279.3,141.1l-0.4,0.8M284.3,141.1l-0.5,0.6M289.2,141.0l-0.4,0.5M299.3,141.0l-0.7,0.0M304.0,140.7l-0.1,0.4M308.6,140.7l0.6,0.1M358.5,139.5l0.3,0.1M363.5,139.4l0.1,0.1M169.9,149.3l-0.0,0.3M174.7,149.1l0.3,0.4M179.8,149.2l0.0,0.0M185.1,149.1l-0.7,0.0M189.9,148.8l-0.2,0.4M195.1,148.9l-0.7,0.0M199.8,148.6l-0.3,0.3M204.7,148.6l-0.1,0.0M214.4,148.1l0.4,0.5M220.0,148.1l-0.8,0.3M224.7,148.1l-0.4,0.0M229.8,147.7l-0.6,0.7M234.8,147.7l-0.6,0.4M239.2,147.8l0.6,0.1M244.3,147.6l0.3,0.2M249.5,147.5l-0.2,0.1M254.0,147.4l0.8,0.0M259.3,147.2l-0.0,0.2M263.9,147.0l0.7,0.4M269.2,146.8l0.1,0.6M274.4,146.9l-0.3,0.1M279.2,146.8l-0.0,0.0M284.2,146.4l0.1,0.6M289.0,146.6l0.4,0.0M294.2,146.2l-0.1,0.5M299.1,146.3l-0.1,0.0M304.0,145.9l0.2,0.6M314.3,145.8l-0.5,0.3M324.1,145.4l-0.2,0.6M358.8,144.5l-0.2,0.7M363.6,144.6l0.3,0.3M170.1,154.8l-0.2,0.1M174.9,154.5l0.1,0.4M179.9,154.3l0.1,0.5M185.2,154.4l-0.6,0.0M189.7,154.3l0.5,0.0M194.9,154.2l-0.1,0.1M199.7,153.9l0.3,0.5M204.6,153.7l0.4,0.6M209.9,153.8l-0.3,0.0M214.6,153.7l0.2,0.1M219.8,153.5l-0.1,0.3M225.1,153.5l-0.7,0.0M229.8,153.3l-0.3,0.2M235.0,153.1l-0.6,0.3M239.6,153.1l-0.0,0.1M244.7,152.9l-0.3,0.2M249.6,152.7l-0.1,0.5M254.4,152.6l0.3,0.3M259.5,152.6l0.0,0.1M264.4,152.2l0.2,0.7M269.6,152.2l-0.3,0.5M274.4,152.1l-0.1,0.4M284.1,151.9l0.4,0.3M288.9,151.9l0.7,0.2M294.1,151.8l0.5,0.1M299.2,151.4l0.2,0.5M304.4,151.4l-0.4,0.4M309.4,151.4l-0.3,0.2M313.9,151.0l0.6,0.6M358.9,149.9l0.1,0.7M364.0,149.9l-0.2,0.5M169.9,160.0l0.5,0.3M174.9,159.9l0.4,0.3M180.0,159.8l0.1,0.2M185.3,159.6l-0.4,0.5M190.1,159.4l-0.1,0.6M195.0,159.5l0.1,0.2M200.0,159.4l-0.1,0.1M210.1,158.9l-0.4,0.6M215.0,158.7l-0.3,0.9M219.6,158.7l0.6,0.6M224.9,158.8l-0.0,0.1M229.8,158.7l-0.0,0.1M234.7,158.2l0.1,0.7M239.8,158.5l-0.0,0.0M244.6,158.0l0.3,0.7M249.7,158.2l-0.0,0.0M254.7,158.1l-0.1,0.0M259.4,157.8l0.5,0.5M264.3,157.7l0.7,0.3M269.5,157.4l0.1,0.8M274.5,157.6l0.1,0.0M279.6,157.4l-0.3,0.2M284.5,157.4l0.0,0.1M289.5,157.1l-0.2,0.4M294.5,156.8l-0.1,0.7M304.6,156.8l-0.4,0.1M314.3,156.7l-0.1,0.0M353.9,155.4l0.4,0.7M359.1,155.5l-0.0,0.1M363.8,155.2l0.5,0.5M170.6,165.5l-0.6,0.1M175.2,165.4l0.2,0.0M180.1,165.1l0.3,0.4M185.1,165.1l0.2,0.1M189.9,164.8l0.6,0.4M195.0,164.9l0.2,0.0M200.1,164.8l-0.0,0.1M204.9,164.6l0.5,0.1M219.8,164.1l0.5,0.4M224.7,164.0l0.7,0.5M230.1,163.9l-0.3,0.4M234.7,163.8l0.5,0.4M239.9,163.8l0.0,0.0M244.9,163.7l-0.1,0.1M250.2,163.6l-0.7,0.1M255.2,163.4l-0.7,0.1M259.8,163.3l0.0,0.1M264.8,162.9l-0.1,0.6M269.7,163.0l0.1,0.1M274.6,162.9l0.1,0.1M279.5,162.8l0.4,0.2M284.6,162.6l-0.0,0.3M289.6,162.6l-0.1,0.1M294.1,162.5l0.9,0.0M299.5,162.2l0.1,0.4M304.5,162.2l0.1,0.2M354.3,161.0l-0.1,0.1M359.1,160.9l0.1,0.1M364.3,160.6l-0.4,0.5M170.1,170.5l0.6,0.6M175.5,170.7l-0.2,0.0M180.3,170.4l0.1,0.5M185.3,170.3l0.1,0.4M190.0,170.3l0.7,0.2M195.3,169.8l-0.1,0.8M200.2,170.1l0.2,0.1M205.4,170.0l-0.3,0.0M210.3,169.8l-0.2,0.3M215.0,169.7l0.4,0.2M220.4,169.4l-0.5,0.4M225.3,169.4l-0.4,0.3M230.3,169.3l-0.4,0.3M235.0,169.2l0.1,0.1M240.4,169.0l-0.7,0.5M244.9,168.7l0.3,0.8M249.6,168.7l0.7,0.5M254.8,168.7l0.2,0.2M260.1,168.6l-0.3,0.1M264.9,168.5l0.0,0.1M269.8,168.3l0.2,0.2M275.1,168.3l-0.4,0.1M285.2,168.0l-0.8,0.2M289.7,167.8l0.1,0.4M294.5,167.5l0.4,0.7M299.5,167.7l0.4,0.0M304.6,167.4l0.0,0.4M309.9,167.2l-0.4,0.6M314.5,167.3l0.1,0.2M359.4,165.9l-0.1,0.8M364.3,165.9l-0.0,0.4M170.6,176.2l-0.1,0.0M175.7,176.1l-0.3,0.1M180.3,175.7l0.4,0.6M185.5,175.8l0.1,0.1M190.5,175.7l-0.1,0.1M195.5,175.4l-0.1,0.3M200.5,175.3l-0.1,0.4M205.5,175.2l-0.3,0.3M210.5,174.8l-0.2,0.9M215.5,174.7l-0.4,0.8M220.3,174.7l-0.1,0.6M225.4,174.9l-0.3,0.0M230.0,174.4l0.6,0.7M235.0,174.4l0.4,0.5M240.4,174.3l-0.4,0.4M245.4,174.4l-0.5,0.1M250.3,174.1l-0.4,0.4M255.4,174.0l-0.6,0.4M260.3,173.7l-0.5,0.7M265.1,173.6l-0.0,0.7M270.3,173.4l-0.5,0.7M274.7,173.5l0.6,0.4M285.1,173.4l-0.4,0.1M289.9,173.3l0.0,0.1M294.9,172.8l-0.1,0.9M299.8,172.7l0.2,0.7M304.5,172.9l0.7,0.2M309.4,172.7l0.8,0.3M359.3,171.5l0.3,0.2M364.6,171.5l-0.2,0.1M171.0,181.3l-0.5,0.5M176.1,181.3l-0.7,0.3M180.7,181.3l0.0,0.1M185.9,181.1l-0.5,0.1M190.6,181.0l0.2,0.1M195.9,180.8l-0.6,0.4M200.8,180.7l-0.4,0.2M205.2,180.7l0.6,0.0M210.5,180.6l0.1,0.1M215.2,180.4l0.5,0.1M220.3,180.2l0.3,0.2M225.3,180.0l0.3,0.5M230.6,180.0l-0.3,0.3M235.2,179.9l0.3,0.1M240.0,179.7l0.6,0.3M245.2,179.4l0.2,0.6M250.5,179.6l-0.4,0.1M255.1,179.5l0.2,0.1M260.3,179.0l-0.2,0.9M265.3,178.8l-0.2,0.8M270.0,179.1l0.3,0.2M275.1,178.9l0.1,0.2M280.0,178.7l0.3,0.3M285.2,178.5l-0.2,0.5M289.8,178.5l0.4,0.4M295.0,178.5l0.1,0.1M299.8,178.2l0.4,0.4M305.0,178.3l0.0,0.1M310.1,177.8l-0.3,0.8M315.0,178.0l-0.2,0.1M320.0,177.5l-0.2,0.9M359.7,176.8l-0.1,0.4M364.5,176.5l0.2,0.7M175.9,186.8l-0.0,0.0M180.9,186.6l-0.1,0.2M186.1,186.3l-0.5,0.6M190.7,186.3l0.2,0.1M195.8,186.3l-0.1,0.0M205.7,186.0l0.0,0.1M230.4,185.3l0.4,0.3M240.6,185.0l-0.3,0.4M250.2,184.9l0.4,0.2M255.5,184.6l-0.3,0.4M260.2,184.4l0.3,0.7M265.2,184.6l0.2,0.0M270.5,184.2l-0.4,0.5M275.3,184.3l-0.1,0.2M280.2,184.2l0.2,0.0M285.4,183.7l-0.3,0.8M290.0,183.7l0.4,0.7M294.9,183.7l0.6,0.4M300.1,183.7l0.0,0.1M171.0,192.2l0.0,0.0M186.0,191.9l-0.1,0.0M191.1,191.6l-0.3,0.3M195.7,191.6l0.4,0.1M200.8,191.5l0.2,0.0M205.5,191.3l0.8,0.2M225.6,190.9l0.3,0.0M230.4,190.7l0.6,0.2M235.6,190.4l0.2,0.5M240.8,190.4l-0.4,0.3M245.5,190.4l0.3,0.1M260.5,190.0l0.1,0.1M280.2,189.5l0.4,0.2M290.0,189.2l0.6,0.4M295.6,189.2l-0.5,0.0M300.3,189.1l-0.0,0.1M165.9,197.6l0.6,0.3M176.1,197.3l0.2,0.4M181.3,197.3l-0.3,0.2M190.8,196.9l0.5,0.4M201.2,196.5l-0.3,0.8M221.1,196.1l-0.4,0.6M225.9,196.2l-0.1,0.2M246.1,195.5l-0.7,0.5M251.0,195.5l-0.5,0.4M255.7,195.5l0.1,0.1M260.8,195.4l-0.3,0.1M275.1,195.0l0.9,0.1M280.3,194.8l0.6,0.2M285.5,194.8l0.0,0.1M310.6,194.2l-0.4,0.1M365.1,192.7l-0.0,0.4M181.3,202.4l-0.1,0.6M186.0,202.5l0.4,0.1M191.2,202.3l0.0,0.4M196.0,202.2l0.5,0.3M205.9,201.9l0.4,0.4M211.0,201.9l0.2,0.0M216.4,201.8l-0.6,0.0M220.9,201.7l0.2,0.0M245.7,201.1l0.4,0.1M250.6,200.7l0.5,0.6M265.6,200.6l0.3,0.1M270.5,200.3l0.6,0.5M285.8,199.9l-0.3,0.6M290.6,200.0l0.0,0.1M295.7,199.9l-0.1,0.0M300.9,199.8l-0.7,0.1M305.4,199.3l0.3,0.8M360.4,198.2l-0.4,0.3M365.2,198.0l-0.1,0.4M156.5,208.2l0.1,0.8M161.5,208.5l0.1,0.1M191.3,207.8l0.1,0.0M196.2,207.4l0.3,0.5M201.3,207.5l0.0,0.1M221.1,206.9l0.2,0.4M226.2,207.0l-0.0,0.0M236.4,206.6l-0.7,0.3M256.0,206.2l-0.1,0.1M266.0,206.0l-0.1,0.1M270.8,205.5l0.2,0.7M280.9,205.4l-0.1,0.4M286.0,205.3l-0.3,0.4M295.5,204.9l0.5,0.7M301.0,205.1l-0.5,0.2M360.4,203.5l0.0,0.4M365.0,203.3l0.6,0.6M156.7,214.0l0.1,0.0M171.6,213.6l0.1,0.1M176.6,213.2l0.1,0.5M181.6,213.0l0.0,0.7M186.5,213.3l0.0,0.0M196.8,212.8l-0.7,0.5M206.4,212.8l0.0,0.0M236.3,211.8l-0.1,0.6M251.2,211.5l-0.1,0.3M261.1,211.5l-0.0,0.0M271.3,211.2l-0.5,0.0M275.9,210.9l0.2,0.4M290.9,210.7l0.1,0.1M365.5,208.9l0.0,0.1M156.7,219.0l0.4,0.7M167.1,218.7l-0.6,0.7M181.5,218.7l0.5,0.1M186.3,218.4l0.8,0.4M191.6,218.2l0.2,0.5M196.6,218.3l0.1,0.1M216.5,217.5l0.0,0.9M221.5,217.5l-0.0,0.6M231.3,217.4l0.2,0.2M236.0,217.3l0.8,0.1M241.3,217.2l0.1,0.2M256.1,216.8l0.5,0.2M260.8,216.8l0.9,0.1M266.3,216.4l-0.2,0.5M276.2,216.4l-0.0,0.0M280.7,216.3l0.8,0.0M162.0,224.5l-0.0,0.1M192.1,223.7l-0.5,0.2M226.7,222.9l-0.2,0.1M231.5,222.9l0.2,0.0M246.8,222.4l-0.6,0.2M251.4,222.1l0.1,0.7M266.5,221.9l-0.3,0.3M271.4,221.9l-0.1,0.1M281.5,221.6l-0.3,0.2M286.5,221.4l-0.4,0.3M157.1,229.8l0.2,0.5M192.0,229.0l-0.1,0.3M206.8,228.7l0.1,0.1M211.8,228.7l0.1,0.0M217.0,228.6l-0.3,0.0M246.5,227.6l0.4,0.5M251.4,227.7l0.4,0.0M256.5,227.5l0.1,0.2M261.3,227.3l0.5,0.3M266.5,227.4l-0.0,0.0M271.6,227.0l-0.1,0.6M281.4,227.0l0.0,0.0M206.9,234.1l0.2,0.1M216.8,233.8l0.3,0.3M231.8,233.6l0.2,0.0M271.6,232.2l0.1,0.9M276.6,232.3l0.0,0.4M281.4,232.3l0.4,0.2M286.4,231.9l0.4,0.8M197.2,239.7l0.0,0.2M207.0,239.4l0.3,0.2M211.9,239.3l0.5,0.2M226.8,238.9l0.6,0.2M232.2,238.8l-0.3,0.1M242.3,238.4l-0.6,0.6M266.8,237.9l0.0,0.3M271.7,237.7l0.2,0.6M202.3,244.9l0.1,0.2M212.3,244.7l0.0,0.0M217.3,244.5l0.0,0.2M222.5,244.1l-0.5,0.7M227.2,244.1l0.0,0.5M232.2,244.1l-0.1,0.4M242.3,243.9l-0.4,0.1M257.3,243.5l-0.6,0.4M261.6,243.3l0.8,0.4M267.3,243.4l-0.6,0.1M272.1,243.1l-0.2,0.4M286.9,242.8l-0.1,0.2M296.8,242.6l-0.1,0.1M197.6,250.0l-0.1,0.8M252.1,248.9l0.2,0.5M272.1,248.6l-0.1,0.1M286.8,247.9l0.5,0.8M297.1,248.0l-0.4,0.1M257.8,254.3l-0.9,0.1M287.2,253.5l-0.2,0.3M307.2,252.9l-0.3,0.5M292.4,258.4l-0.2,0.8M317.1,258.2l0.1,0.0M267.7,264.7l-0.3,0.2M282.3,264.2l0.3,0.6M292.3,263.9l0.3,0.5M297.6,263.8l-0.5,0.6M317.1,263.4l0.3,0.3M272.5,269.9l0.3,0.1M277.5,269.8l0.2,0.3M317.6,268.6l-0.4,0.6M297.4,274.6l0.6,0.4" stroke="#4a86c2" stroke-width="1.2" stroke-linecap="round" stroke-opacity="0.6" fill="none"/><path d="M242.3,72.2l0.1,1.4M301.9,70.6l0.1,1.6M317.5,69.1l-1.2,3.8M336.2,68.8l1.2,3.4M342.1,68.8l-0.6,3.3M346.4,68.8l0.6,2.9M352.1,68.5l-0.7,3.4M356.7,69.3l-0.1,1.5M163.1,79.5l-0.3,1.1M167.1,78.7l1.7,2.5M192.8,78.5l0.1,1.9M217.5,78.2l0.2,1.3M296.7,75.8l1.0,2.1M302.2,75.8l-0.1,1.9M322.1,74.4l-0.1,3.7M345.7,74.3l2.4,2.8M351.8,74.0l0.0,3.0M158.7,84.7l-1.0,1.8M163.7,83.9l-1.1,3.2M168.0,84.3l0.1,2.0M278.1,81.9l-1.2,1.5M296.6,80.6l1.4,3.2M302.7,80.8l-0.8,2.6M311.8,81.2l0.8,1.3M331.7,80.2l0.9,2.2M341.8,79.7l0.5,2.9M353.0,79.8l-2.0,2.1M158.3,89.9l-0.0,2.0M168.1,89.4l0.3,2.6M174.0,89.4l-1.6,2.2M189.3,89.3l-2.3,1.9M307.6,85.4l-0.3,3.9M316.9,85.2l0.9,3.7M331.2,85.6l2.2,2.3M346.9,85.4l0.5,1.8M355.7,84.8l2.8,2.6M154.1,95.9l-1.3,1.1M168.6,95.6l-0.5,0.9M288.0,91.5l-0.7,3.3M311.5,91.4l2.0,2.2M346.3,90.9l2.0,1.7M357.2,90.4l0.2,2.0M153.8,101.1l-0.3,1.2M159.4,100.9l-1.7,1.4M169.4,100.8l-1.7,1.1M207.6,99.0l1.3,2.8M293.3,97.2l-1.1,2.4M322.4,96.4l0.4,2.6M327.2,95.8l0.8,3.4M331.9,96.4l1.3,2.1M353.4,95.3l-1.9,3.2M149.2,106.6l-0.8,1.2M164.6,106.3l-1.7,1.1M168.8,106.1l-0.3,1.2M178.4,105.7l0.4,1.6M287.3,102.9l1.4,1.9M293.0,102.1l-0.1,3.2M317.8,101.8l-0.0,2.5M338.6,101.6l-1.9,2.1M347.9,101.0l-0.5,2.8M153.2,111.0l1.5,2.9M159.5,111.7l-1.3,1.2M169.3,111.4l-0.9,1.3M298.3,107.5l-0.4,2.9M317.7,107.3l0.5,2.2M363.0,106.2l-0.6,2.3M302.8,113.3l0.7,1.8M342.9,112.3l0.2,1.8M348.2,111.4l-0.5,3.4M352.6,112.2l0.5,1.6M230.0,120.3l-2.4,2.0M327.8,117.0l0.7,3.8M342.6,116.9l0.9,3.2M155.2,127.1l-1.7,2.8M249.3,125.9l-1.1,0.5M318.4,123.4l0.0,2.1M363.6,121.9l-0.9,3.0M263.8,130.3l0.0,1.7M287.4,129.3l2.7,2.4M293.3,129.3l0.7,2.2M313.7,128.5l-0.3,3.0M264.8,135.9l-1.6,1.1M288.4,134.7l1.0,2.4M328.3,133.2l0.7,3.4M194.3,142.3l0.6,2.4M293.9,139.5l0.2,3.3M313.9,139.6l-0.1,2.2M318.8,139.4l-0.0,2.3M323.7,139.3l0.3,2.2M327.9,138.8l1.7,2.9M209.4,147.0l0.4,3.1M308.7,145.0l0.7,2.2M318.6,144.6l0.7,2.5M279.1,151.5l0.6,1.3M319.4,149.9l-0.5,2.6M324.4,150.2l-0.6,1.8M204.7,158.6l0.5,1.4M299.6,155.6l-0.3,2.8M309.0,155.5l0.7,2.7M319.0,155.5l0.5,2.2M210.5,163.5l-0.9,2.1M215.2,163.9l-0.3,1.0M309.9,161.0l-0.9,2.2M314.7,161.3l-0.4,1.5M319.6,160.9l-0.3,2.0M279.9,166.7l-0.2,3.1M319.1,165.4l0.9,3.6M280.2,173.0l-0.6,1.0M319.3,171.4l1.0,2.3M200.9,185.5l-0.4,1.3M211.2,184.6l-1.0,2.7M215.9,184.4l-0.5,2.8M221.5,184.3l-1.8,2.9M226.6,184.6l-2.0,1.9M235.5,183.8l0.0,3.0M245.7,184.4l-0.5,1.5M304.6,182.8l1.0,1.8M310.2,182.5l-0.1,2.1M174.8,191.1l2.4,2.1M210.6,190.0l0.3,2.6M216.0,190.4l-0.5,1.6M221.4,190.6l-1.3,1.0M250.8,189.1l-0.5,2.4M256.1,189.6l-1.0,1.1M265.9,189.5l-0.9,0.9M270.6,188.7l-0.2,2.3M275.6,189.2l-0.3,1.0M285.9,188.5l-1.0,2.0M305.6,187.8l-0.8,2.4M310.2,187.6l0.1,2.6M315.2,187.7l-0.0,2.0M185.9,196.2l0.4,2.0M196.1,196.3l-0.2,1.3M205.9,195.7l0.1,2.1M211.0,196.1l-0.1,1.1M216.2,195.8l-0.6,1.5M231.2,195.7l-0.7,0.8M235.8,194.7l0.0,2.7M241.2,194.5l-0.9,2.7M265.5,194.7l0.3,1.3M271.0,193.7l-0.8,2.9M290.8,193.8l-0.5,1.8M296.1,193.6l-1.3,1.9M301.2,193.1l-1.5,2.7M306.0,193.1l-1.1,2.5M201.1,201.1l0.1,2.3M226.1,200.7l-0.1,1.8M230.9,200.9l0.1,1.1M236.3,200.2l-0.7,2.3M240.5,200.6l0.8,1.3M256.2,199.9l-0.7,2.0M261.4,200.0l-1.2,1.6M275.7,199.5l0.1,1.9M280.6,199.5l0.1,1.6M176.9,207.6l-0.9,1.1M182.7,208.3l-2.5,-0.6M186.0,206.7l0.9,2.5M206.6,206.0l-0.6,2.8M210.8,205.9l0.9,2.8M217.6,206.2l-2.7,1.9M231.2,205.6l-0.1,2.5M241.2,206.0l-0.3,1.2M245.8,204.9l0.6,3.2M251.3,205.9l-0.5,0.9M260.8,204.8l0.3,2.7M276.5,204.8l-1.3,1.9M290.7,204.6l0.2,1.5M305.9,203.4l-0.3,3.3M161.5,213.3l0.4,1.1M167.1,213.0l-0.9,1.4M191.2,212.0l0.7,2.3M201.5,212.3l-0.1,1.1M211.1,211.8l0.7,1.7M216.8,211.3l-0.9,2.4M222.0,211.8l-1.3,1.2M226.7,211.3l-0.8,2.0M232.6,211.7l-2.6,0.9M241.3,210.5l-0.0,2.8M246.4,210.9l-0.4,1.8M256.5,210.6l-0.6,2.0M266.6,209.8l-1.0,3.1M280.9,209.9l0.3,2.1M286.3,209.6l-0.7,2.5M295.4,209.1l1.1,3.1M300.6,209.5l0.5,1.9M163.1,218.5l-2.4,1.5M202.1,217.0l-0.9,2.5M206.8,217.3l-0.4,1.6M212.5,216.9l-1.9,2.1M226.7,217.1l-0.6,1.1M246.0,216.5l0.6,1.2M251.3,216.0l0.0,2.2M270.9,215.9l0.6,1.3M286.2,215.6l-0.1,1.3M296.5,214.1l-0.9,3.7M156.5,224.2l1.1,1.0M181.7,222.4l0.4,3.3M186.1,222.6l1.4,2.6M197.2,222.1l-0.9,3.2M202.1,223.0l-0.6,1.2M206.9,222.6l-0.4,1.7M212.0,221.8l-0.7,3.1M217.3,222.5l-1.2,1.5M222.5,222.6l-1.7,1.0M237.6,221.5l-2.1,2.5M241.6,221.3l-0.1,2.6M256.0,220.9l1.0,2.7M261.7,220.6l-0.6,3.1M275.7,220.8l1.3,2.0M295.8,219.4l0.8,3.9M197.4,228.2l-0.9,1.8M202.0,228.3l-0.1,1.2M221.7,227.3l0.1,2.4M226.9,227.5l-0.3,1.6M231.5,226.7l0.5,3.0M237.2,226.6l-0.9,2.9M241.7,226.5l-0.1,2.9M277.1,226.0l-1.3,2.2M286.4,225.8l-0.0,2.2M295.8,225.0l1.1,3.4M191.6,233.8l1.0,1.4M197.3,233.5l-0.4,1.8M201.7,232.9l0.8,2.8M212.5,233.8l-0.9,0.5M223.2,233.0l-2.5,1.6M226.2,232.6l1.4,2.2M237.6,232.5l-1.4,1.8M242.6,232.1l-1.5,2.4M247.2,231.8l-0.8,2.8M251.9,232.4l-0.3,1.3M257.0,231.6l-0.6,2.8M262.2,231.8l-0.9,2.1M267.0,231.8l-0.7,1.9M291.1,230.9l0.8,2.4M296.2,230.9l0.5,2.3M156.8,238.9l1.4,3.6M192.3,239.4l-0.1,1.0M202.5,238.7l-0.6,1.9M216.4,238.6l1.4,1.3M222.1,238.3l-0.1,1.6M237.1,238.1l-0.3,1.3M246.9,238.0l0.1,1.1M252.8,237.2l-1.7,2.4M256.8,237.3l0.3,2.0M262.4,236.7l-1.1,2.9M276.8,236.1l0.0,3.4M281.4,237.1l0.7,1.1M287.5,236.4l-1.5,2.4M291.7,236.6l-0.0,1.7M296.6,235.5l0.1,3.8M191.8,244.9l1.2,0.7M198.6,244.6l-2.4,1.0M207.5,243.4l-0.3,2.9M236.7,243.1l0.9,2.0M246.8,243.4l0.7,0.9M252.1,243.2l-0.1,1.1M277.2,242.3l-0.7,1.7M283.0,242.0l-2.2,2.1M291.4,241.2l0.9,3.2M301.9,241.5l-0.3,2.2M307.5,241.4l-1.5,2.1M257.4,247.8l-0.4,2.5M262.1,248.3l0.2,1.2M266.9,248.0l0.4,1.6M277.5,247.1l-1.0,2.8M282.8,247.4l-1.6,2.0M291.8,246.1l0.4,4.1M302.5,247.4l-1.1,1.1M306.9,247.0l0.0,1.6M311.0,246.6l1.8,2.1M271.9,252.5l0.7,2.9M282.0,252.8l0.5,2.0M291.9,251.8l0.5,3.4M296.9,252.1l0.5,2.5M302.4,251.3l-0.6,3.9M311.8,252.3l0.5,1.4M262.3,257.7l0.3,3.7M271.5,257.6l1.8,3.4M281.8,257.5l1.1,3.2M287.7,257.8l-0.8,2.4M302.0,256.6l0.4,4.0M306.7,257.5l1.1,2.1M312.2,257.2l-0.1,2.2M261.5,263.6l2.3,2.7M271.7,263.3l1.7,2.8M276.9,262.6l1.2,3.8M287.0,262.7l0.9,3.1M308.0,262.1l-1.4,3.5M311.7,262.7l1.1,2.0M262.7,268.2l0.0,4.1M287.6,268.2l-0.0,2.9M291.6,268.2l1.9,2.6M297.5,268.4l0.1,2.0M306.4,267.4l2.1,3.5M312.3,267.7l0.3,2.8M262.7,274.7l0.5,1.8M267.4,274.0l0.8,3.0M277.7,273.6l0.1,3.4M282.6,274.1l0.3,2.0M287.7,273.9l0.0,2.2M302.5,273.2l0.4,2.9M307.6,272.6l0.1,3.8M312.1,272.9l1.0,3.0M317.2,272.6l0.7,3.5" stroke="#94c6e6" stroke-width="1.0" stroke-linecap="round" stroke-opacity="0.75" fill="none"/></g><use href="#fg"/></g>
<g transform="translate(656.0,0.0)"><use href="#base"/><g clip-path="url(#axclip)"><path d="M237.7,72.7l-0.6,0.4M242.4,72.8l-0.1,0.0M247.3,72.7l-0.0,0.0M252.4,72.5l-0.2,0.1M257.4,72.4l-0.3,0.2M262.0,72.3l0.4,0.2M267.0,72.1l0.3,0.3M272.2,71.7l-0.1,0.9M276.7,71.9l0.9,0.1M281.7,71.7l0.8,0.3M291.8,71.6l0.5,0.1M296.9,71.5l0.3,0.1M302.0,71.1l0.1,0.6M306.8,71.2l0.4,0.2M312.2,70.9l-0.5,0.5M317.3,71.0l-0.8,0.1M321.8,70.8l0.2,0.3M326.6,70.6l0.5,0.3M331.6,70.7l0.4,0.0M337.0,70.5l-0.4,0.0M346.8,70.3l-0.1,0.1M356.6,69.9l0.2,0.3M148.1,80.4l-0.0,0.1M153.2,80.3l-0.4,0.0M158.0,80.0l-0.0,0.5M163.1,80.0l-0.3,0.2M167.9,79.7l0.1,0.7M172.7,79.6l0.5,0.6M177.9,79.5l-0.0,0.4M183.0,79.5l-0.2,0.2M187.9,79.5l-0.1,0.1M193.1,79.4l-0.5,0.0M197.6,79.1l0.3,0.4M203.0,78.8l-0.5,0.7M207.6,78.9l0.2,0.2M212.9,78.8l-0.4,0.1M217.7,78.7l-0.0,0.2M222.5,78.4l0.3,0.5M227.6,78.3l-0.1,0.4M232.8,78.4l-0.4,0.0M237.3,78.1l0.5,0.5M242.6,78.1l-0.1,0.1M247.3,77.8l0.4,0.6M252.4,77.9l0.0,0.1M257.4,77.8l0.0,0.0M262.2,77.5l0.3,0.4M267.0,77.5l0.8,0.2M277.3,77.3l-0.0,0.1M282.0,77.2l0.5,0.0M287.4,77.1l-0.4,0.1M291.9,76.9l0.5,0.2M297.4,76.7l-0.5,0.2M302.2,76.6l-0.1,0.3M307.2,76.5l-0.1,0.2M312.0,76.3l0.2,0.4M316.7,76.2l0.7,0.3M332.3,75.8l-0.6,0.4M337.1,75.7l-0.3,0.4M342.1,75.6l-0.4,0.3M346.6,75.3l0.5,0.6M356.9,75.1l-0.2,0.7M361.9,75.3l-0.1,0.1M158.1,85.5l0.0,0.1M168.1,85.1l-0.1,0.4M173.0,85.2l0.1,0.1M178.0,84.6l-0.0,0.9M183.0,84.9l-0.0,0.2M187.9,84.8l0.1,0.1M193.2,84.5l-0.5,0.5M197.9,84.5l-0.0,0.3M203.1,84.4l-0.5,0.2M212.8,84.1l0.1,0.4M217.8,84.1l0.1,0.0M222.7,83.8l0.1,0.4M227.9,83.7l-0.2,0.4M232.5,83.7l0.3,0.1M237.8,83.5l-0.2,0.2M242.3,83.3l0.8,0.4M247.8,83.3l-0.3,0.2M252.8,83.2l-0.4,0.2M257.5,83.1l0.1,0.0M262.5,83.0l0.1,0.2M267.4,82.7l0.2,0.5M272.8,82.7l-0.7,0.3M277.6,82.7l-0.3,0.0M282.6,82.2l-0.3,0.7M297.3,82.2l0.1,0.1M302.3,82.1l-0.0,0.0M307.2,81.8l0.1,0.3M312.3,81.8l-0.1,0.0M316.9,81.6l0.6,0.2M322.0,81.4l0.4,0.5M327.1,81.1l0.1,0.8M336.7,81.1l0.8,0.2M342.2,81.0l-0.2,0.1M347.0,80.9l0.1,0.1M352.2,80.6l-0.4,0.6M148.4,91.2l-0.0,0.0M153.4,90.7l-0.1,0.7M163.0,90.6l0.5,0.3M167.9,90.7l0.6,0.0M172.9,90.3l0.6,0.6M183.1,90.2l0.0,0.2M188.4,90.2l-0.6,0.0M193.1,90.1l0.1,0.0M197.6,89.9l0.8,0.2M202.9,89.7l0.3,0.3M208.3,89.5l-0.5,0.5M212.9,89.5l0.2,0.1M218.0,89.4l-0.0,0.2M223.2,89.3l-0.6,0.1M227.9,89.2l-0.1,0.0M232.8,89.1l0.1,0.1M237.8,88.9l0.0,0.3M242.7,88.4l0.2,0.9M247.9,88.7l-0.3,0.1M252.5,88.6l0.4,0.0M257.6,88.4l0.3,0.1M262.8,88.1l-0.3,0.6M267.6,87.9l0.0,0.8M272.8,88.1l-0.4,0.1M277.6,88.0l-0.0,0.0M282.3,87.9l0.5,0.0M287.8,87.7l-0.5,0.2M292.5,87.6l-0.0,0.0M297.6,87.4l-0.2,0.3M307.4,86.9l0.0,0.7M312.3,87.2l0.2,0.0M317.4,87.0l-0.2,0.2M327.4,86.8l-0.1,0.1M337.3,86.5l-0.1,0.2M342.3,86.2l-0.1,0.5M347.2,86.1l-0.1,0.4M352.3,86.2l-0.2,0.1M357.1,86.1l-0.0,0.1M362.0,86.0l0.1,0.0M148.4,96.4l0.2,0.1M153.3,96.3l0.3,0.3M158.4,96.1l0.1,0.4M168.5,96.0l-0.3,0.0M173.4,95.5l-0.1,0.7M178.1,95.5l0.4,0.5M183.1,95.4l0.4,0.6M193.5,95.3l-0.5,0.2M198.1,95.3l0.2,0.0M203.2,95.1l-0.0,0.1M208.2,95.0l-0.1,0.1M212.9,94.6l0.4,0.7M218.4,94.7l-0.5,0.2M222.9,94.6l0.2,0.2M228.1,94.5l-0.2,0.2M233.0,94.4l-0.0,0.1M238.1,94.2l-0.3,0.3M242.6,94.2l0.6,0.1M248.1,94.0l-0.4,0.2M253.0,93.9l-0.2,0.1M258.0,93.8l-0.2,0.2M262.8,93.7l0.1,0.0M267.7,93.5l0.1,0.2M272.9,93.4l-0.3,0.2M277.7,93.4l0.0,0.0M282.5,93.1l0.5,0.3M288.0,92.9l-0.6,0.4M292.7,93.0l-0.1,0.1M297.6,92.5l0.1,0.7M302.4,92.5l0.4,0.6M312.5,92.4l0.1,0.2M317.6,92.1l-0.2,0.6M327.5,92.2l-0.0,0.0M332.4,92.0l0.0,0.1M337.1,91.8l0.5,0.3M342.4,91.8l-0.0,0.0M347.3,91.6l0.1,0.2M352.1,91.5l0.5,0.2M356.9,91.4l0.7,0.0M362.3,91.1l-0.1,0.4M148.6,101.4l0.0,0.8M153.8,101.7l-0.3,0.1M158.6,101.4l-0.1,0.5M164.0,101.4l-0.8,0.1M168.5,101.4l0.0,0.0M173.6,101.1l-0.2,0.3M178.7,101.1l-0.4,0.1M183.6,100.9l-0.3,0.2M188.6,100.7l-0.3,0.4M198.3,100.6l0.1,0.2M203.4,100.4l-0.2,0.2M208.3,100.2l-0.0,0.5M213.3,100.2l-0.0,0.2M218.1,100.0l0.2,0.4M223.2,100.0l0.1,0.0M228.3,99.8l-0.2,0.3M233.1,99.7l0.1,0.2M238.2,99.5l-0.2,0.4M243.2,99.4l-0.2,0.4M248.1,99.4l-0.0,0.1M252.8,99.1l0.5,0.5M258.0,99.2l-0.1,0.1M263.2,99.1l-0.5,0.0M267.6,99.0l0.7,0.0M272.7,98.7l0.4,0.3M277.9,98.6l0.0,0.3M282.6,98.4l0.5,0.5M287.8,98.4l0.1,0.1M297.7,98.2l0.1,0.1M302.4,97.9l0.7,0.4M307.6,97.7l0.2,0.6M312.8,97.8l-0.1,0.2M317.3,97.7l0.7,0.0M322.3,97.5l0.7,0.3M332.6,97.4l0.0,0.0M337.5,97.3l0.0,0.0M342.4,97.0l0.3,0.4M347.2,96.9l0.6,0.2M352.5,96.8l-0.1,0.3M357.4,96.5l0.1,0.6M362.2,96.7l0.3,0.0M149.0,107.1l-0.3,0.2M163.9,106.6l-0.4,0.5M168.7,106.3l-0.0,0.9M183.8,106.1l-0.4,0.4M188.8,106.2l-0.4,0.0M193.3,105.9l0.4,0.4M198.6,106.0l-0.2,0.0M203.2,105.8l0.5,0.1M208.4,105.7l0.1,0.1M213.4,105.5l0.1,0.4M218.4,105.3l-0.0,0.4M223.4,105.3l-0.1,0.2M228.3,105.2l-0.0,0.1M233.3,105.1l0.0,0.1M238.3,104.9l-0.1,0.3M243.4,104.8l-0.3,0.2M248.3,104.8l-0.2,0.0M253.3,104.3l-0.3,0.8M258.3,104.5l-0.3,0.1M263.3,104.2l-0.4,0.5M268.0,104.0l0.1,0.6M277.9,103.8l0.2,0.6M283.2,103.8l-0.3,0.2M288.4,103.7l-0.8,0.3M302.9,103.4l-0.0,0.1M308.1,103.1l-0.4,0.5M312.6,103.1l0.4,0.3M317.6,102.8l0.4,0.6M322.4,102.9l0.7,0.1M347.6,102.4l0.0,0.0M357.4,102.1l0.3,0.0M362.3,101.9l0.4,0.3M158.6,112.0l0.5,0.6M168.6,112.0l0.4,0.0M173.8,111.9l0.0,0.1M178.6,111.6l0.4,0.4M183.6,111.5l0.3,0.3M188.8,111.5l-0.3,0.1M193.7,111.2l0.0,0.5M198.7,111.1l-0.0,0.5M203.5,110.9l0.3,0.7M208.7,110.8l-0.2,0.5M213.3,110.8l0.5,0.4M223.6,110.4l-0.1,0.6M228.4,110.5l0.1,0.3M233.3,110.5l0.4,0.1M238.4,110.4l0.1,0.0M243.4,110.0l-0.1,0.5M248.3,110.1l0.0,0.0M253.3,110.0l-0.0,0.0M258.5,109.8l-0.5,0.2M263.2,109.5l0.2,0.5M268.3,109.4l-0.1,0.5M273.3,109.1l-0.1,0.8M278.2,109.4l-0.1,0.0M283.4,109.1l-0.5,0.4M287.9,108.9l0.4,0.6M292.9,108.9l0.5,0.3M298.5,108.9l-0.9,0.1M302.7,108.5l0.6,0.6M308.0,108.6l0.1,0.2M312.9,108.5l0.1,0.1M317.7,108.1l0.5,0.6M323.1,108.2l-0.4,0.2M328.2,108.0l-0.5,0.4M337.8,108.0l-0.0,0.0M347.5,107.7l0.6,0.1M352.6,107.6l0.2,0.1M357.8,107.4l-0.2,0.1M149.3,117.8l-0.4,0.1M154.1,117.8l-0.0,0.0M158.9,117.5l0.3,0.2M164.2,117.5l-0.5,0.1M168.8,117.1l0.3,0.7M174.2,117.2l-0.6,0.1M178.8,116.7l0.2,0.9M183.9,117.0l0.0,0.0M188.6,116.7l0.5,0.5M193.8,116.8l0.0,0.1M199.1,116.4l-0.7,0.5M203.7,116.5l0.1,0.1M208.7,116.3l0.1,0.2M213.7,116.3l-0.0,0.0M218.6,116.0l0.1,0.3M223.6,116.1l0.1,0.0M228.6,115.9l-0.0,0.1M233.6,115.8l0.0,0.1M238.7,115.5l-0.4,0.4M243.9,115.4l-0.6,0.5M248.5,115.2l-0.1,0.5M258.2,115.0l0.5,0.4M263.2,114.9l0.5,0.4M268.5,114.8l-0.3,0.4M273.2,114.5l0.3,0.7M277.9,114.7l0.9,0.1M283.3,114.6l0.0,0.0M288.5,114.3l-0.4,0.5M293.1,114.3l0.3,0.1M298.2,113.8l0.1,0.9M302.9,114.1l0.7,0.2M307.8,113.9l0.8,0.3M313.5,113.8l-0.7,0.2M323.2,113.7l-0.2,0.0M333.0,113.0l0.1,0.8M338.1,112.9l-0.3,0.8M342.9,113.2l0.0,0.1M348.2,113.0l-0.6,0.1M352.8,112.7l0.2,0.6M362.7,112.6l0.2,0.2M149.4,123.1l-0.4,0.3M154.1,123.0l0.2,0.3M159.1,122.9l0.1,0.2M164.1,122.5l0.2,0.7M169.3,122.5l-0.4,0.5M174.0,122.3l0.1,0.7M178.9,122.3l0.4,0.4M183.7,122.3l0.6,0.1M188.9,122.0l0.1,0.6M194.0,121.8l-0.1,0.8M199.1,121.8l-0.4,0.5M203.9,121.8l0.1,0.3M209.0,121.5l-0.3,0.6M213.8,121.4l0.1,0.5M219.1,121.2l-0.5,0.8M223.5,121.4l0.5,0.1M234.0,121.0l-0.4,0.3M238.9,120.9l-0.4,0.2M243.8,120.6l-0.2,0.7M248.5,120.6l0.3,0.4M253.9,120.5l-0.6,0.4M258.3,120.4l0.7,0.4M263.6,120.4l-0.1,0.1M268.5,120.1l0.1,0.4M273.6,120.0l-0.1,0.4M278.3,120.0l0.3,0.2M283.4,119.9l0.1,0.1M293.7,119.6l-0.6,0.3M303.6,119.3l-0.5,0.4M308.3,119.2l-0.0,0.3M318.0,119.0l0.5,0.3M323.2,118.9l-0.0,0.2M328.2,118.9l-0.0,0.1M338.1,118.6l0.0,0.0M149.3,128.4l0.1,0.4M154.2,128.3l0.3,0.2M159.3,128.3l-0.0,0.2M164.3,128.2l0.0,0.1M174.5,127.6l-0.5,0.7M179.3,127.8l-0.1,0.1M183.8,127.7l0.8,0.2M189.2,127.6l-0.0,0.0M193.8,127.5l0.6,0.0M198.9,127.1l0.4,0.5M204.2,127.1l-0.2,0.3M209.1,127.1l-0.1,0.0M219.0,126.5l0.0,0.8M223.7,126.6l0.5,0.4M228.9,126.6l0.1,0.1M233.8,126.4l0.2,0.2M238.6,126.3l0.5,0.3M248.9,125.8l-0.2,0.7M254.0,125.7l-0.4,0.7M259.0,125.8l-0.5,0.2M264.1,125.7l-0.7,0.3M273.7,125.5l-0.0,0.1M278.7,125.3l-0.2,0.2M283.8,125.2l-0.4,0.3M288.6,125.0l-0.1,0.4M293.7,124.8l-0.3,0.7M298.4,124.6l0.3,0.6M303.8,124.7l-0.6,0.4M308.5,124.7l0.0,0.2M323.3,124.2l0.2,0.3M333.2,124.1l0.2,0.1M338.5,123.7l-0.4,0.5M363.0,123.3l0.3,0.3M164.6,133.5l-0.4,0.2M169.4,133.4l0.0,0.0M174.6,133.1l-0.3,0.5M179.3,132.8l0.2,0.9M184.6,132.9l-0.6,0.4M189.4,132.9l-0.1,0.1M194.4,132.5l-0.3,0.6M199.2,132.6l0.1,0.2M209.2,132.4l-0.0,0.1M214.2,132.2l-0.2,0.4M218.7,132.2l0.8,0.0M224.1,132.0l0.0,0.3M229.3,131.6l-0.4,0.8M233.8,131.7l0.5,0.3M239.2,131.4l-0.4,0.7M243.7,131.6l0.6,0.0M248.8,131.4l0.3,0.2M253.9,131.1l-0.0,0.6M259.2,131.0l-0.7,0.6M263.8,131.1l0.1,0.0M274.1,130.6l-0.6,0.6M278.7,130.5l0.2,0.7M283.7,130.7l0.0,0.0M298.7,130.2l-0.0,0.2M303.4,129.9l0.4,0.6M308.6,130.1l-0.1,0.0M318.5,129.8l0.2,0.1M323.4,129.4l0.2,0.6M328.2,129.5l0.7,0.1M363.1,128.6l0.3,0.2M169.6,138.4l-0.1,0.8M174.6,138.5l-0.2,0.3M179.5,138.5l0.1,0.2M184.5,138.4l-0.0,0.0M189.1,138.2l0.7,0.2M194.6,138.1l-0.3,0.1M199.0,138.0l0.7,0.1M204.3,137.9l0.1,0.1M208.9,137.8l0.8,0.0M214.1,137.4l0.3,0.6M224.3,137.4l-0.1,0.1M229.6,137.2l-0.8,0.3M234.2,137.1l-0.1,0.2M243.9,136.8l0.5,0.4M249.2,136.8l-0.3,0.0M254.0,136.6l0.1,0.3M258.8,136.6l0.4,0.1M264.2,136.4l-0.4,0.2M268.9,136.0l0.2,0.8M273.7,136.1l0.6,0.2M278.9,135.7l0.1,0.9M283.7,135.8l0.4,0.4M288.8,135.9l0.1,0.0M298.7,135.4l0.1,0.6M303.6,135.3l0.4,0.4M309.0,135.1l-0.5,0.6M318.7,135.2l-0.1,0.0M323.8,134.8l-0.3,0.5M328.7,134.9l-0.1,0.0M363.6,134.0l-0.3,0.2M169.7,143.9l0.0,0.4M174.9,144.0l-0.3,0.1M179.7,143.7l-0.1,0.3M184.6,143.6l-0.0,0.2M189.8,143.4l-0.4,0.6M199.8,143.1l-0.6,0.7M204.6,143.3l-0.2,0.0M209.5,143.1l-0.0,0.2M214.5,143.0l-0.1,0.2M219.7,142.9l-0.6,0.0M224.4,142.8l-0.0,0.0M229.4,142.6l0.0,0.2M239.2,142.4l0.2,0.1M244.1,142.0l0.3,0.7M249.6,141.9l-0.6,0.5M254.1,142.0l0.3,0.1M264.1,141.8l0.2,0.0M269.1,141.6l0.0,0.2M274.2,141.4l-0.1,0.3M278.8,141.3l0.6,0.3M284.0,141.2l0.2,0.3M289.3,140.9l-0.5,0.7M294.0,141.1l-0.1,0.0M303.8,140.6l0.3,0.7M314.0,140.6l-0.3,0.1M318.6,140.2l0.4,0.7M323.9,140.1l-0.1,0.5M328.6,140.3l0.3,0.0M363.2,139.4l0.8,0.1M170.1,149.4l-0.4,0.3M174.8,149.3l0.2,0.1M180.0,149.2l-0.3,0.1M185.1,149.0l-0.6,0.1M189.7,149.0l0.2,0.0M194.7,148.5l0.0,0.7M199.7,148.7l0.0,0.1M204.8,148.6l-0.3,0.1M209.8,148.3l-0.3,0.4M214.5,148.1l0.2,0.7M219.8,148.2l-0.4,0.2M224.8,148.1l-0.5,0.1M229.4,147.8l0.2,0.5M234.1,147.7l0.7,0.3M239.1,147.6l0.6,0.3M244.3,147.6l0.3,0.1M249.2,147.3l0.3,0.5M254.6,147.3l-0.5,0.3M259.3,147.3l0.0,0.1M264.3,147.2l0.1,0.1M269.2,147.0l0.1,0.2M274.4,146.6l-0.4,0.7M278.9,146.7l0.6,0.3M283.9,146.5l0.5,0.5M294.5,146.2l-0.7,0.5M299.2,146.2l-0.1,0.3M309.2,145.7l-0.3,0.8M314.2,145.7l-0.4,0.5M319.1,145.5l-0.2,0.8M324.0,145.6l-0.2,0.3M363.9,144.8l-0.4,0.0M170.0,154.8l0.1,0.1M175.4,154.7l-0.8,0.0M180.0,154.5l-0.1,0.1M184.5,154.3l0.8,0.3M189.9,154.0l-0.0,0.6M195.1,154.1l-0.5,0.3M199.9,154.0l-0.0,0.2M205.1,153.8l-0.6,0.3M209.9,153.8l-0.2,0.1M214.8,153.5l-0.1,0.4M219.7,153.3l0.1,0.6M229.8,153.1l-0.4,0.5M234.9,153.2l-0.5,0.2M239.8,153.1l-0.3,0.2M244.3,152.9l0.6,0.1M249.4,152.8l0.2,0.2M254.6,152.7l-0.1,0.1M259.3,152.4l0.4,0.4M264.3,152.1l0.3,0.8M269.5,152.3l-0.2,0.3M274.4,152.0l0.0,0.5M279.4,152.2l-0.0,0.0M284.4,152.0l-0.1,0.0M289.4,151.9l-0.1,0.1M294.4,151.7l-0.2,0.2M304.2,151.5l0.0,0.1M309.1,151.4l0.2,0.1M319.1,151.1l0.0,0.3M324.3,150.8l-0.4,0.7M359.1,150.2l-0.4,0.0M170.1,160.1l0.2,0.0M175.1,159.8l0.0,0.4M179.8,159.8l0.7,0.2M185.4,159.5l-0.6,0.6M190.4,159.5l-0.6,0.3M195.1,159.5l-0.2,0.1M199.7,159.3l0.5,0.3M205.1,159.3l-0.3,0.1M210.0,159.0l-0.1,0.4M214.9,159.0l0.0,0.1M219.6,158.6l0.5,0.8M224.6,158.7l0.5,0.3M229.8,158.6l-0.1,0.2M239.8,158.4l-0.1,0.3M245.0,158.3l-0.6,0.1M249.5,157.9l0.3,0.7M254.8,158.1l-0.3,0.0M259.7,157.9l-0.1,0.2M264.6,157.8l0.1,0.1M269.6,157.8l0.0,0.0M274.7,157.4l-0.2,0.4M279.5,157.4l-0.1,0.3M284.7,157.0l-0.4,0.7M289.3,157.1l0.4,0.4M294.0,157.1l0.8,0.2M299.4,156.8l-0.1,0.4M304.6,156.8l-0.4,0.1M309.6,156.8l-0.4,0.1M314.3,156.5l0.0,0.4M353.9,155.3l0.3,0.8M364.3,155.3l-0.5,0.3M170.3,165.4l-0.1,0.2M175.7,165.3l-0.9,0.2M180.5,165.0l-0.5,0.5M185.4,165.1l-0.4,0.0M190.1,164.9l0.2,0.2M195.3,164.9l-0.2,0.1M200.3,164.7l-0.3,0.1M204.9,164.6l0.5,0.0M210.0,164.5l0.2,0.0M215.1,164.4l-0.0,0.0M220.2,164.2l-0.4,0.2M225.0,164.1l-0.1,0.3M229.7,164.0l0.6,0.2M235.3,163.9l-0.8,0.0M239.7,163.5l0.4,0.6M244.9,163.7l-0.1,0.0M250.1,163.6l-0.5,0.0M255.2,163.4l-0.9,0.1M260.1,163.3l-0.6,0.1M264.7,162.8l0.2,0.9M269.9,162.7l-0.4,0.8M275.1,162.9l-0.8,0.3M280.0,162.7l-0.7,0.4M284.5,162.5l0.3,0.6M289.8,162.6l-0.4,0.0M294.3,162.4l0.5,0.1M299.8,162.4l-0.6,0.0M304.6,162.2l-0.1,0.1M354.1,161.0l0.3,0.1M359.4,160.8l-0.4,0.3M363.8,160.7l0.8,0.2M170.3,170.5l0.4,0.7M175.3,170.7l0.3,0.1M180.5,170.3l-0.1,0.7M185.7,170.4l-0.6,0.2M190.4,170.0l-0.0,0.8M195.0,170.1l0.7,0.3M200.2,170.0l0.3,0.3M205.4,170.0l-0.3,0.1M210.0,169.5l0.5,0.7M215.0,169.6l0.4,0.3M220.0,169.4l0.4,0.6M224.7,169.4l0.8,0.2M230.2,169.0l-0.2,0.8M235.1,169.2l-0.0,0.2M239.8,168.9l0.5,0.6M245.0,169.0l-0.0,0.1M250.2,168.7l-0.4,0.4M254.8,168.5l0.4,0.6M259.7,168.6l0.4,0.3M264.9,168.5l-0.1,0.1M269.7,168.3l0.3,0.3M275.0,168.3l-0.3,0.1M279.9,168.1l-0.2,0.1M284.7,168.0l0.1,0.3M289.7,168.0l0.2,0.0M294.6,167.7l0.2,0.4M299.3,167.6l0.9,0.3M304.7,167.5l-0.1,0.2M309.7,167.4l-0.1,0.2M314.2,167.3l0.8,0.2M319.7,166.9l-0.2,0.6M364.3,165.9l0.1,0.5M170.6,175.9l-0.0,0.6M175.9,175.9l-0.7,0.4M180.3,175.8l0.5,0.2M185.6,175.6l-0.1,0.5M190.3,175.7l0.3,0.0M195.6,175.2l-0.3,0.8M200.4,175.4l0.1,0.1M205.3,175.3l0.1,0.1M210.4,175.2l-0.0,0.2M215.0,175.0l0.8,0.2M220.3,174.9l0.0,0.3M225.2,174.5l0.1,0.9M230.2,174.6l0.1,0.4M235.3,174.2l-0.2,0.8M239.8,174.4l0.8,0.2M245.2,174.1l0.0,0.7M250.2,174.1l-0.2,0.3M255.0,173.8l0.3,0.7M260.1,173.8l-0.1,0.5M265.3,173.6l-0.6,0.6M270.2,173.7l-0.4,0.2M285.0,173.2l-0.1,0.5M289.6,173.2l0.6,0.3M294.5,173.0l0.7,0.4M299.7,172.9l0.4,0.3M309.9,172.5l-0.2,0.7M319.7,172.6l0.1,0.1M359.4,171.6l0.2,0.1M364.2,171.4l0.6,0.1M170.5,181.4l0.5,0.3M181.0,181.1l-0.7,0.3M185.7,180.9l-0.1,0.6M190.8,181.0l-0.3,0.1M195.4,180.6l0.4,0.7M200.9,180.7l-0.6,0.3M205.4,180.6l0.2,0.3M210.6,180.5l-0.1,0.2M215.6,180.1l-0.2,0.7M220.2,180.2l0.4,0.3M225.2,180.2l0.4,0.1M230.8,179.9l-0.7,0.4M235.3,179.8l0.2,0.4M240.0,179.6l0.7,0.5M245.2,179.7l0.2,0.0M250.3,179.3l-0.1,0.6M255.5,179.5l-0.5,0.1M260.3,179.3l-0.2,0.3M265.2,179.2l-0.0,0.1M270.2,179.1l0.0,0.0M275.3,179.0l-0.4,0.1M280.2,178.8l-0.1,0.2M285.1,178.7l-0.1,0.1M289.8,178.6l0.5,0.1M299.9,178.4l0.1,0.1M304.8,178.2l0.3,0.1M359.6,177.0l0.0,0.0M364.8,176.6l-0.3,0.6M175.6,186.5l0.5,0.6M180.9,186.3l-0.0,0.7M185.9,186.3l-0.1,0.5M190.3,186.4l0.9,0.1M195.6,186.2l0.4,0.2M210.4,185.9l0.5,0.0M225.5,185.3l0.3,0.6M235.7,185.1l-0.3,0.5M250.5,184.8l-0.2,0.4M255.5,184.8l-0.2,0.1M260.4,184.3l-0.1,0.8M265.4,184.6l-0.0,0.0M275.5,184.2l-0.3,0.3M280.2,184.2l0.2,0.1M285.6,184.0l-0.8,0.2M290.5,183.8l-0.7,0.3M295.3,183.6l-0.3,0.5M300.1,183.6l0.2,0.4M176.1,192.1l-0.1,0.0M185.8,191.8l0.3,0.1M191.0,191.6l-0.1,0.3M200.5,191.3l0.7,0.5M215.7,191.2l0.1,0.0M220.8,191.0l-0.1,0.0M230.4,190.6l0.5,0.4M236.0,190.4l-0.6,0.5M245.5,190.4l0.3,0.0M255.9,190.2l-0.8,0.0M265.5,189.9l0.0,0.1M280.5,189.5l-0.2,0.2M310.3,188.8l-0.1,0.2M166.2,197.7l0.1,0.0M191.0,197.1l0.1,0.1M196.4,196.8l-0.7,0.4M211.0,196.4l0.0,0.4M220.9,196.4l-0.0,0.1M231.0,196.1l-0.3,0.0M235.6,195.7l0.4,0.7M251.1,195.6l-0.7,0.2M255.5,195.2l0.4,0.7M280.5,194.9l0.0,0.1M305.4,194.3l0.1,0.2M365.2,192.9l-0.2,0.1M181.7,202.5l-0.8,0.3M186.3,202.5l-0.2,0.1M191.5,202.3l-0.5,0.4M221.1,201.7l-0.1,0.1M230.8,201.2l0.3,0.5M241.2,201.0l-0.6,0.5M265.8,200.4l-0.0,0.6M270.5,200.3l0.5,0.5M275.7,200.4l0.0,0.1M285.5,200.1l0.4,0.0M360.2,198.3l0.1,0.1M365.4,197.9l-0.4,0.7M156.6,208.4l-0.0,0.5M161.5,208.5l0.0,0.0M176.1,208.1l0.7,0.1M181.4,207.8l0.1,0.5M186.3,207.8l0.3,0.1M191.4,207.7l-0.1,0.2M201.6,207.3l-0.6,0.6M206.3,207.1l0.0,0.7M230.8,206.8l0.7,0.0M236.3,206.4l-0.4,0.7M251.0,206.3l-0.0,0.1M261.0,206.1l-0.1,0.1M266.3,205.9l-0.7,0.2M276.0,205.7l-0.2,0.0M280.9,205.6l-0.1,0.2M285.7,205.3l0.3,0.4M301.1,205.0l-0.8,0.3M360.4,203.3l-0.1,0.8M365.2,203.5l0.3,0.2M156.7,213.7l0.1,0.5M161.7,213.5l-0.0,0.7M167.0,213.5l-0.6,0.4M171.3,213.6l0.6,0.0M176.5,213.3l0.3,0.4M181.8,213.0l-0.4,0.7M186.6,213.1l-0.2,0.3M191.2,212.9l0.6,0.4M211.3,212.3l0.2,0.7M216.4,212.5l-0.1,0.0M231.3,212.2l0.0,0.0M236.4,212.0l-0.3,0.2M251.2,211.7l-0.1,0.0M260.9,211.3l0.5,0.3M270.8,211.2l0.6,0.0M276.1,211.1l-0.1,0.0M291.0,210.6l-0.1,0.3M365.5,208.9l-0.0,0.0M156.9,219.3l-0.0,0.0M162.0,219.2l-0.2,0.0M166.9,219.0l-0.1,0.2M181.6,218.6l0.2,0.2M186.7,218.5l0.0,0.2M191.9,218.4l-0.4,0.2M201.6,218.1l-0.1,0.3M206.7,218.0l-0.2,0.2M211.7,217.8l-0.3,0.4M216.4,217.8l0.2,0.1M246.4,217.0l-0.1,0.2M251.6,216.9l-0.6,0.4M271.2,216.6l0.0,0.0M296.1,216.0l-0.0,0.0M157.2,224.5l-0.4,0.3M161.9,224.6l0.1,0.0M181.9,223.9l0.0,0.4M186.9,223.9l-0.2,0.2M191.9,223.7l-0.2,0.3M196.7,223.6l0.3,0.3M206.4,223.3l0.7,0.4M212.0,223.1l-0.5,0.5M221.7,223.1l-0.1,0.0M226.6,222.6l-0.1,0.8M231.4,222.8l0.3,0.2M237.0,222.7l-0.8,0.2M251.3,222.3l0.3,0.2M256.9,222.1l-0.8,0.3M276.3,221.6l0.1,0.4M281.6,221.5l-0.7,0.3M291.4,221.4l-0.3,0.0M295.9,221.2l0.6,0.2M157.1,229.7l0.2,0.7M192.0,229.1l-0.1,0.1M216.8,228.5l0.1,0.2M246.8,227.9l-0.4,0.0M266.3,227.3l0.5,0.2M271.4,227.2l0.1,0.2M276.4,226.9l0.1,0.4M281.8,226.9l-0.6,0.3M291.4,226.8l0.0,0.0M192.2,234.5l-0.1,0.1M207.0,234.2l0.0,0.0M231.8,233.5l0.1,0.0M251.8,232.8l-0.1,0.6M271.8,232.5l-0.3,0.1M286.6,232.1l-0.0,0.3M157.3,240.5l0.3,0.4M192.3,239.7l-0.1,0.2M202.3,239.2l-0.1,0.8M207.3,239.1l-0.2,0.8M212.4,239.4l-0.6,0.1M222.1,238.8l-0.0,0.8M226.8,238.8l0.5,0.5M242.3,238.7l-0.6,0.0M252.3,238.2l-0.7,0.4M276.5,237.7l0.5,0.2M281.9,237.4l-0.4,0.6M296.3,237.3l0.7,0.2M197.5,245.0l-0.3,0.3M202.5,244.6l-0.4,0.7M207.2,244.8l0.3,0.0M212.1,244.4l0.3,0.7M222.3,244.5l-0.1,0.1M227.1,244.2l0.2,0.3M232.5,244.0l-0.6,0.5M237.5,244.1l-0.7,0.0M242.0,243.7l0.3,0.7M251.9,243.4l0.3,0.7M267.0,243.4l-0.1,0.1M301.8,242.1l0.0,0.9M197.5,250.4l0.1,0.0M252.3,248.7l-0.2,0.8M257.5,248.7l-0.6,0.6M262.3,248.8l-0.3,0.1M267.1,248.7l-0.0,0.2M272.4,248.6l-0.7,0.1M277.2,248.4l-0.3,0.2M312.0,247.5l-0.2,0.4M262.3,254.2l0.1,0.1M267.2,254.1l0.1,0.0M277.6,253.8l-0.8,0.0M287.2,253.4l-0.1,0.5M292.1,253.5l-0.0,0.0M302.2,253.2l-0.3,0.2M307.3,252.9l-0.5,0.5M267.5,259.4l-0.2,0.2M272.7,259.3l-0.6,0.0M307.5,258.3l-0.6,0.4M311.9,258.4l0.5,0.0M272.5,264.6l0.1,0.1M297.7,263.9l-0.7,0.4M312.2,263.7l0.1,0.0M317.5,263.5l-0.4,0.3M282.5,269.5l0.3,0.6M297.3,269.3l0.6,0.2M312.4,268.7l0.0,0.7M262.9,275.5l-0.1,0.2M277.9,275.2l-0.1,0.1M302.7,274.4l-0.1,0.6" stroke="#4a86c2" stroke-width="1.2" stroke-linecap="round" stroke-opacity="0.6" fill="none"/><path d="M286.9,70.3l0.4,2.8M341.0,68.7l1.5,3.5M350.9,69.3l1.6,1.7M360.7,69.2l1.8,1.6M271.9,77.0l0.9,0.9M321.2,75.6l1.7,1.3M326.8,75.0l0.5,2.3M351.0,74.9l1.8,1.4M147.1,85.3l2.3,1.1M152.6,85.2l1.2,1.1M162.4,84.6l1.3,1.7M206.9,83.4l1.8,1.9M286.9,81.1l1.1,2.8M291.7,81.1l1.2,2.4M331.2,79.8l1.8,3.1M355.9,79.5l2.3,2.5M361.6,79.6l0.8,2.0M157.5,90.2l1.5,1.4M178.1,89.6l0.1,1.7M302.2,86.7l0.4,1.5M322.1,85.9l0.5,2.1M331.8,85.3l1.0,2.9M162.1,95.7l2.6,1.0M187.3,96.1l1.8,-1.0M306.2,92.1l2.8,1.2M321.7,90.9l1.6,2.7M192.4,99.8l2.0,1.9M292.2,96.5l1.3,3.8M327.5,95.9l0.3,3.3M152.4,107.1l2.7,0.0M157.9,106.4l1.7,1.0M172.5,106.1l2.3,1.1M178.0,105.5l1.1,1.9M271.9,103.4l2.3,1.5M293.0,102.2l-0.0,3.0M296.9,102.2l2.0,2.8M327.6,101.7l0.3,2.3M331.7,101.7l2.1,2.0M337.2,100.9l0.9,3.5M341.8,101.5l1.7,2.0M352.5,100.9l0.2,2.8M147.6,112.2l2.7,0.8M153.4,111.2l1.0,2.5M163.4,111.1l1.0,2.1M218.0,110.3l1.1,1.0M331.2,107.2l3.2,1.7M341.8,106.2l2.1,3.3M362.0,106.2l1.4,2.4M252.0,114.9l3.0,1.0M317.4,112.6l1.3,2.5M327.4,112.0l1.2,3.0M227.8,120.7l2.0,1.2M287.8,119.1l1.3,1.5M297.2,119.2l2.2,0.8M312.6,117.7l1.3,3.1M332.8,118.1l0.7,1.4M341.6,117.9l3.0,1.3M168.7,126.9l1.1,2.5M212.9,126.5l2.1,1.1M243.9,125.7l-0.2,1.1M268.0,125.0l1.4,1.5M312.9,123.7l1.0,1.8M317.6,124.0l1.7,0.9M327.1,123.1l2.4,2.2M203.1,132.0l2.3,1.2M268.6,129.8l0.5,2.4M288.2,129.1l1.0,3.0M292.9,129.4l1.7,2.0M313.0,129.4l1.1,1.1M332.2,128.8l2.5,1.3M218.2,137.1l2.1,1.1M238.2,136.8l2.0,0.6M293.1,135.5l1.4,0.7M312.9,133.9l1.7,2.8M193.7,143.2l1.7,0.7M233.4,142.9l1.9,-0.6M258.8,141.5l0.8,0.9M297.9,140.0l2.1,2.0M308.5,139.1l0.8,3.4M357.2,138.4l2.8,2.4M288.7,145.7l1.0,1.9M303.3,145.4l1.6,1.7M327.9,144.5l2.0,2.3M358.5,144.1l0.5,1.6M224.4,153.1l0.6,0.8M298.7,151.3l1.2,0.8M314.1,150.0l0.2,2.7M362.7,149.5l2.4,1.2M234.9,157.5l-0.2,2.3M358.1,155.1l2.0,1.0M309.3,161.5l0.3,1.4M314.0,160.9l0.9,2.2M319.3,160.6l0.4,2.6M323.7,160.2l1.5,3.2M358.6,166.0l1.5,0.6M274.5,173.2l1.1,1.0M279.6,173.2l0.8,0.8M303.5,172.0l2.6,1.9M174.7,181.4l2.1,0.1M294.2,177.2l1.6,2.7M308.7,177.6l2.4,1.2M319.4,177.1l1.0,1.7M199.7,185.0l2.0,2.4M205.0,185.6l1.5,1.0M214.8,185.1l1.7,1.5M219.8,184.4l1.6,2.5M230.2,184.0l0.6,2.9M239.5,183.8l2.0,2.8M244.7,184.0l1.5,2.1M270.1,183.2l0.4,2.6M303.8,182.7l2.6,1.9M309.3,183.1l1.6,0.9M314.7,182.2l0.7,2.4M170.2,190.8l1.7,2.8M195.0,190.8l1.8,1.6M204.9,191.0l1.9,0.9M210.5,190.8l0.6,0.9M225.5,189.4l0.5,3.0M239.5,189.9l2.3,1.4M249.4,189.2l2.4,2.2M260.8,188.7l-0.6,2.7M269.7,189.3l1.5,1.2M275.2,189.0l0.4,1.5M284.6,188.1l1.6,2.7M289.0,189.0l2.7,0.8M293.8,189.1l2.9,0.3M299.2,188.4l2.2,1.4M305.4,187.8l-0.3,2.5M314.8,187.3l0.9,3.0M175.6,195.9l1.1,3.1M180.5,197.0l1.4,0.7M185.4,196.6l1.5,1.2M200.4,195.6l1.2,2.5M205.7,195.8l0.5,1.9M214.7,196.3l2.5,0.4M225.6,195.2l0.5,2.1M240.6,195.3l0.5,1.2M244.8,195.3l1.9,1.0M259.7,194.8l2.0,1.2M265.1,194.3l1.0,1.9M269.3,195.0l2.6,0.4M275.2,194.2l0.8,1.7M285.1,193.6l0.9,2.4M290.3,193.2l0.4,3.0M294.2,194.0l2.5,1.1M300.0,194.2l0.9,0.6M309.5,193.2l1.8,2.0M195.9,201.3l0.7,2.0M199.9,202.2l2.5,-0.0M204.9,201.4l2.4,1.3M210.8,200.9l0.6,2.2M215.0,200.6l2.2,2.5M225.9,200.1l0.3,3.0M235.6,199.9l0.8,2.8M245.1,200.5l1.7,1.3M250.1,201.0l1.5,0.1M255.1,200.3l1.4,1.3M260.0,199.8l1.6,1.9M280.4,199.2l0.7,2.2M289.4,198.9l2.5,2.2M295.2,198.9l0.8,2.1M300.0,198.9l1.1,1.8M305.0,199.1l1.1,1.1M195.7,207.3l1.4,0.7M210.2,206.6l2.1,1.5M215.3,206.2l1.9,2.0M220.5,206.2l1.4,1.7M226.0,206.4l0.3,1.2M240.3,206.0l1.5,1.3M245.1,205.2l2.0,2.6M255.5,205.2l1.0,2.0M270.5,205.4l0.9,1.0M290.3,204.5l1.0,1.8M295.3,205.1l1.0,0.4M195.4,212.8l2.2,0.4M200.6,212.3l1.7,1.3M205.9,211.8l1.1,2.0M220.8,212.2l1.2,0.4M226.0,211.8l0.6,1.0M240.7,211.2l1.1,1.5M245.5,210.4l1.5,2.8M255.3,210.1l1.7,2.9M264.8,210.6l2.5,1.4M280.6,210.5l0.8,0.9M285.9,210.3l0.2,1.1M295.4,209.9l1.0,1.5M300.4,209.2l0.9,2.6M196.2,217.9l0.9,1.0M221.1,216.1l0.7,3.3M225.9,216.9l1.0,1.6M230.3,217.5l2.3,0.1M235.4,216.9l2.1,1.1M240.8,216.8l1.1,1.0M255.9,215.8l0.7,2.3M261.2,215.3l0.0,2.9M264.8,216.8l2.9,-0.3M275.6,215.5l1.1,2.0M280.9,215.6l0.5,1.5M285.4,215.3l1.4,1.7M290.5,214.1l1.1,4.0M200.6,222.8l2.3,1.5M215.8,222.7l1.7,1.0M240.5,222.6l2.1,0.0M245.6,222.2l1.8,0.6M260.5,221.7l1.8,0.9M265.8,221.1l1.2,1.8M270.8,221.0l1.2,1.8M285.2,221.7l2.1,-0.4M196.4,228.7l1.2,0.7M201.7,227.9l0.4,2.1M206.7,227.6l0.3,2.5M211.3,227.9l1.0,1.6M221.4,227.7l0.7,1.6M226.1,228.2l1.4,0.3M230.7,228.2l2.1,0.1M235.8,227.3l1.8,1.7M241.5,227.4l0.4,1.1M250.6,226.9l2.1,1.6M255.8,226.7l1.6,1.9M261.1,226.4l0.9,2.2M286.0,225.2l0.7,3.3M295.6,225.6l1.5,2.1M196.6,233.9l0.9,1.0M201.4,233.5l1.4,1.5M210.9,233.0l2.1,2.0M216.1,232.6l1.7,2.6M221.5,232.8l0.8,2.0M226.1,233.0l1.7,1.3M236.1,232.3l1.5,2.4M241.1,232.3l1.4,2.1M246.2,232.2l1.3,2.1M256.7,232.0l-0.0,1.9M260.1,232.8l3.2,0.2M266.6,232.1l0.2,1.1M276.1,232.1l1.1,0.7M281.0,231.0l1.1,2.7M196.9,239.3l0.7,0.9M217.1,237.8l0.0,2.8M231.5,237.5l1.2,2.9M235.6,237.9l2.8,1.8M246.4,237.6l1.1,2.0M255.6,237.4l2.7,1.7M260.8,237.7l2.2,1.0M266.6,237.3l0.5,1.5M270.8,237.0l2.0,2.0M286.1,236.8l1.2,1.5M291.0,236.4l1.4,2.1M191.5,244.3l1.8,1.8M215.9,243.1l2.8,3.1M245.5,243.7l3.2,0.4M256.4,242.5l1.2,2.4M261.1,242.8l1.7,1.5M270.8,243.2l2.4,0.3M276.5,242.1l0.8,2.1M281.6,242.6l0.6,1.0M286.1,241.8l1.5,2.3M306.6,240.9l0.2,3.1M281.7,247.0l0.6,2.9M286.4,246.9l1.1,2.8M291.7,246.7l0.6,2.9M297.1,246.8l-0.3,2.4M301.0,247.4l1.9,1.1M305.8,246.8l2.1,2.0M255.9,253.4l2.8,1.8M271.7,252.6l1.0,2.8M282.0,252.3l0.4,2.9M296.4,252.5l1.5,1.7M311.4,252.6l1.2,0.9M261.9,258.5l1.1,2.1M276.5,257.4l1.6,3.7M281.8,257.2l1.1,3.8M286.8,257.2l1.1,3.5M291.8,257.9l1.0,1.9M302.1,257.6l0.3,2.0M316.4,258.1l1.5,0.3M262.7,262.8l-0.2,4.2M267.4,263.1l0.3,3.4M276.3,263.0l2.4,3.1M281.7,263.3l1.6,2.2M286.9,263.4l1.1,1.8M291.9,263.0l1.0,2.4M307.0,262.3l0.6,3.1M262.6,269.1l0.4,2.3M267.1,268.7l1.3,3.0M271.6,268.6l2.2,2.9M276.9,268.2l1.5,3.4M286.4,268.0l2.5,3.3M302.0,267.3l1.1,4.0M317.3,267.8l0.3,2.4M267.4,274.1l1.0,2.8M272.3,274.0l1.0,2.7M291.5,273.2l2.4,3.4M297.3,273.4l0.7,2.8M306.8,272.8l1.7,3.4M316.1,273.0l3.0,2.6" stroke="#94c6e6" stroke-width="1.0" stroke-linecap="round" stroke-opacity="0.75" fill="none"/></g><use href="#fg"/></g>
<g transform="translate(0.0,252.0)"><use href="#base"/><g clip-path="url(#axclip)"><path d="M237.4,72.9l-0.0,0.2M242.3,72.7l0.1,0.2M247.5,72.5l-0.4,0.4M257.7,72.2l-0.8,0.5M272.1,71.9l0.1,0.5M277.0,71.6l0.2,0.7M282.3,71.8l-0.3,0.1M287.2,71.3l-0.2,0.9M292.2,71.4l-0.3,0.5M297.1,71.4l-0.1,0.2M302.0,71.1l-0.1,0.6M311.9,71.1l0.1,0.1M317.1,70.8l-0.3,0.4M321.7,70.6l0.4,0.7M326.6,70.8l0.5,0.0M331.8,70.6l0.1,0.1M341.7,70.1l0.2,0.7M346.6,70.1l0.4,0.3M356.9,69.8l-0.4,0.5M361.6,69.8l0.0,0.2M148.1,80.5l0.0,0.0M153.0,80.3l-0.0,0.0M158.0,80.2l0.1,0.1M162.8,80.0l0.3,0.3M168.0,79.8l-0.2,0.4M172.7,79.7l0.4,0.2M177.8,79.3l0.2,0.8M182.5,79.4l0.7,0.4M187.9,79.3l-0.1,0.4M192.5,79.2l0.7,0.3M198.0,79.1l-0.5,0.3M202.8,78.8l-0.0,0.6M207.7,78.8l0.1,0.5M212.6,78.8l0.1,0.2M217.8,78.7l-0.3,0.1M222.5,78.3l0.2,0.7M227.6,78.5l0.0,0.0M232.4,78.4l0.3,0.1M237.4,77.9l0.3,0.8M242.6,77.8l-0.2,0.7M247.7,77.7l-0.4,0.8M257.5,77.7l-0.1,0.3M262.3,77.6l0.1,0.2M267.6,77.5l-0.5,0.2M272.3,77.4l-0.0,0.2M277.1,77.3l0.4,0.0M282.3,77.0l-0.1,0.5M292.4,76.7l-0.4,0.5M297.3,76.6l-0.2,0.6M312.0,76.2l0.3,0.5M317.4,76.3l-0.6,0.2M322.0,76.2l0.0,0.1M327.2,76.0l-0.4,0.3M332.4,76.0l-0.8,0.1M336.9,75.7l0.1,0.3M341.9,75.7l-0.0,0.1M346.6,75.6l0.7,0.2M357.0,75.2l-0.3,0.4M147.9,85.7l0.7,0.3M153.3,85.6l-0.2,0.2M168.1,85.3l0.1,0.2M177.9,84.8l0.2,0.6M183.0,84.7l-0.0,0.5M187.9,84.7l0.2,0.3M197.9,84.5l0.1,0.2M202.7,84.1l0.3,0.8M208.1,84.0l-0.4,0.7M213.0,84.1l-0.3,0.3M217.5,83.9l0.7,0.5M222.9,83.7l-0.3,0.5M227.7,83.7l0.1,0.3M232.9,83.7l-0.3,0.0M237.8,83.5l-0.2,0.4M242.4,83.4l0.6,0.3M247.6,83.4l-0.0,0.0M252.5,83.3l0.2,0.1M257.6,83.0l-0.0,0.3M262.6,83.0l-0.2,0.0M267.4,82.7l0.2,0.4M272.8,82.7l-0.7,0.3M277.2,82.7l0.6,0.0M282.3,82.4l0.2,0.4M287.7,82.4l-0.6,0.1M292.3,82.1l0.2,0.5M297.5,81.9l-0.4,0.5M302.2,81.7l0.3,0.7M307.6,81.7l-0.7,0.5M317.2,81.6l0.1,0.3M322.0,81.4l0.3,0.5M326.7,81.4l0.8,0.1M336.8,81.2l0.5,0.1M342.0,81.0l0.1,0.3M346.7,81.0l0.6,0.0M352.2,80.6l-0.5,0.5M361.9,80.5l0.2,0.2M148.4,91.1l-0.1,0.2M153.3,90.9l0.1,0.3M158.4,90.7l-0.2,0.5M163.3,90.7l-0.1,0.2M168.1,90.5l0.2,0.3M173.3,90.5l-0.2,0.2M177.9,90.1l0.5,0.7M182.9,90.3l0.5,0.1M187.8,90.1l0.6,0.3M193.3,89.9l-0.3,0.3M198.1,89.7l-0.1,0.6M202.6,89.7l0.8,0.4M208.0,89.7l0.0,0.0M213.4,89.5l-0.8,0.1M218.0,89.4l-0.1,0.1M222.6,89.0l0.6,0.7M233.1,89.1l-0.5,0.0M237.8,88.9l0.0,0.1M242.8,88.8l-0.0,0.2M247.8,88.7l-0.1,0.0M252.7,88.6l0.0,0.1M257.5,88.5l0.5,0.1M262.6,88.3l0.1,0.1M267.8,88.1l-0.4,0.4M272.7,88.1l-0.2,0.0M277.8,87.9l-0.4,0.2M282.6,87.5l-0.1,0.8M287.3,87.7l0.5,0.1M292.5,87.4l0.1,0.5M297.7,87.4l-0.4,0.2M302.5,87.4l-0.0,0.1M307.3,87.1l0.1,0.4M312.5,87.2l-0.2,0.0M317.4,86.7l0.0,0.6M322.4,86.5l-0.2,0.8M332.2,86.7l0.2,0.1M337.4,86.4l-0.2,0.3M356.9,86.1l0.4,0.1M362.4,85.9l-0.6,0.1M148.4,96.2l0.2,0.6M168.2,95.6l0.3,0.8M173.4,95.9l0.0,0.0M178.3,95.5l-0.0,0.5M183.3,95.4l0.0,0.6M188.3,95.5l0.0,0.0M193.5,95.2l-0.4,0.4M198.1,95.0l0.3,0.7M203.4,95.0l-0.5,0.3M208.4,94.8l-0.5,0.4M213.5,94.9l-0.7,0.2M218.0,94.6l0.2,0.5M223.2,94.6l-0.2,0.1M227.8,94.2l0.5,0.7M233.1,94.3l-0.1,0.3M238.0,94.3l-0.1,0.1M242.8,94.2l0.2,0.1M248.2,94.1l-0.6,0.1M253.0,93.9l-0.1,0.1M258.1,93.5l-0.5,0.7M262.7,93.3l0.3,0.8M267.9,93.6l-0.1,0.0M272.9,93.5l-0.2,0.0M277.7,93.3l0.1,0.1M282.6,93.1l0.2,0.4M287.6,93.1l0.1,0.1M292.8,92.9l-0.3,0.2M302.5,92.6l0.1,0.4M307.7,92.7l-0.3,0.0M312.5,92.4l0.1,0.2M322.5,92.3l0.0,0.0M327.3,92.1l0.3,0.0M332.0,91.8l0.8,0.5M337.7,91.8l-0.5,0.2M347.3,91.6l0.1,0.1M352.0,91.4l0.6,0.4M357.1,91.2l0.3,0.4M362.6,91.2l-0.8,0.3M148.7,101.8l-0.2,0.1M153.6,101.4l-0.0,0.7M158.4,101.4l0.3,0.5M164.0,101.5l-0.9,0.0M173.3,100.9l0.4,0.7M178.4,100.8l0.1,0.6M183.5,100.6l-0.1,0.7M188.3,100.8l0.1,0.3M193.5,100.6l-0.1,0.3M198.0,100.6l0.7,0.1M203.3,100.4l0.0,0.2M208.7,100.3l-0.8,0.3M213.4,100.2l-0.3,0.1M218.0,100.0l0.5,0.3M223.2,100.0l0.0,0.1M228.3,99.8l-0.3,0.3M233.2,99.7l-0.1,0.2M238.3,99.3l-0.4,0.8M243.2,99.5l-0.1,0.2M247.9,99.3l0.4,0.2M252.8,99.3l0.5,0.1M258.1,99.1l-0.2,0.3M262.6,99.0l0.7,0.1M267.9,98.6l0.1,0.6M272.8,98.8l0.2,0.1M278.0,98.6l-0.2,0.1M283.0,98.5l-0.2,0.1M288.0,98.4l-0.4,0.2M297.6,97.9l0.4,0.6M302.8,97.7l-0.0,0.8M307.6,98.0l0.3,0.1M312.8,97.8l-0.2,0.2M317.7,97.7l-0.1,0.1M322.3,97.5l0.7,0.3M327.3,97.2l0.6,0.5M347.1,97.0l0.7,0.2M352.5,96.7l-0.0,0.4M357.5,96.5l-0.2,0.7M362.5,96.6l-0.3,0.1M158.8,106.9l-0.1,0.1M163.5,106.8l0.5,0.1M168.7,106.7l0.1,0.1M173.7,106.5l-0.1,0.2M178.9,106.3l-0.5,0.4M183.4,106.1l0.3,0.5M188.6,105.8l-0.1,0.8M193.5,106.0l0.1,0.1M198.7,105.8l-0.5,0.4M203.6,105.5l-0.2,0.8M208.6,105.6l-0.2,0.2M213.3,105.6l0.2,0.1M218.7,105.5l-0.6,0.0M223.3,105.3l0.1,0.2M228.2,105.3l0.4,0.0M233.4,105.1l-0.2,0.1M238.2,104.8l0.0,0.4M243.4,104.6l-0.4,0.7M248.1,104.4l0.3,0.8M253.2,104.7l0.0,0.0M257.9,104.4l0.6,0.3M263.5,104.4l-0.7,0.1M268.2,104.1l-0.3,0.3M273.2,104.0l-0.2,0.3M278.4,104.0l-0.7,0.1M283.1,103.9l-0.2,0.0M293.2,103.6l-0.5,0.2M297.8,103.3l0.2,0.6M303.1,103.3l-0.5,0.3M312.8,103.2l0.1,0.1M317.8,102.8l0.0,0.6M322.6,103.0l0.3,0.1M327.8,102.8l-0.1,0.2M337.9,102.4l-0.5,0.5M342.6,102.4l0.2,0.1M347.7,102.0l-0.1,0.7M352.8,101.8l-0.3,0.8M362.7,101.7l-0.3,0.6M148.8,112.4l0.3,0.3M153.6,112.4l0.6,0.1M159.0,112.0l-0.3,0.6M164.0,112.1l-0.3,0.2M169.1,111.8l-0.6,0.6M178.6,111.7l0.3,0.2M183.8,111.4l-0.1,0.6M188.6,111.5l0.2,0.1M193.3,111.4l0.7,0.1M198.9,111.2l-0.5,0.4M203.4,111.2l0.5,0.1M208.5,111.0l0.3,0.1M213.4,110.9l0.3,0.1M218.5,110.8l0.1,0.1M223.6,110.5l-0.2,0.4M228.5,110.5l-0.1,0.2M233.6,110.2l-0.3,0.7M238.4,110.4l-0.0,0.0M243.2,110.2l0.4,0.1M248.4,110.1l-0.0,0.0M253.6,109.9l-0.5,0.2M258.5,109.8l-0.4,0.2M263.3,109.5l-0.0,0.6M268.3,109.5l-0.2,0.3M273.5,109.3l-0.5,0.4M278.2,109.4l0.0,0.1M283.0,109.2l0.3,0.1M288.3,109.0l-0.2,0.4M293.1,108.9l-0.1,0.3M297.8,108.9l0.5,0.1M307.9,108.4l0.1,0.5M313.4,108.5l-0.8,0.1M317.7,108.1l0.5,0.7M323.2,108.3l-0.5,0.0M333.0,107.9l-0.3,0.3M338.0,107.9l-0.3,0.0M342.6,107.7l0.3,0.3M347.8,107.4l-0.0,0.6M352.9,107.4l-0.3,0.5M357.7,107.4l0.0,0.3M148.8,117.7l0.5,0.4M154.0,117.7l0.2,0.1M158.7,117.5l0.7,0.3M164.0,117.5l-0.0,0.1M169.0,117.4l-0.0,0.0M174.1,117.2l-0.3,0.1M179.1,116.8l-0.3,0.7M184.1,116.8l-0.4,0.5M189.0,116.6l-0.3,0.7M193.8,116.6l-0.0,0.4M198.8,116.5l-0.0,0.4M203.9,116.6l-0.2,0.0M208.9,116.1l-0.4,0.6M213.5,116.0l0.4,0.6M218.7,116.0l0.0,0.5M223.5,116.0l0.2,0.2M228.7,115.9l-0.1,0.1M233.5,115.8l0.2,0.0M238.5,115.7l0.1,0.0M243.3,115.4l0.5,0.4M248.6,115.2l-0.1,0.5M253.3,114.9l0.4,0.8M258.8,115.1l-0.7,0.3M263.6,114.8l-0.3,0.6M268.8,114.7l-0.7,0.5M273.3,114.5l0.1,0.7M278.4,114.7l-0.1,0.1M283.0,114.5l0.5,0.4M288.0,114.3l0.6,0.4M293.4,114.1l-0.4,0.6M298.2,114.3l0.0,0.0M303.2,114.1l-0.1,0.2M313.3,113.6l-0.3,0.6M318.2,113.7l-0.2,0.1M323.1,113.4l-0.1,0.5M328.3,113.5l-0.4,0.0M333.1,113.4l-0.1,0.1M342.9,113.1l0.1,0.2M348.0,113.1l-0.2,0.0M352.9,112.9l-0.1,0.0M362.9,112.6l-0.1,0.1M148.9,122.9l0.6,0.6M154.5,123.1l-0.7,0.1M159.5,123.0l-0.6,0.0M164.2,122.8l-0.0,0.1M168.9,122.6l0.5,0.3M174.1,122.6l-0.1,0.1M178.7,122.3l0.7,0.4M184.0,122.2l0.1,0.5M188.9,122.2l0.3,0.1M194.0,122.1l0.0,0.0M199.0,121.8l-0.0,0.4M203.9,121.9l0.0,0.0M208.7,121.6l0.4,0.5M213.9,121.6l-0.1,0.2M218.9,121.3l-0.2,0.4M223.8,121.0l-0.0,0.9M229.0,121.3l-0.4,0.0M233.4,121.0l0.7,0.3M239.0,120.9l-0.6,0.4M243.6,120.7l0.1,0.5M248.6,120.7l0.1,0.3M253.6,120.7l0.1,0.1M258.6,120.4l-0.1,0.3M263.4,120.4l0.3,0.1M268.8,120.3l-0.5,0.2M273.5,120.2l0.1,0.1M278.5,119.8l-0.1,0.5M283.4,119.5l0.1,0.9M288.3,119.8l0.2,0.1M293.4,119.5l-0.0,0.4M303.3,119.5l0.0,0.0M308.3,119.2l-0.0,0.4M318.5,118.9l-0.5,0.5M323.0,119.0l0.4,0.0M328.2,118.9l-0.0,0.0M333.2,118.8l-0.0,0.0M338.2,118.5l-0.0,0.2M342.9,118.3l0.5,0.4M149.5,128.6l-0.3,0.0M154.8,128.3l-0.9,0.2M159.4,128.1l-0.1,0.5M164.0,128.1l0.5,0.2M169.3,128.1l0.0,0.0M174.3,127.8l-0.1,0.3M179.2,127.6l-0.0,0.4M184.2,127.6l-0.0,0.2M189.3,127.5l-0.4,0.2M194.2,127.5l-0.2,0.0M198.8,127.3l0.5,0.2M203.6,127.2l0.8,0.1M209.4,127.0l-0.7,0.2M213.9,127.0l0.3,0.1M219.0,126.8l0.0,0.2M223.8,126.6l0.3,0.4M228.9,126.6l0.0,0.0M233.7,126.5l0.5,0.2M239.0,126.4l-0.3,0.0M243.7,126.2l0.3,0.2M249.0,126.1l-0.3,0.2M254.0,125.7l-0.4,0.6M258.6,125.9l0.3,0.1M263.7,125.8l0.0,0.0M268.6,125.4l0.2,0.6M273.6,125.4l0.2,0.3M278.8,125.3l-0.3,0.4M283.3,125.0l0.6,0.6M288.8,125.1l-0.5,0.1M298.5,124.8l0.0,0.3M303.8,124.8l-0.7,0.1M308.6,124.7l-0.3,0.0M313.3,124.5l0.2,0.3M323.2,124.3l0.3,0.2M328.0,124.2l0.7,0.1M333.3,124.1l-0.0,0.0M338.7,124.0l-0.8,0.0M363.2,123.3l-0.0,0.3M164.5,133.5l-0.1,0.0M169.6,133.4l-0.3,0.0M174.2,133.2l0.3,0.2M179.4,133.1l-0.1,0.2M184.4,132.9l-0.2,0.3M189.3,132.8l0.1,0.3M194.3,132.8l0.0,0.0M199.2,132.5l0.2,0.5M204.2,132.6l0.1,0.1M208.8,132.5l0.8,0.0M214.3,132.3l-0.4,0.1M224.2,131.9l-0.3,0.5M229.2,131.8l-0.3,0.4M234.0,131.7l0.0,0.4M238.8,131.5l0.5,0.5M244.1,131.6l-0.2,0.1M248.9,131.5l0.1,0.0M254.0,131.4l-0.1,0.0M259.1,131.2l-0.3,0.1M263.5,131.1l0.7,0.0M268.9,131.0l-0.1,0.1M273.8,130.6l0.0,0.5M278.8,130.7l0.1,0.2M283.7,130.3l0.1,0.7M288.8,130.5l-0.2,0.0M298.7,130.3l-0.1,0.0M303.9,130.1l-0.5,0.3M308.6,130.1l0.0,0.0M313.6,129.9l0.0,0.1M318.3,129.7l0.6,0.2M323.7,129.4l-0.3,0.6M328.5,129.5l-0.0,0.1M363.4,128.5l-0.2,0.4M174.4,138.4l0.2,0.4M179.3,138.3l0.4,0.6M184.7,138.4l-0.4,0.1M189.6,138.2l-0.3,0.2M194.2,137.8l0.4,0.7M199.1,137.9l0.6,0.4M204.4,137.9l-0.1,0.0M209.2,137.6l0.3,0.5M214.2,137.3l0.2,0.7M219.1,137.5l0.3,0.1M224.2,137.1l0.1,0.7M229.2,137.2l-0.0,0.2M234.4,137.1l-0.4,0.2M239.4,136.7l-0.4,0.7M243.8,137.0l0.6,0.0M249.2,136.6l-0.1,0.6M259.1,136.6l-0.2,0.0M264.0,136.5l0.0,0.0M268.8,136.1l0.3,0.6M274.1,136.2l-0.3,0.2M278.8,136.0l0.2,0.2M283.9,135.9l-0.0,0.2M288.9,135.9l-0.0,0.0M293.9,135.7l-0.1,0.1M298.8,135.6l0.0,0.1M303.4,135.4l0.7,0.3M313.8,135.3l-0.2,0.1M318.7,135.0l0.0,0.4M323.7,134.9l-0.1,0.3M328.5,134.7l0.3,0.5M363.5,134.0l-0.0,0.2M170.0,144.1l-0.5,0.0M174.8,143.9l-0.2,0.2M179.3,143.8l0.7,0.1M184.5,143.7l0.2,0.1M189.6,143.7l0.0,0.0M194.3,143.5l0.6,0.1M199.3,143.3l0.5,0.1M204.8,143.3l-0.5,0.0M209.4,142.8l0.1,0.8M214.7,142.9l-0.5,0.2M219.2,142.8l0.4,0.4M224.3,142.8l0.1,0.1M229.4,142.6l-0.1,0.1M234.6,142.2l-0.5,0.7M239.4,142.4l-0.3,0.1M244.6,142.1l-0.6,0.5M249.2,142.2l0.1,0.0M254.2,141.8l0.0,0.5M259.1,141.8l0.2,0.4M263.7,141.8l0.8,0.1M269.1,141.6l0.1,0.3M273.9,141.4l0.5,0.4M278.9,141.4l0.3,0.3M284.0,141.2l0.0,0.3M288.9,141.1l0.2,0.2M299.1,141.0l-0.3,0.1M304.3,140.8l-0.7,0.1M314.0,140.4l-0.4,0.5M318.7,140.2l0.2,0.7M323.7,140.3l0.3,0.2M328.8,140.1l0.1,0.3M358.6,139.5l0.0,0.0M363.3,139.2l0.5,0.5M169.7,149.4l0.4,0.2M174.9,148.9l-0.1,0.9M180.1,148.9l-0.6,0.6M184.6,149.1l0.4,0.1M189.8,148.9l-0.1,0.1M194.7,148.9l-0.0,0.0M204.6,148.2l0.1,0.9M209.4,148.4l0.5,0.3M214.6,148.4l-0.1,0.1M219.6,148.0l-0.1,0.5M224.5,148.1l0.0,0.1M229.5,147.9l0.0,0.2M234.8,147.8l-0.6,0.2M239.7,147.8l-0.5,0.0M244.7,147.5l-0.5,0.3M249.4,147.5l-0.0,0.0M254.4,147.4l0.0,0.0M259.3,147.2l0.0,0.3M264.2,147.1l0.1,0.2M269.5,147.0l-0.5,0.1M274.3,146.8l-0.0,0.4M279.5,146.7l-0.5,0.2M284.0,146.6l0.4,0.3M289.0,146.6l0.2,0.0M294.2,146.3l-0.2,0.3M303.9,145.9l0.4,0.7M308.6,146.1l0.9,0.1M314.0,145.9l0.0,0.1M319.0,145.7l-0.1,0.3M363.8,144.7l-0.1,0.1M170.1,154.8l-0.2,0.1M175.0,154.7l-0.1,0.0M180.0,154.3l-0.0,0.6M185.2,154.3l-0.6,0.3M190.2,154.3l-0.6,0.0M194.5,154.1l0.7,0.3M199.7,154.1l0.3,0.1M205.0,154.0l-0.4,0.0M209.8,153.8l-0.0,0.0M214.6,153.7l0.3,0.0M219.9,153.4l-0.3,0.5M224.7,153.1l-0.0,0.7M229.7,153.4l-0.1,0.0M234.5,153.2l0.2,0.2M239.6,153.1l0.1,0.1M244.8,153.0l-0.4,0.1M249.7,152.8l-0.3,0.3M254.3,152.6l0.3,0.4M259.5,152.6l-0.0,0.1M264.4,152.4l0.1,0.3M269.4,152.4l0.0,0.0M274.5,151.9l-0.2,0.8M279.5,151.9l-0.2,0.5M284.4,151.8l-0.2,0.6M289.3,151.8l0.0,0.3M294.7,151.8l-0.8,0.0M299.5,151.5l-0.5,0.4M304.2,151.5l0.0,0.2M308.9,151.1l0.6,0.6M314.0,151.1l0.3,0.4M318.7,151.0l0.8,0.4M358.9,150.1l-0.1,0.4M363.9,149.9l-0.0,0.5M170.2,160.1l-0.1,0.0M175.3,159.6l-0.2,0.9M180.1,159.9l-0.1,0.1M189.7,159.4l0.6,0.6M194.8,159.5l0.5,0.2M200.2,159.4l-0.4,0.1M204.7,159.3l0.6,0.0M210.3,159.0l-0.7,0.4M214.6,159.1l0.6,0.0M219.9,158.6l-0.0,0.7M224.9,158.8l-0.2,0.1M229.7,158.5l0.2,0.4M235.0,158.3l-0.4,0.6M240.1,158.4l-0.6,0.1M245.1,158.1l-0.7,0.5M249.7,158.0l-0.0,0.4M254.4,157.9l0.6,0.4M259.4,157.8l0.5,0.4M264.7,157.5l-0.2,0.7M269.5,157.6l0.2,0.3M274.5,157.3l0.1,0.7M279.5,157.4l0.1,0.2M284.7,157.3l-0.5,0.3M289.5,157.3l-0.2,0.0M294.5,157.0l-0.1,0.3M299.6,156.7l-0.4,0.7M304.5,156.9l-0.3,0.1M309.3,156.7l0.0,0.2M319.3,156.5l-0.0,0.0M354.4,155.6l-0.6,0.3M359.0,155.6l0.1,0.1M363.9,155.4l0.3,0.1M170.1,165.3l0.5,0.4M175.3,165.4l0.0,0.0M180.3,165.2l-0.0,0.1M185.2,165.2l0.0,0.0M190.4,164.8l-0.5,0.5M195.4,164.9l-0.5,0.1M200.3,164.7l-0.4,0.3M209.9,164.5l0.3,0.1M214.7,164.1l0.6,0.6M219.7,164.3l0.6,0.0M224.8,164.2l0.3,0.1M230.3,163.9l-0.8,0.3M235.0,163.9l-0.1,0.0M239.9,163.8l-0.0,0.1M244.5,163.7l0.8,0.1M249.7,163.5l0.2,0.2M254.5,163.4l0.6,0.1M260.2,163.2l-0.7,0.3M269.5,162.9l0.4,0.4M274.3,163.0l0.8,0.1M284.6,162.7l0.0,0.1M289.5,162.3l0.2,0.7M294.7,162.4l-0.2,0.1M299.2,162.3l0.6,0.2M304.5,162.1l0.0,0.3M309.6,161.8l-0.2,0.6M314.3,162.0l0.4,0.1M354.1,160.9l0.2,0.4M358.8,160.7l0.8,0.4M364.4,160.7l-0.4,0.2M170.5,170.8l-0.2,0.0M175.4,170.6l0.1,0.2M180.1,170.6l0.5,0.1M185.4,170.5l0.0,0.0M190.2,170.3l0.2,0.1M195.2,170.1l0.2,0.2M200.0,169.9l0.7,0.5M205.1,169.9l0.4,0.3M210.4,169.5l-0.4,0.7M215.3,169.6l-0.1,0.5M220.3,169.4l-0.2,0.5M224.8,169.4l0.7,0.3M230.0,169.4l0.1,0.0M235.0,168.9l0.1,0.8M240.1,169.0l-0.1,0.3M245.2,168.9l-0.4,0.3M250.3,168.6l-0.6,0.6M254.7,168.8l0.6,0.0M260.1,168.5l-0.3,0.3M264.6,168.5l0.7,0.1M270.2,168.4l-0.7,0.1M279.9,167.9l-0.2,0.6M284.7,167.8l0.2,0.5M290.0,167.9l-0.4,0.2M294.7,167.8l-0.0,0.0M299.6,167.5l0.2,0.4M304.6,167.6l0.1,0.1M309.3,167.4l0.6,0.2M314.4,167.4l0.4,0.0M359.2,165.8l0.2,0.9M364.4,166.1l-0.2,0.1M175.7,175.8l-0.3,0.5M180.6,176.0l-0.0,0.0M185.7,175.7l-0.4,0.2M190.7,175.6l-0.4,0.2M195.5,175.6l-0.1,0.1M200.2,175.3l0.5,0.4M205.4,175.1l-0.0,0.5M210.5,175.0l-0.2,0.4M215.7,174.9l-0.7,0.4M220.6,174.7l-0.5,0.6M235.3,174.6l-0.2,0.2M240.1,174.1l0.3,0.9M245.2,174.0l-0.0,0.8M250.0,173.9l0.2,0.8M255.2,174.0l-0.2,0.3M260.2,174.0l-0.3,0.1M265.1,173.9l-0.2,0.1M269.8,173.7l0.4,0.1M275.1,173.6l-0.2,0.2M279.8,173.3l0.4,0.5M285.2,173.4l-0.5,0.0M290.1,173.3l-0.3,0.1M294.9,173.2l-0.0,0.1M300.1,172.8l-0.4,0.6M309.5,172.6l0.5,0.4M359.1,171.5l0.8,0.2M364.3,171.3l0.3,0.5M170.7,181.5l0.0,0.1M180.6,181.2l0.2,0.3M185.4,181.0l0.6,0.5M190.6,181.1l-0.0,0.0M195.6,180.9l0.0,0.1M200.9,180.7l-0.7,0.2M205.2,180.6l0.8,0.2M215.1,180.3l0.7,0.4M220.5,180.1l-0.1,0.6M225.4,180.2l-0.0,0.1M230.5,179.9l-0.3,0.4M235.0,179.8l0.7,0.4M240.3,179.8l0.0,0.1M245.3,179.3l-0.0,0.9M250.1,179.6l0.5,0.1M255.6,179.3l-0.6,0.3M260.4,179.3l-0.4,0.1M265.2,179.2l-0.1,0.1M270.1,179.1l0.2,0.2M275.0,178.9l0.2,0.3M280.0,178.9l0.3,0.0M284.9,178.7l0.3,0.1M290.3,178.6l-0.5,0.1M294.9,178.5l0.3,0.2M299.9,178.3l0.1,0.3M305.0,178.1l-0.0,0.3M359.8,176.9l-0.4,0.2M364.8,176.7l-0.3,0.3M175.9,186.8l0.0,0.0M181.2,186.5l-0.7,0.4M185.9,186.3l-0.1,0.4M190.7,186.3l0.2,0.3M210.7,185.8l-0.1,0.2M216.0,185.6l-0.7,0.3M220.7,185.5l-0.1,0.3M225.6,185.5l-0.0,0.2M230.4,185.3l0.4,0.3M235.6,185.1l-0.2,0.6M245.5,185.0l-0.1,0.1M250.1,184.9l0.6,0.1M255.1,184.7l0.6,0.4M260.6,184.7l-0.4,0.0M265.4,184.5l-0.1,0.2M270.2,184.4l0.2,0.2M275.2,184.2l0.1,0.3M280.4,184.1l-0.3,0.4M289.8,184.0l0.8,0.1M295.5,183.9l-0.7,0.1M300.4,183.7l-0.6,0.1M304.9,183.5l0.4,0.3M309.8,183.5l0.5,0.1M176.0,192.1l-0.0,0.0M186.0,191.4l-0.2,0.9M190.8,191.4l0.4,0.7M200.9,191.5l-0.1,0.1M210.8,191.2l0.0,0.1M215.8,191.1l-0.1,0.2M235.9,190.5l-0.4,0.4M255.4,189.8l0.3,0.7M260.5,190.0l0.1,0.2M265.2,189.6l0.6,0.7M275.4,189.7l0.1,0.1M290.3,189.3l0.0,0.0M305.4,188.8l-0.2,0.3M314.9,188.7l0.5,0.1M166.3,197.7l-0.2,0.1M176.0,197.0l0.3,0.9M181.2,197.3l-0.2,0.1M186.1,197.2l0.1,0.1M190.9,197.0l0.3,0.3M206.0,196.7l-0.1,0.2M215.7,196.5l0.5,0.0M225.9,196.3l0.0,0.0M245.8,195.8l-0.1,0.0M250.7,195.6l0.1,0.1M255.6,195.2l0.1,0.6M270.7,195.1l-0.1,0.2M295.5,194.4l-0.0,0.4M300.8,194.3l-0.8,0.4M305.1,194.0l0.6,0.6M364.8,192.7l0.5,0.4M186.6,202.5l-0.6,0.1M191.3,202.3l-0.1,0.2M201.1,202.2l0.1,0.1M211.1,201.7l0.0,0.6M221.3,201.7l-0.6,0.1M231.3,201.3l-0.7,0.4M235.7,201.2l0.6,0.2M240.9,201.2l0.0,0.0M250.8,200.9l0.2,0.2M280.7,200.3l0.0,0.0M290.7,200.0l-0.1,0.1M305.9,199.6l-0.6,0.2M360.1,198.2l0.3,0.4M365.2,198.1l0.1,0.3M157.0,208.6l-0.7,0.0M176.5,208.1l-0.1,0.2M191.4,207.4l0.0,0.9M201.6,207.4l-0.6,0.4M216.1,206.9l0.3,0.5M236.0,206.5l0.3,0.4M246.1,206.4l-0.0,0.1M261.0,206.1l-0.1,0.0M265.9,205.9l0.1,0.2M270.7,205.7l0.5,0.3M276.0,205.6l-0.2,0.3M286.1,205.5l-0.5,0.1M290.6,205.3l0.4,0.2M300.7,204.8l0.0,0.6M360.2,203.4l0.4,0.6M365.3,203.5l0.0,0.3M156.6,213.9l0.3,0.2M161.8,213.8l-0.1,0.1M167.0,213.6l-0.6,0.2M171.6,213.6l0.0,0.0M176.7,213.2l-0.2,0.5M181.6,213.4l0.0,0.0M191.4,213.1l0.2,0.1M196.5,213.0l-0.0,0.0M206.8,212.7l-0.6,0.1M261.1,211.5l-0.1,0.0M270.9,210.9l0.2,0.6M276.3,210.8l-0.5,0.6M365.5,208.9l0.1,0.1M156.9,219.3l-0.0,0.1M182.0,218.4l-0.5,0.7M196.6,218.3l0.1,0.2M216.6,217.9l-0.1,0.0M226.5,217.5l-0.0,0.4M236.2,217.3l0.5,0.2M241.5,217.1l-0.3,0.4M246.3,217.2l0.0,0.0M251.3,217.0l0.1,0.0M271.2,216.5l-0.0,0.2M276.1,216.3l0.2,0.2M281.0,216.0l0.3,0.7M157.0,224.3l-0.0,0.8M162.0,224.3l0.1,0.5M182.0,223.7l-0.3,0.8M187.1,223.6l-0.5,0.7M192.2,223.6l-0.7,0.5M196.4,223.6l0.8,0.2M231.7,222.8l-0.3,0.1M236.7,222.7l-0.2,0.2M241.4,222.3l0.3,0.7M251.7,222.3l-0.4,0.1M256.5,222.3l-0.0,0.0M276.2,221.4l0.2,0.7M281.3,221.6l-0.1,0.2M286.3,221.5l0.0,0.1M296.0,221.1l0.4,0.5M157.2,229.8l-0.1,0.5M192.3,229.0l-0.6,0.3M201.9,228.6l0.0,0.7M206.7,228.7l0.4,0.3M211.5,228.7l0.8,0.1M237.0,228.1l-0.5,0.0M256.8,227.6l-0.4,0.1M266.4,227.0l0.3,0.7M276.0,227.1l0.9,0.2M281.6,226.6l-0.3,0.8M291.4,226.8l-0.1,0.0M192.0,234.3l0.3,0.4M216.8,233.8l0.4,0.2M232.0,233.4l-0.3,0.3M237.3,233.3l-0.8,0.3M261.8,232.8l-0.2,0.1M266.5,232.6l0.3,0.3M157.6,240.7l-0.3,0.1M192.4,239.8l-0.3,0.2M196.8,239.7l0.9,0.1M217.4,239.0l-0.6,0.5M222.0,239.1l0.1,0.1M227.0,239.0l0.1,0.2M242.3,238.6l-0.6,0.1M256.9,238.2l0.0,0.1M291.7,237.4l0.0,0.2M192.4,245.2l0.0,0.0M197.2,245.0l0.4,0.2M212.0,244.5l0.6,0.4M227.0,244.3l0.3,0.1M232.5,244.2l-0.6,0.2M237.5,244.1l-0.6,0.2M257.1,243.6l-0.1,0.2M262.1,243.4l-0.2,0.2M267.1,243.2l-0.2,0.3M272.1,243.2l-0.3,0.1M282.1,243.0l-0.5,0.1M197.5,250.3l-0.0,0.2M252.2,249.0l0.0,0.2M257.2,248.6l-0.0,0.8M262.0,248.9l0.3,0.0M272.1,248.3l-0.0,0.7M282.0,248.3l0.1,0.1M286.7,248.1l0.6,0.3M307.0,247.7l-0.3,0.3M311.9,247.7l-0.2,0.0M262.1,254.2l0.4,0.1M311.9,252.8l0.2,0.4M262.3,259.4l0.3,0.4M267.3,259.3l0.2,0.3M312.0,258.3l0.3,0.0M317.0,258.2l0.3,0.1M267.7,264.6l-0.3,0.3M272.9,264.4l-0.7,0.5M312.2,263.6l0.3,0.1M317.3,263.5l-0.0,0.1M292.6,269.5l-0.1,0.1M278.0,275.0l-0.5,0.6M292.7,274.8l-0.0,0.1M297.6,274.7l0.1,0.1" stroke="#4a86c2" stroke-width="1.2" stroke-linecap="round" stroke-opacity="0.6" fill="none"/><path d="M251.5,72.7l1.6,-0.2M262.1,71.2l0.3,2.3M266.8,71.7l0.9,1.1M306.4,69.5l1.1,3.6M335.9,69.8l1.7,1.4M350.8,69.2l1.8,1.9M253.0,76.8l-1.1,2.3M287.0,76.2l0.5,1.7M302.1,75.7l0.0,2.1M306.5,75.5l1.3,2.2M351.8,73.8l0.2,3.5M361.0,73.7l1.7,3.2M157.3,85.0l1.6,1.1M162.4,84.9l1.5,1.2M173.1,84.4l-0.0,1.6M192.6,84.2l0.8,1.1M312.4,80.1l-0.4,3.5M331.0,79.8l2.2,3.2M356.7,79.9l0.6,1.7M227.6,88.2l0.6,2.1M327.4,85.6l-0.3,2.5M341.4,84.9l1.6,3.1M345.8,85.4l2.7,1.8M352.0,85.5l0.3,1.5M152.2,95.3l2.5,2.1M157.0,96.1l2.9,0.3M162.7,94.7l1.5,2.9M297.3,92.2l0.7,1.5M317.2,91.7l0.6,1.5M341.5,90.6l1.7,2.5M167.4,100.3l2.2,2.1M291.3,97.6l3.1,1.5M331.6,96.7l1.9,1.4M336.9,96.2l1.2,2.2M342.2,95.4l0.5,3.4M148.4,106.4l0.8,1.6M153.2,106.8l1.2,0.5M287.5,102.7l0.9,2.2M307.7,102.1l0.3,2.5M332.4,101.7l0.7,2.0M356.5,101.1l2.2,2.2M173.9,111.0l-0.1,1.8M302.5,107.0l1.1,3.7M328.3,106.8l-0.8,2.9M362.8,106.3l-0.3,2.0M307.9,113.0l0.5,2.0M337.8,112.4l0.3,1.8M298.4,118.5l-0.1,2.2M312.6,118.4l1.3,1.6M292.6,124.0l1.8,2.2M319.4,123.7l-2.0,1.5M219.2,130.6l-0.1,3.3M293.0,129.4l1.5,2.2M333.6,128.5l-0.3,1.9M168.6,137.6l1.9,2.5M253.3,136.0l1.6,1.5M308.8,134.0l-0.1,2.9M294.2,140.3l-0.3,1.6M309.0,139.3l-0.3,2.9M198.3,148.8l2.8,-0.0M298.5,144.6l1.1,3.4M323.5,144.8l0.8,1.9M358.3,144.2l0.9,1.3M323.0,150.2l2.1,1.8M183.8,159.2l2.5,1.3M313.5,156.5l1.7,0.3M322.7,155.0l3.0,2.8M203.9,164.1l2.4,1.1M264.6,162.2l0.3,2.1M279.4,162.2l0.6,1.3M319.1,160.1l0.7,3.6M323.6,160.0l1.6,3.5M274.0,166.9l1.6,2.9M319.1,165.9l0.9,2.8M169.0,175.6l3.1,1.3M224.0,174.9l2.6,-0.0M229.0,174.5l2.6,0.4M304.4,172.2l0.8,1.6M319.2,171.6l1.1,1.9M175.2,180.8l1.0,1.3M210.1,179.6l0.9,1.9M309.3,177.0l1.4,2.3M319.0,176.4l1.8,3.1M195.0,185.6l1.5,1.5M199.9,185.1l1.7,2.1M204.8,185.4l1.8,1.4M239.3,185.0l2.4,0.4M284.0,183.2l2.5,1.8M314.1,181.7l1.9,3.5M170.4,191.3l1.3,1.8M195.4,190.8l1.1,1.7M205.3,191.0l1.2,0.8M220.2,190.1l1.1,1.9M225.2,190.2l1.0,1.3M230.7,190.1l0.1,1.5M240.0,189.8l1.3,1.5M245.3,189.4l0.6,2.1M250.0,189.7l1.1,1.2M270.2,188.8l0.5,2.1M279.2,188.9l2.3,1.4M284.4,188.3l2.0,2.4M294.5,188.9l1.6,0.8M299.8,188.1l1.0,2.0M309.3,188.4l1.9,1.0M195.7,196.5l0.7,1.0M200.9,195.4l0.3,3.0M210.8,195.0l0.3,3.3M220.9,195.8l0.1,1.2M230.4,196.0l1.0,0.4M234.9,195.5l1.7,1.0M240.5,194.9l0.6,1.9M259.1,194.7l3.1,1.4M264.6,194.9l2.1,0.9M274.7,194.7l1.7,0.8M280.4,194.3l0.3,1.2M284.4,194.2l2.2,1.2M289.5,193.9l2.0,1.7M309.1,193.8l2.7,0.8M180.2,201.7l2.2,2.0M195.3,201.7l1.9,1.3M205.8,201.3l0.7,1.6M215.2,200.7l1.7,2.2M225.4,200.9l1.2,1.3M245.3,199.6l1.2,3.0M254.7,200.7l2.2,0.4M260.5,199.5l0.6,2.6M265.8,200.1l0.0,1.1M269.4,201.0l2.7,-0.9M275.0,199.7l1.5,1.3M285.3,199.6l0.8,1.2M295.0,199.6l1.1,0.6M300.6,198.5l-0.1,2.5M160.9,207.0l1.2,3.1M180.8,207.5l1.4,1.2M186.3,206.6l0.1,2.7M195.9,206.2l0.8,3.0M205.6,207.2l1.3,0.4M210.1,206.1l2.2,2.4M220.9,206.7l0.7,0.7M225.5,206.2l1.4,1.6M230.4,206.5l1.4,0.6M240.7,206.2l0.7,0.7M250.3,205.9l1.4,1.0M255.4,205.1l1.2,2.2M280.2,204.4l1.3,2.5M294.9,204.7l1.8,1.1M186.8,211.8l-0.4,3.0M201.5,212.0l-0.2,1.9M210.3,211.7l2.2,1.8M215.9,211.8l0.9,1.4M220.5,212.0l1.7,0.8M226.3,211.4l0.1,1.8M230.9,211.6l0.8,1.1M235.3,211.0l2.0,2.2M240.8,210.5l0.8,3.0M245.0,210.9l2.4,1.8M251.5,210.8l-0.6,1.8M255.6,211.1l1.1,0.9M266.0,210.5l0.2,1.6M280.4,210.2l1.3,1.6M285.3,210.3l1.3,1.1M290.3,209.9l1.3,1.8M295.4,208.6l1.1,4.0M160.3,218.9l3.1,0.6M166.3,217.8l1.1,2.5M186.3,218.2l0.8,0.9M191.0,217.9l1.4,1.2M200.8,217.3l1.5,1.8M206.1,217.8l1.0,0.7M210.7,216.8l1.8,2.5M219.9,217.3l3.2,0.8M230.9,216.9l1.1,1.2M255.8,216.5l1.1,0.9M260.8,215.4l0.8,2.8M264.9,216.1l2.7,1.1M286.2,215.6l-0.2,1.2M201.5,222.6l0.6,2.1M206.9,222.7l-0.3,1.5M211.4,222.1l0.6,2.5M216.2,222.5l1.0,1.4M221.2,222.9l1.0,0.5M226.5,222.2l0.3,1.6M246.6,221.8l-0.1,1.5M260.4,222.1l2.0,0.0M266.0,220.5l0.9,3.0M270.7,220.8l1.3,2.1M290.5,220.6l1.5,1.6M196.2,228.3l1.4,1.6M216.0,227.5l1.7,2.3M220.4,227.7l2.8,1.4M226.3,227.7l0.9,1.3M231.7,227.1l-0.0,2.2M241.3,227.0l0.7,1.9M245.6,227.1l2.2,1.6M250.2,227.3l2.9,0.9M260.9,226.3l1.2,2.4M271.3,226.0l0.4,2.6M286.4,226.3l0.1,1.2M196.0,233.3l2.1,2.1M201.3,234.2l1.5,0.1M206.3,233.6l1.5,1.1M211.6,232.4l0.8,3.3M221.7,233.4l0.6,0.8M225.7,233.8l2.5,-0.3M241.3,232.4l1.0,1.9M246.4,232.1l0.8,2.3M251.4,232.7l0.7,0.7M256.2,231.7l1.0,2.6M271.1,232.3l1.2,0.7M275.5,232.2l2.2,0.6M281.2,230.9l0.8,2.8M285.9,232.0l1.3,0.4M290.8,230.9l1.4,2.5M295.5,230.7l1.9,2.6M202.0,238.1l0.3,3.1M206.9,238.1l0.5,2.8M211.7,238.7l0.9,1.5M230.8,238.3l2.4,1.3M235.8,237.8l2.5,2.0M246.4,237.9l1.1,1.2M250.4,237.8l3.0,1.3M261.4,237.2l0.9,1.9M266.2,237.5l1.3,1.2M271.7,237.3l0.2,1.2M276.1,236.8l1.4,2.1M280.6,237.0l2.2,1.3M285.9,236.6l1.6,2.0M296.1,235.4l1.1,3.9M201.7,244.0l1.4,2.0M206.1,243.9l2.5,2.0M216.3,243.1l1.8,3.0M221.0,243.1l2.4,2.8M241.5,243.3l1.3,1.4M246.0,243.6l2.1,0.6M250.9,243.5l2.2,0.5M276.6,242.4l0.6,1.4M286.5,242.2l0.6,1.4M291.1,241.4l1.4,2.7M295.7,241.0l2.2,3.4M300.8,241.8l1.9,1.5M305.6,241.4l2.3,2.2M267.0,247.1l0.3,3.4M276.3,247.7l1.5,1.6M291.0,247.0l1.9,2.3M297.2,247.0l-0.5,2.1M301.9,246.9l0.1,1.9M256.7,253.5l1.2,1.6M266.4,252.6l1.7,3.0M281.7,252.3l1.0,2.9M291.0,252.2l2.3,2.7M296.6,251.8l1.0,3.2M301.3,251.7l1.5,3.2M306.3,252.2l1.6,1.8M271.8,258.5l1.2,1.6M281.0,257.6l2.7,2.9M291.7,257.7l1.1,2.4M296.6,257.2l1.2,3.1M301.1,257.9l2.3,1.4M306.4,257.5l1.6,1.9M261.0,263.7l3.1,2.4M276.9,262.5l1.2,4.0M282.0,263.6l0.9,1.7M287.0,262.8l0.8,3.0M291.2,263.2l2.4,1.9M296.8,262.3l1.2,3.6M302.2,262.1l0.2,3.7M305.9,262.7l2.8,2.2M261.4,269.3l2.6,2.0M267.3,269.0l0.7,2.2M271.7,268.4l2.0,3.2M276.7,268.3l2.0,3.2M281.8,268.8l1.7,2.0M286.9,268.3l1.4,2.7M301.7,267.9l1.6,2.8M306.9,268.0l1.2,2.3M317.4,267.6l0.0,2.7M262.3,274.4l1.2,2.4M267.6,274.4l0.5,2.2M271.9,274.6l1.8,1.5M286.8,273.7l1.8,2.6M306.9,273.7l1.5,1.7M311.6,272.8l1.9,3.3M316.3,273.3l2.5,2.0" stroke="#94c6e6" stroke-width="1.0" stroke-linecap="round" stroke-opacity="0.75" fill="none"/></g><use href="#fg"/></g>
<g transform="translate(328.0,252.0)"><use href="#base"/><g clip-path="url(#axclip)"><path d="M237.1,72.6l0.5,0.6M242.4,72.7l-0.2,0.2M247.2,72.5l0.3,0.4M252.2,72.2l0.2,0.8M257.4,72.3l-0.3,0.4M262.2,72.2l0.1,0.4M266.8,72.2l0.8,0.1M272.1,71.8l0.1,0.7M277.1,71.7l0.1,0.5M282.2,71.7l-0.2,0.3M287.0,71.7l0.1,0.1M292.2,71.4l-0.3,0.4M297.4,71.3l-0.7,0.3M302.1,71.4l-0.1,0.1M307.0,71.0l-0.0,0.5M321.9,70.7l-0.0,0.4M326.8,70.8l0.2,0.0M331.8,70.7l0.1,0.0M341.8,70.4l-0.0,0.0M346.4,70.2l0.6,0.2M351.4,69.9l0.7,0.5M356.9,69.9l-0.5,0.3M361.8,69.9l-0.3,0.1M148.2,80.3l-0.4,0.4M152.9,80.2l0.2,0.3M158.0,80.0l0.0,0.5M168.0,80.0l-0.2,0.1M172.9,79.9l0.0,0.0M178.3,79.7l-0.8,0.1M182.9,79.5l-0.0,0.3M187.8,79.5l0.1,0.0M192.6,79.3l0.3,0.1M197.8,79.2l-0.0,0.1M203.1,78.9l-0.8,0.5M207.8,79.0l-0.1,0.1M213.0,78.6l-0.6,0.6M217.8,78.7l-0.3,0.2M222.4,78.4l0.5,0.6M227.6,78.5l0.1,0.1M232.5,78.3l0.0,0.3M237.5,78.0l0.1,0.5M242.4,77.9l0.1,0.6M247.6,77.8l-0.2,0.5M252.4,77.9l0.0,0.0M257.3,77.8l0.2,0.0M262.4,77.4l-0.0,0.5M267.3,77.5l0.2,0.1M272.5,77.3l-0.3,0.4M277.2,77.0l0.3,0.8M282.6,77.2l-0.6,0.0M287.1,76.9l0.3,0.5M292.0,76.9l0.3,0.2M297.4,76.7l-0.4,0.4M302.2,76.3l-0.0,0.8M307.0,76.6l0.2,0.0M312.1,76.5l0.0,0.0M322.1,76.0l-0.2,0.5M327.4,76.1l-0.7,0.1M332.4,76.0l-0.8,0.1M337.3,75.6l-0.7,0.6M346.8,75.5l0.1,0.3M351.8,75.4l0.2,0.2M356.5,75.4l0.6,0.0M361.9,75.1l-0.3,0.3M153.2,85.6l0.0,0.2M168.2,85.3l-0.1,0.1M173.2,85.1l-0.3,0.1M178.0,85.1l0.0,0.0M183.2,84.9l-0.5,0.2M187.8,84.8l0.3,0.0M193.0,84.7l-0.1,0.1M198.0,84.6l-0.1,0.0M202.6,84.2l0.7,0.6M208.1,84.3l-0.6,0.1M212.5,84.1l0.7,0.2M217.7,84.1l0.1,0.1M223.1,84.0l-0.8,0.1M227.6,83.8l0.3,0.1M232.7,83.5l-0.0,0.6M237.9,83.3l-0.4,0.6M242.9,83.5l-0.4,0.1M247.6,83.2l0.1,0.4M252.6,83.2l-0.1,0.1M257.7,82.8l-0.2,0.8M262.6,82.9l-0.0,0.3M267.6,82.7l-0.2,0.4M272.7,82.7l-0.4,0.2M277.5,82.6l-0.1,0.1M282.2,82.5l0.4,0.0M287.5,82.4l-0.3,0.2M292.4,82.3l-0.0,0.1M297.0,82.1l0.7,0.1M307.1,81.9l0.3,0.0M312.4,81.8l-0.3,0.1M327.3,81.4l-0.4,0.1M332.4,81.1l-0.6,0.4M337.2,81.1l-0.3,0.2M341.8,80.8l0.5,0.6M347.1,81.0l-0.1,0.1M356.9,80.6l0.2,0.4M153.2,90.8l0.2,0.5M158.1,90.7l0.3,0.5M168.3,90.4l-0.2,0.6M177.8,90.3l0.8,0.3M183.3,90.2l-0.3,0.3M188.2,90.2l-0.1,0.1M193.1,89.9l0.1,0.3M197.8,89.7l0.5,0.6M203.0,89.6l-0.0,0.5M207.6,89.7l0.7,0.1M213.0,89.6l-0.1,0.1M217.9,89.4l0.0,0.2M222.9,89.1l-0.0,0.4M228.2,88.9l-0.6,0.6M232.6,89.0l0.4,0.2M237.8,88.8l-0.0,0.4M242.9,88.6l-0.2,0.6M247.6,88.7l0.3,0.1M253.0,88.5l-0.6,0.3M257.8,88.4l-0.1,0.1M262.8,88.2l-0.2,0.5M268.0,88.2l-0.6,0.2M277.6,88.0l-0.1,0.0M282.2,87.7l0.7,0.5M287.3,87.6l0.4,0.4M297.8,87.4l-0.7,0.2M302.1,87.1l0.6,0.7M307.4,87.3l-0.0,0.0M317.6,87.0l-0.5,0.0M321.9,86.9l0.9,0.2M327.4,86.7l-0.3,0.3M337.2,86.6l0.1,0.1M342.5,86.2l-0.6,0.6M346.8,86.3l0.8,0.0M352.1,86.2l0.0,0.1M356.9,85.9l0.4,0.3M362.1,86.0l-0.1,0.0M148.7,96.3l-0.4,0.3M153.6,96.3l-0.2,0.2M158.3,96.2l0.4,0.2M163.3,96.0l0.3,0.3M168.3,96.0l0.2,0.1M173.8,95.8l-0.8,0.2M178.3,95.7l0.1,0.2M183.5,95.6l-0.4,0.0M188.3,95.5l0.0,0.1M193.0,95.2l0.5,0.5M198.4,95.1l-0.4,0.4M203.2,95.1l-0.1,0.1M207.9,94.9l0.5,0.3M213.5,94.8l-0.7,0.2M218.1,94.8l-0.0,0.0M223.1,94.7l-0.2,0.1M227.9,94.5l0.3,0.1M233.0,94.3l-0.1,0.2M237.8,94.3l0.3,0.1M242.6,94.1l0.6,0.3M247.8,94.0l0.2,0.1M253.0,93.8l-0.2,0.4M257.7,93.5l0.4,0.7M263.1,93.4l-0.4,0.7M267.7,93.5l0.1,0.3M273.0,93.2l-0.6,0.6M277.7,93.3l0.1,0.1M283.0,92.9l-0.5,0.7M293.0,92.9l-0.8,0.3M297.6,92.9l-0.0,0.0M302.7,92.5l-0.1,0.5M307.6,92.6l-0.0,0.0M312.8,92.5l-0.6,0.1M317.6,92.3l-0.1,0.1M322.6,92.2l-0.3,0.1M342.5,91.8l-0.3,0.1M347.4,91.6l-0.2,0.3M352.2,91.2l0.2,0.7M357.1,91.1l0.3,0.8M362.2,91.3l0.2,0.1M148.8,101.7l-0.3,0.3M153.8,101.6l-0.3,0.3M158.6,101.5l0.0,0.2M163.5,101.2l0.1,0.6M168.5,101.4l-0.0,0.0M173.5,101.0l-0.0,0.4M178.6,101.0l-0.2,0.3M183.6,100.8l-0.3,0.3M188.7,100.6l-0.6,0.6M193.6,100.7l-0.4,0.2M198.6,100.5l-0.4,0.3M203.3,100.4l0.2,0.3M208.3,100.4l-0.1,0.1M213.4,100.2l-0.3,0.2M218.5,99.9l-0.5,0.4M223.1,100.0l0.1,0.2M228.5,99.7l-0.7,0.4M233.2,99.5l-0.2,0.5M238.1,99.3l0.0,0.7M242.9,99.5l0.3,0.2M247.9,99.4l0.2,0.1M253.0,99.2l0.1,0.2M257.8,98.8l0.4,0.8M263.0,99.0l-0.1,0.2M267.8,98.9l0.2,0.1M273.1,98.5l-0.3,0.7M277.9,98.7l-0.1,0.1M282.9,98.6l-0.1,0.1M287.8,98.4l0.0,0.1M292.8,98.3l0.0,0.0M297.8,98.2l-0.0,0.1M307.6,97.9l0.2,0.2M317.7,97.7l0.0,0.2M332.8,97.1l-0.5,0.7M342.6,97.0l-0.1,0.4M347.8,97.0l-0.6,0.1M352.2,96.6l0.4,0.7M357.2,96.6l0.5,0.3M362.8,96.5l-0.9,0.3M148.8,107.1l0.1,0.2M164.0,106.8l-0.5,0.0M173.7,106.5l-0.0,0.1M179.0,106.4l-0.8,0.2M184.0,106.3l-0.7,0.2M188.6,106.2l-0.1,0.1M193.4,106.0l0.3,0.1M198.3,106.0l0.4,0.0M203.6,105.8l-0.2,0.1M208.5,105.3l-0.0,0.8M213.4,105.4l-0.0,0.5M218.2,105.2l0.3,0.5M223.8,105.3l-0.9,0.1M228.3,105.2l0.0,0.2M232.9,105.0l0.8,0.3M238.3,105.0l0.0,0.1M243.3,104.8l-0.2,0.2M248.1,104.7l0.2,0.1M253.1,104.2l0.2,0.8M258.3,104.5l-0.2,0.1M263.1,104.0l-0.0,0.8M268.3,104.3l-0.4,0.1M273.0,103.9l0.2,0.6M277.9,104.0l0.4,0.1M283.0,103.9l-0.0,0.0M292.7,103.6l0.6,0.2M297.9,103.5l0.0,0.2M302.6,103.4l0.5,0.2M307.9,103.2l0.0,0.2M312.5,103.1l0.7,0.3M318.1,102.8l-0.5,0.5M322.6,102.8l0.3,0.5M327.8,102.5l-0.1,0.7M342.4,102.4l0.5,0.2M347.8,102.3l-0.3,0.1M352.4,102.2l0.4,0.1M357.2,102.1l0.7,0.1M149.0,112.1l-0.2,0.8M159.2,112.0l-0.5,0.5M168.8,112.0l-0.0,0.0M174.0,111.9l-0.3,0.1M178.8,111.8l-0.1,0.0M184.2,111.7l-0.9,0.1M188.7,111.6l-0.0,0.0M193.7,111.4l-0.0,0.0M198.4,111.3l0.5,0.1M203.7,110.9l-0.1,0.7M208.6,110.9l0.0,0.3M213.6,110.6l-0.2,0.8M218.5,110.7l0.1,0.4M223.4,110.3l0.2,0.8M228.2,110.5l0.5,0.3M233.5,110.5l-0.0,0.0M238.6,110.1l-0.4,0.5M243.4,109.9l-0.1,0.8M248.6,109.9l-0.4,0.4M253.2,109.8l0.3,0.4M258.5,109.9l-0.5,0.1M263.3,109.7l-0.1,0.2M268.5,109.5l-0.5,0.3M273.5,109.3l-0.6,0.4M277.9,109.2l0.6,0.4M283.4,109.2l-0.5,0.1M288.0,108.9l0.3,0.6M308.0,108.7l-0.0,0.0M313.0,108.6l0.0,0.0M318.0,108.3l-0.1,0.2M323.0,108.2l-0.2,0.2M332.8,108.1l0.2,0.1M337.7,107.6l0.2,0.7M347.8,107.7l0.0,0.1M353.1,107.4l-0.7,0.3M362.8,107.2l-0.2,0.3M149.0,117.7l0.3,0.3M154.1,117.7l0.0,0.1M159.1,117.6l-0.1,0.1M164.0,117.5l-0.0,0.0M169.0,117.4l-0.0,0.0M173.8,117.0l0.3,0.5M179.0,117.1l-0.1,0.2M188.9,116.7l-0.2,0.4M193.8,116.8l0.0,0.0M199.2,116.7l-0.7,0.0M203.4,116.6l0.7,0.0M208.8,116.3l-0.0,0.4M213.7,116.2l0.1,0.3M218.9,115.9l-0.4,0.5M223.7,116.0l-0.2,0.1M228.7,115.8l-0.2,0.4M233.5,115.6l0.1,0.4M238.5,115.5l0.2,0.4M243.8,115.5l-0.6,0.2M248.5,115.5l0.1,0.0M253.3,115.4l0.3,0.0M258.4,115.2l0.1,0.1M263.3,115.1l0.2,0.1M268.6,114.9l-0.5,0.2M273.0,114.8l0.7,0.2M277.9,114.6l0.8,0.3M283.5,114.6l-0.3,0.1M298.2,114.3l-0.0,0.0M303.6,114.1l-0.7,0.1M313.2,113.8l-0.1,0.2M318.5,113.8l-0.8,0.0M328.3,113.4l-0.4,0.3M332.7,113.2l0.7,0.5M343.3,113.0l-0.6,0.3M149.1,122.9l0.3,0.6M154.2,123.0l0.1,0.3M159.1,122.7l0.2,0.6M164.0,122.7l0.3,0.3M168.8,122.7l0.7,0.1M173.9,122.4l0.3,0.4M179.1,122.5l0.0,0.0M184.2,122.2l-0.3,0.3M189.0,122.3l0.1,0.0M194.0,122.1l0.0,0.0M198.8,122.0l0.3,0.1M204.0,121.9l-0.1,0.1M208.9,121.8l0.0,0.0M214.0,121.7l-0.3,0.0M218.8,121.5l0.0,0.0M223.8,121.2l-0.1,0.4M228.5,121.2l0.5,0.2M233.9,120.9l-0.3,0.6M238.8,121.0l-0.3,0.2M243.7,120.6l0.0,0.7M248.6,120.8l0.1,0.1M253.4,120.7l0.4,0.1M258.6,120.5l-0.1,0.2M263.6,120.5l-0.0,0.0M268.3,120.2l0.6,0.3M273.6,120.1l-0.1,0.2M278.4,120.1l0.1,0.0M283.4,120.0l0.1,0.0M293.6,119.7l-0.3,0.2M298.4,119.6l-0.1,0.1M308.6,119.2l-0.5,0.4M313.3,119.2l-0.0,0.2M318.2,118.8l0.1,0.6M323.2,118.8l0.1,0.5M149.5,128.4l-0.2,0.4M154.1,128.5l0.6,0.0M159.4,128.2l-0.2,0.3M163.9,128.1l0.8,0.2M169.4,127.9l-0.3,0.3M174.5,127.8l-0.4,0.3M179.4,127.7l-0.4,0.4M184.2,127.6l-0.1,0.2M194.3,127.2l-0.3,0.5M199.5,127.3l-0.7,0.1M204.1,127.2l-0.0,0.1M209.1,126.8l-0.0,0.8M214.0,126.8l0.0,0.3M219.0,126.8l-0.0,0.3M223.8,126.8l0.3,0.0M228.9,126.6l0.1,0.1M234.1,126.5l-0.4,0.1M238.6,126.4l0.4,0.1M243.8,126.3l0.1,0.0M248.9,126.1l-0.1,0.2M254.0,125.7l-0.4,0.6M263.7,125.8l-0.0,0.0M268.8,125.6l-0.1,0.1M273.5,125.6l0.3,0.0M278.8,125.3l-0.3,0.2M283.4,125.0l0.3,0.6M288.4,125.1l0.2,0.3M293.5,125.1l0.1,0.1M298.5,124.9l-0.1,0.1M303.5,124.7l0.0,0.3M318.4,124.4l0.0,0.1M333.4,124.1l-0.1,0.1M338.4,123.8l-0.2,0.4M363.1,123.2l0.1,0.5M164.4,133.5l0.1,0.2M169.4,133.4l-0.0,0.0M174.3,133.1l0.1,0.4M184.8,133.0l-0.9,0.1M189.1,132.8l0.3,0.3M194.4,132.7l-0.3,0.3M199.4,132.6l-0.3,0.1M203.8,132.6l0.9,0.1M209.2,132.5l0.0,0.0M214.5,132.2l-0.6,0.3M219.2,132.1l-0.2,0.2M223.9,131.9l0.4,0.5M233.8,131.8l0.5,0.1M239.0,131.7l0.0,0.1M243.8,131.6l0.4,0.1M248.7,131.4l0.5,0.3M254.1,131.3l-0.3,0.1M258.8,131.1l0.2,0.3M264.1,131.1l-0.4,0.1M268.6,130.9l0.5,0.3M273.9,130.7l-0.2,0.4M278.8,130.5l0.0,0.6M283.8,130.4l-0.1,0.6M289.0,130.3l-0.7,0.6M293.7,130.4l-0.0,0.0M298.6,130.2l0.1,0.2M313.3,129.7l0.6,0.5M323.7,129.3l-0.3,0.7M328.7,129.5l-0.4,0.2M333.5,129.2l0.0,0.6M363.1,128.7l0.4,0.1M169.5,138.5l0.1,0.5M174.3,138.4l0.5,0.6M179.2,138.5l0.7,0.1M184.5,138.3l-0.0,0.2M194.3,138.1l0.2,0.2M199.6,138.0l-0.4,0.2M204.3,137.9l0.0,0.1M209.3,137.7l0.0,0.2M214.1,137.5l0.4,0.4M219.2,137.4l0.2,0.4M224.4,137.3l-0.2,0.2M229.0,137.1l0.4,0.4M234.0,137.1l0.4,0.2M239.0,136.7l0.2,0.8M244.2,136.8l-0.2,0.4M249.1,136.6l-0.0,0.6M253.8,136.6l0.5,0.2M259.4,136.4l-0.6,0.4M264.0,136.3l-0.1,0.3M268.7,136.4l0.6,0.0M274.1,136.2l-0.3,0.1M278.9,135.8l-0.0,0.7M284.1,135.8l-0.4,0.3M288.7,135.8l0.3,0.2M293.9,135.7l-0.1,0.2M303.8,135.5l-0.1,0.1M308.9,135.2l-0.3,0.4M313.9,135.1l-0.3,0.4M318.7,134.8l-0.1,0.7M323.7,134.8l-0.1,0.5M363.4,134.1l0.0,0.0M169.7,144.0l0.1,0.2M174.3,143.9l0.8,0.2M179.6,143.7l0.1,0.4M184.4,143.6l0.4,0.3M189.6,143.4l-0.0,0.5M194.8,143.3l-0.5,0.4M199.2,143.4l0.6,0.1M204.5,143.1l0.0,0.5M209.4,142.9l0.1,0.5M214.5,143.0l-0.1,0.2M219.7,142.9l-0.5,0.1M224.6,142.5l-0.4,0.7M229.3,142.6l0.2,0.2M234.3,142.5l0.1,0.1M239.0,142.3l0.5,0.4M243.8,142.2l0.9,0.3M249.4,142.1l-0.3,0.3M254.2,142.0l0.0,0.1M259.2,141.9l-0.1,0.1M264.3,141.8l-0.2,0.2M274.0,141.6l0.1,0.1M279.4,141.4l-0.6,0.1M284.4,141.3l-0.7,0.1M288.9,140.9l0.3,0.7M294.1,140.9l-0.3,0.5M299.2,140.9l-0.5,0.2M308.7,140.7l0.4,0.1M313.9,140.4l-0.1,0.5M318.4,140.4l0.9,0.1M323.7,140.1l0.2,0.6M328.3,140.2l0.9,0.1M363.6,139.4l-0.1,0.1M169.9,149.1l-0.2,0.8M174.8,149.2l0.1,0.4M180.1,149.2l-0.5,0.1M184.8,149.1l-0.0,0.0M189.3,148.9l0.9,0.2M194.8,148.6l-0.2,0.5M199.6,148.5l0.2,0.5M204.9,148.5l-0.5,0.3M209.7,148.4l-0.1,0.3M214.6,148.4l0.0,0.0M219.9,148.1l-0.6,0.4M224.5,148.1l0.1,0.1M229.2,147.8l0.7,0.4M239.5,147.7l-0.0,0.2M244.3,147.3l0.3,0.8M249.6,147.5l-0.4,0.2M254.5,147.4l-0.3,0.0M259.3,147.2l0.0,0.2M264.3,147.0l0.1,0.4M269.5,146.9l-0.5,0.4M274.1,146.6l0.2,0.6M279.6,146.7l-0.7,0.2M284.0,146.6l0.4,0.3M289.2,146.6l0.0,0.0M294.5,146.4l-0.7,0.1M299.3,146.1l-0.3,0.4M304.1,146.0l-0.1,0.5M314.0,146.0l-0.0,0.0M319.3,145.8l-0.7,0.2M358.6,144.6l0.4,0.5M363.8,144.6l-0.1,0.4M169.7,154.6l0.6,0.4M175.1,154.7l-0.3,0.0M180.3,154.5l-0.7,0.1M185.2,154.3l-0.5,0.3M189.8,154.1l0.2,0.5M194.7,154.2l0.3,0.1M199.8,154.1l0.0,0.0M204.8,153.9l0.0,0.3M209.8,153.7l0.0,0.2M215.1,153.7l-0.8,0.2M219.4,153.5l0.6,0.3M224.7,153.3l0.0,0.3M229.9,153.3l-0.5,0.1M234.8,153.2l-0.3,0.2M239.8,153.0l-0.3,0.2M244.8,152.7l-0.5,0.6M249.6,152.5l-0.1,0.8M254.5,152.7l0.0,0.2M259.5,152.5l0.0,0.4M264.6,152.5l-0.3,0.2M269.6,152.4l-0.4,0.0M274.8,152.1l-0.7,0.3M279.6,152.2l-0.4,0.0M284.5,151.8l-0.4,0.5M289.1,151.9l0.5,0.1M294.0,151.6l0.5,0.5M299.2,151.7l0.0,0.0M304.4,151.4l-0.3,0.4M309.6,151.3l-0.8,0.3M314.4,151.0l-0.5,0.6M319.5,151.0l-0.8,0.4M358.7,150.1l0.4,0.2M363.4,150.1l0.9,0.1M170.2,160.2l0.0,0.0M175.1,160.0l0.0,0.1M185.0,159.6l0.1,0.5M190.3,159.6l-0.4,0.2M195.0,159.4l0.0,0.4M204.9,159.2l0.2,0.2M209.7,159.2l0.4,0.1M214.7,159.1l0.3,0.0M220.1,158.7l-0.6,0.5M229.8,158.6l-0.0,0.2M235.2,158.6l-0.8,0.0M239.3,158.5l0.8,0.0M244.3,158.3l0.8,0.2M249.5,158.0l0.5,0.6M254.7,158.1l0.0,0.0M259.3,158.0l0.6,0.0M264.6,157.6l-0.0,0.5M269.6,157.7l-0.0,0.1M274.3,157.4l0.5,0.6M279.5,157.1l-0.1,0.8M284.9,157.3l-0.8,0.1M289.6,157.1l-0.3,0.4M294.4,157.1l-0.0,0.0M299.5,157.0l-0.2,0.1M304.3,156.8l0.1,0.2M323.9,156.1l0.6,0.6M353.8,155.5l0.6,0.5M359.1,155.4l-0.1,0.5M364.4,155.3l-0.7,0.3M170.3,165.5l-0.1,0.0M175.3,165.4l-0.0,0.0M180.4,164.9l-0.3,0.7M185.4,164.9l-0.3,0.6M190.2,164.8l-0.1,0.6M195.2,164.8l-0.0,0.3M200.5,164.5l-0.6,0.6M205.3,164.4l-0.3,0.6M210.0,164.3l0.1,0.5M214.9,164.4l0.4,0.1M220.1,164.1l-0.1,0.3M224.8,164.1l0.3,0.1M229.9,164.0l0.2,0.1M239.8,163.8l0.1,0.1M245.0,163.6l-0.2,0.3M249.8,163.5l0.1,0.1M260.1,163.3l-0.6,0.0M269.7,163.0l0.0,0.2M275.0,162.9l-0.6,0.2M285.0,162.7l-0.7,0.2M289.6,162.6l-0.0,0.0M294.6,162.5l-0.1,0.0M299.3,162.2l0.5,0.4M304.5,162.2l0.1,0.1M314.6,162.0l-0.4,0.0M354.3,161.0l-0.1,0.1M359.1,160.9l0.2,0.1M364.1,160.8l0.1,0.1M170.3,170.6l0.3,0.5M175.2,170.5l0.4,0.5M180.3,170.3l0.3,0.6M185.4,170.4l-0.0,0.1M190.1,170.2l0.6,0.3M195.6,170.1l-0.6,0.3M200.3,170.0l0.0,0.3M205.4,169.9l-0.4,0.2M210.5,169.8l-0.6,0.2M215.1,169.7l0.2,0.1M220.4,169.6l-0.5,0.1M225.1,169.5l0.0,0.1M230.0,169.4l0.2,0.0M235.3,168.9l-0.4,0.8M245.0,169.0l0.0,0.1M249.9,168.6l0.2,0.7M254.9,168.8l0.1,0.1M259.6,168.5l0.7,0.4M264.9,168.6l0.0,0.0M269.9,168.5l-0.1,0.0M274.8,168.1l0.1,0.4M279.9,168.1l-0.2,0.2M284.9,167.9l-0.2,0.3M289.5,167.9l0.5,0.1M295.0,167.7l-0.6,0.2M299.3,167.5l0.8,0.4M304.6,167.4l0.1,0.4M309.7,167.3l-0.2,0.4M314.9,167.1l-0.5,0.5M319.4,167.1l0.3,0.4M359.2,166.0l0.4,0.6M364.5,166.0l-0.3,0.3M170.7,176.1l-0.2,0.2M175.3,176.1l0.6,0.0M180.2,175.8l0.7,0.4M185.6,175.8l-0.1,0.0M190.5,175.7l0.0,0.0M195.7,175.5l-0.5,0.2M200.2,175.4l0.4,0.1M205.5,175.3l-0.1,0.2M210.6,175.1l-0.4,0.2M215.3,175.1l0.1,0.1M220.2,175.0l0.3,0.1M225.5,174.8l-0.4,0.3M230.0,174.6l0.4,0.4M235.0,174.3l0.5,0.6M240.2,174.5l-0.1,0.0M245.1,174.3l0.0,0.2M250.1,174.3l0.1,0.0M255.1,173.8l-0.1,0.7M260.1,173.9l0.0,0.3M265.0,173.9l0.1,0.1M270.1,173.4l-0.2,0.8M275.1,173.5l-0.2,0.4M279.8,173.3l0.3,0.5M285.2,173.1l-0.4,0.7M294.7,173.1l0.4,0.2M299.9,172.8l-0.0,0.6M304.9,172.9l-0.1,0.0M309.5,172.7l0.5,0.3M359.4,171.6l0.3,0.1M364.5,171.4l-0.0,0.3M170.8,181.3l-0.1,0.4M175.8,181.4l-0.1,0.1M180.7,181.3l-0.0,0.0M185.8,180.8l-0.3,0.7M190.6,181.0l0.2,0.2M195.7,180.5l-0.2,0.9M200.2,180.6l0.7,0.5M205.4,180.3l0.3,0.8M210.6,180.5l-0.1,0.2M215.9,180.5l-0.8,0.0M220.5,180.2l-0.1,0.2M225.8,180.1l-0.7,0.2M230.1,180.0l0.6,0.3M235.0,179.9l0.8,0.2M245.1,179.7l0.5,0.1M250.0,179.4l0.6,0.5M255.2,179.4l0.1,0.1M260.3,178.9l-0.1,0.9M265.0,179.2l0.4,0.2M270.4,178.9l-0.6,0.4M275.1,179.0l0.0,0.0M280.2,178.7l-0.2,0.4M285.3,178.4l-0.5,0.8M290.1,178.3l-0.2,0.8M295.4,178.3l-0.7,0.5M300.1,178.1l-0.2,0.6M305.1,178.0l-0.2,0.7M310.0,177.8l-0.0,0.7M359.6,176.9l-0.0,0.3M364.8,176.6l-0.4,0.5M180.6,186.4l0.6,0.6M185.9,186.4l-0.2,0.2M190.5,186.2l0.5,0.5M205.6,186.1l0.2,0.0M220.9,185.4l-0.6,0.5M225.6,185.6l0.0,0.0M230.6,185.4l-0.2,0.1M235.4,185.1l0.3,0.5M240.4,185.2l0.2,0.1M250.3,184.9l0.3,0.2M255.5,184.8l-0.3,0.0M260.6,184.6l-0.5,0.3M270.2,184.4l0.1,0.1M275.5,184.0l-0.4,0.7M280.6,184.1l-0.6,0.3M285.4,183.9l-0.3,0.4M290.6,183.8l-0.8,0.4M295.1,183.7l0.1,0.3M299.9,183.7l0.5,0.2M304.8,183.5l0.5,0.2M171.0,192.2l0.0,0.0M185.7,191.8l0.4,0.1M191.0,191.8l-0.2,0.0M195.6,191.5l0.5,0.3M200.8,191.4l0.2,0.2M220.8,190.7l-0.0,0.6M240.7,190.5l-0.0,0.2M245.4,190.1l0.5,0.7M250.8,190.1l-0.4,0.4M260.5,189.9l0.1,0.4M265.5,189.9l0.0,0.1M270.8,189.6l-0.6,0.4M280.6,189.5l-0.5,0.2M290.3,189.3l0.1,0.2M310.0,188.8l0.5,0.1M315.2,188.7l0.1,0.0M166.4,197.4l-0.3,0.6M176.5,197.2l-0.6,0.5M180.9,197.3l0.4,0.1M191.2,197.0l-0.3,0.1M220.7,196.0l0.4,0.8M226.1,196.1l-0.5,0.3M231.0,195.9l-0.4,0.4M235.9,196.0l-0.1,0.1M250.8,195.3l-0.1,0.8M260.5,195.3l0.3,0.3M265.7,194.9l-0.0,0.8M280.1,194.9l0.9,0.1M300.6,194.1l-0.4,0.7M305.1,194.3l0.7,0.1M364.7,192.8l0.6,0.1M181.2,202.6l0.3,0.2M191.3,202.4l-0.0,0.0M196.5,202.2l-0.6,0.3M211.1,201.9l-0.0,0.2M216.1,201.8l0.0,0.1M221.0,201.7l0.0,0.0M225.9,201.6l0.3,0.0M235.9,201.2l0.1,0.3M246.1,201.1l-0.3,0.1M271.2,200.4l-0.8,0.3M296.0,199.8l-0.8,0.3M300.8,199.5l-0.3,0.7M305.9,199.7l-0.7,0.0M360.0,198.2l0.5,0.3M365.6,198.1l-0.7,0.3M161.8,208.3l-0.4,0.5M176.7,208.0l-0.5,0.2M181.4,208.0l0.2,0.1M186.6,207.6l-0.5,0.6M191.3,207.8l0.2,0.0M201.3,207.2l0.1,0.7M211.3,207.1l-0.0,0.4M236.1,206.5l-0.0,0.5M246.1,206.5l-0.0,0.0M251.3,206.2l-0.5,0.3M261.0,205.8l0.0,0.7M276.0,205.6l-0.2,0.2M301.1,205.1l-0.8,0.1M360.3,203.6l0.2,0.1M156.4,213.8l0.7,0.4M161.5,213.9l0.5,0.0M172.0,213.6l-0.7,0.1M176.6,213.4l0.1,0.3M181.6,213.4l-0.1,0.1M186.7,212.9l-0.3,0.7M191.4,213.1l0.2,0.1M206.8,212.6l-0.8,0.3M216.4,212.5l-0.1,0.0M236.1,211.9l0.4,0.4M246.3,211.7l-0.2,0.2M251.0,211.3l0.3,0.7M256.3,211.5l-0.4,0.2M261.1,211.1l0.1,0.7M266.2,211.3l-0.2,0.1M271.1,211.2l-0.0,0.0M276.0,211.1l0.0,0.1M280.8,210.9l0.4,0.1M290.9,210.6l0.0,0.3M301.0,210.4l-0.1,0.1M365.5,208.9l0.1,0.0M156.6,219.3l0.6,0.1M161.9,219.2l-0.1,0.0M186.8,218.6l-0.2,0.1M191.6,218.4l0.2,0.2M206.9,217.9l-0.7,0.4M221.4,217.4l0.3,0.7M256.3,216.8l-0.1,0.2M261.4,216.6l-0.2,0.4M266.2,216.5l0.1,0.3M286.1,216.2l-0.0,0.0M162.2,224.5l-0.4,0.1M182.1,224.0l-0.4,0.2M211.7,223.2l-0.1,0.3M221.6,222.8l0.0,0.6M241.2,222.6l0.7,0.0M251.7,222.0l-0.5,0.7M256.5,222.2l-0.2,0.1M266.3,221.9l0.2,0.3M286.3,221.5l-0.0,0.1M296.4,221.1l-0.4,0.4M157.2,230.0l-0.0,0.0M196.8,229.0l0.2,0.1M206.9,228.7l-0.1,0.2M216.8,228.5l0.0,0.1M221.5,228.2l0.7,0.5M226.7,228.0l0.1,0.6M236.9,228.1l-0.4,0.0M257.0,227.5l-0.8,0.3M286.5,226.8l-0.3,0.3M191.9,234.4l0.3,0.3M197.1,234.4l-0.0,0.1M207.1,233.8l-0.1,0.6M232.2,233.4l-0.6,0.4M241.6,233.0l0.4,0.7M246.9,233.0l-0.1,0.3M271.9,232.5l-0.5,0.1M276.5,232.2l0.2,0.6M296.5,231.7l-0.0,0.6M157.5,240.6l0.0,0.1M192.1,239.5l0.4,0.8M222.2,239.0l-0.3,0.3M227.1,239.0l-0.1,0.1M231.8,238.8l0.4,0.3M236.9,238.4l0.3,0.8M257.0,238.3l-0.2,0.0M266.8,238.1l-0.0,0.0M281.5,237.4l0.6,0.5M287.0,237.5l-0.6,0.2M192.5,245.1l-0.1,0.2M197.4,245.1l-0.0,0.1M212.7,244.7l-0.8,0.0M217.1,244.4l0.4,0.5M222.3,244.0l-0.0,0.9M227.3,244.3l-0.2,0.2M232.0,244.2l0.5,0.0M237.1,244.1l0.0,0.2M242.0,244.0l0.1,0.0M247.4,243.8l-0.7,0.2M252.2,243.8l-0.2,0.0M266.9,243.1l0.1,0.7M276.9,243.1l-0.0,0.2M197.6,250.2l-0.0,0.5M276.8,248.4l0.5,0.3M282.3,248.1l-0.6,0.7M287.0,247.9l0.0,0.7M257.3,254.2l0.1,0.3M282.1,253.5l0.2,0.5M292.1,253.5l0.0,0.0M307.3,252.9l-0.6,0.4M272.4,259.3l-0.0,0.0M291.9,258.8l0.7,0.0M306.9,258.2l0.6,0.7M267.6,264.5l-0.1,0.7M287.4,264.3l0.1,0.1M317.3,263.6l-0.0,0.0M292.6,269.5l-0.1,0.0M302.5,269.3l0.0,0.1M312.4,269.0l0.1,0.1M262.8,275.6l0.1,0.1M267.7,275.4l0.4,0.1M312.9,274.1l-0.6,0.7M317.6,274.3l-0.1,0.0" stroke="#4a86c2" stroke-width="1.2" stroke-linecap="round" stroke-opacity="0.6" fill="none"/><path d="M312.0,69.8l-0.0,2.8M316.2,69.4l1.5,3.2M336.3,69.1l1.0,2.8M162.6,78.5l0.8,3.3M316.5,75.2l1.1,2.3M340.8,74.4l2.2,2.8M146.8,85.8l2.9,0.1M157.4,84.4l1.5,2.3M162.8,85.0l0.6,0.9M302.0,80.8l0.5,2.6M316.6,81.1l1.3,1.3M322.3,80.0l-0.3,3.2M352.8,79.4l-1.6,3.0M362.0,78.8l-0.0,3.6M147.9,90.2l0.9,1.8M162.5,89.9l1.6,1.7M173.1,90.0l0.3,1.1M271.9,87.6l1.4,1.0M291.9,86.0l1.3,3.4M311.2,85.7l2.3,3.0M331.4,86.1l1.7,1.2M286.9,92.7l1.6,0.8M326.3,91.2l2.3,2.0M332.0,91.2l0.9,1.7M336.8,90.6l1.2,2.6M302.1,96.5l1.2,3.2M312.1,97.2l1.2,1.4M322.5,96.6l0.3,2.2M327.0,96.5l1.1,2.0M336.1,95.9l2.9,2.7M153.5,106.4l0.5,1.3M157.5,106.2l2.4,1.4M167.2,106.5l3.0,0.4M286.8,103.1l2.4,1.5M332.2,100.9l1.1,3.7M337.4,101.1l0.5,3.0M361.9,101.4l1.2,1.3M153.1,112.2l1.7,0.4M163.3,111.6l1.1,1.1M292.3,108.1l1.7,2.0M297.7,107.9l0.7,2.1M301.7,107.5l2.6,2.7M326.4,107.1l3.0,2.2M342.2,107.1l1.2,1.5M357.4,106.6l0.6,1.8M183.7,116.3l0.4,1.5M287.8,112.9l0.9,3.2M292.5,112.7l1.4,3.4M307.3,113.4l1.7,1.3M322.3,111.9l1.5,3.6M337.2,112.2l1.5,2.2M347.6,112.1l0.6,1.9M352.5,112.3l0.8,1.4M362.5,111.6l0.8,2.2M288.4,118.1l-0.0,3.6M303.6,118.4l-0.5,2.3M327.8,117.8l0.8,2.2M332.9,117.5l0.5,2.6M337.5,117.7l1.2,1.9M342.2,117.6l1.8,1.9M188.6,126.9l1.2,1.5M258.5,124.4l0.5,3.1M307.7,124.2l1.5,1.1M312.8,124.1l1.3,1.0M322.9,123.7l1.0,1.3M327.8,123.3l1.0,1.9M178.4,132.5l1.9,1.3M228.9,130.8l0.3,2.4M302.9,129.7l1.4,1.1M308.2,128.7l0.8,2.8M318.4,129.0l0.3,1.6M188.6,137.9l1.7,0.9M298.1,134.2l1.4,2.9M328.1,133.3l1.1,3.2M267.7,141.3l2.8,0.8M303.2,140.2l1.4,1.4M358.0,139.1l1.3,1.0M234.0,147.2l0.9,1.4M307.8,144.6l2.5,2.9M323.7,145.0l0.5,1.4M328.0,145.0l1.9,1.2M322.9,150.6l2.5,1.0M179.8,158.7l0.6,2.5M198.7,158.5l2.5,1.9M224.2,158.3l1.3,1.2M308.5,156.6l1.7,0.4M313.6,155.4l1.5,2.5M318.1,155.1l2.4,3.0M233.4,163.4l3.1,1.0M254.3,162.5l1.0,2.0M264.1,161.9l1.2,2.7M280.0,161.7l-0.7,2.3M309.4,160.5l0.2,3.2M319.0,161.1l0.9,1.5M239.3,169.0l1.6,0.4M289.7,171.8l0.4,3.0M319.0,171.1l1.5,2.9M239.9,178.7l1.0,2.4M314.3,176.3l1.2,3.5M319.7,177.0l0.4,1.9M175.2,186.4l1.3,0.8M195.1,185.4l1.4,1.9M200.4,185.4l0.6,1.5M210.4,185.5l0.5,0.9M214.8,185.2l1.7,1.2M244.9,183.7l1.1,2.8M264.5,184.0l1.8,1.2M309.6,183.2l0.9,0.8M314.8,182.5l0.4,1.9M175.6,191.7l0.8,0.8M205.5,191.0l0.7,0.7M211.2,190.4l-0.8,1.7M216.2,189.7l-0.8,3.0M224.4,190.3l2.6,1.3M230.4,190.3l0.7,0.9M234.4,189.9l2.6,1.5M254.3,189.3l2.6,1.8M274.3,189.4l2.3,0.6M285.2,188.4l0.3,2.1M295.2,188.7l0.2,1.1M300.5,187.8l-0.4,2.7M304.8,188.9l1.0,0.2M185.7,196.7l0.9,1.0M195.4,196.6l1.2,0.7M201.1,195.7l-0.1,2.3M204.5,196.5l3.1,0.4M210.5,195.7l1.0,1.8M215.6,196.0l0.6,1.0M240.0,195.2l1.6,1.5M244.9,194.4l1.6,2.7M255.5,195.0l0.5,1.1M269.0,195.2l3.3,-0.0M274.9,194.2l1.4,1.7M284.0,195.0l3.1,-0.3M290.1,193.9l0.8,1.5M295.0,193.9l1.0,1.4M309.4,192.9l2.0,2.6M186.4,201.3l-0.2,2.6M201.2,201.2l-0.1,2.0M205.2,200.9l1.8,2.4M231.1,200.6l-0.2,1.7M240.9,200.4l0.2,1.7M250.8,199.9l0.1,2.1M255.4,200.2l0.8,1.4M260.5,199.3l0.6,3.0M264.9,200.1l1.7,1.0M274.9,199.8l1.7,1.3M279.4,199.4l2.7,1.8M284.6,199.9l2.2,0.6M290.6,198.9l0.1,2.3M156.1,208.4l1.0,0.6M194.7,207.8l3.3,-0.2M205.5,205.9l1.5,3.0M215.7,206.8l1.0,0.7M220.4,206.7l1.6,0.8M225.6,205.4l1.2,3.1M230.9,206.2l0.5,1.2M239.7,206.6l2.7,0.0M255.2,205.7l1.6,1.1M264.7,204.9l2.5,2.2M271.0,205.1l-0.3,1.5M279.9,204.2l1.9,2.8M285.8,204.4l0.1,2.2M290.3,204.7l1.0,1.4M295.4,204.6l0.8,1.3M364.6,202.6l1.5,1.9M166.0,213.7l1.3,0.2M195.7,212.3l1.7,1.4M201.1,212.5l0.8,0.9M210.3,211.9l2.1,1.5M221.0,211.9l0.7,1.0M225.2,211.2l2.3,2.3M230.5,211.4l1.5,1.5M240.7,211.2l1.0,1.5M285.3,210.3l1.4,1.0M295.0,209.3l1.8,2.6M166.4,218.1l0.8,2.0M181.1,218.3l1.2,0.8M196.4,217.8l0.6,1.2M200.8,217.0l1.6,2.6M210.7,216.8l1.6,2.4M215.7,216.5l1.6,2.7M225.6,216.8l1.7,1.7M230.6,216.5l1.6,2.0M236.6,215.9l-0.4,3.1M240.5,216.4l1.8,1.9M245.9,216.1l0.9,2.1M250.4,216.1l1.9,1.8M270.2,216.5l2.0,0.1M275.7,216.1l1.0,0.6M280.9,215.4l0.5,1.8M295.0,214.5l2.2,2.8M156.7,224.2l0.7,0.9M186.2,222.5l1.3,2.9M191.3,223.8l1.1,0.1M195.7,223.4l2.2,0.7M200.9,223.0l1.8,1.2M206.5,223.0l0.5,1.0M216.0,222.8l1.3,0.8M226.1,222.8l0.9,0.4M231.2,222.2l0.8,1.3M236.5,222.1l0.1,1.3M246.5,221.7l0.1,1.7M260.1,221.8l2.5,0.7M271.1,221.2l0.5,1.4M275.2,220.7l2.2,2.2M280.4,220.3l1.8,2.6M290.1,219.9l2.3,3.0M191.1,228.5l1.7,1.5M201.4,227.5l1.0,3.0M212.7,227.6l-1.8,2.2M231.1,227.9l1.2,0.6M240.5,227.7l2.3,0.5M246.3,227.2l0.8,1.4M250.9,227.4l1.4,0.7M260.8,226.7l1.6,1.6M265.8,226.8l1.6,1.2M271.3,225.7l0.4,3.0M275.1,227.6l2.8,-0.9M280.0,227.1l3.0,-0.1M290.5,225.1l1.7,3.4M202.1,233.6l-0.0,1.3M211.0,233.5l2.0,1.1M216.7,232.6l0.5,2.6M221.5,233.5l0.9,0.6M226.6,233.2l0.7,0.9M236.3,232.7l1.1,1.5M251.7,232.3l0.0,1.6M255.8,232.0l1.8,1.9M261.4,232.2l0.7,1.3M265.3,232.1l2.8,1.3M281.0,231.5l1.2,1.8M285.4,231.7l2.4,1.1M291.3,231.1l0.5,2.0M196.9,238.7l0.6,2.0M201.7,238.8l1.0,1.7M206.1,238.9l2.2,1.2M211.3,239.1l1.8,0.6M216.3,238.3l1.7,1.9M241.2,238.5l1.6,0.3M245.8,238.0l2.4,1.2M250.7,237.5l2.4,1.9M261.4,236.6l1.0,3.1M271.0,236.8l1.6,2.4M275.5,237.1l2.6,1.5M290.9,236.2l1.5,2.6M201.0,244.2l2.6,1.6M206.9,243.6l0.8,2.6M256.2,244.0l1.6,-0.8M261.3,243.1l1.4,1.0M271.2,242.7l1.6,1.1M281.4,242.3l1.0,1.5M285.9,241.5l1.9,2.8M296.2,241.6l1.2,2.3M300.2,242.5l3.2,0.2M306.5,241.4l0.4,2.1M251.5,248.1l1.5,2.1M256.6,248.1l1.2,1.9M261.3,247.9l1.6,1.9M266.5,248.5l1.3,0.5M271.4,248.2l1.5,0.9M296.5,247.0l1.0,2.0M300.7,247.1l2.4,1.6M306.3,246.7l1.1,2.1M311.4,246.9l0.9,1.5M271.4,252.7l1.7,2.5M276.5,252.6l1.4,2.5M286.4,251.7l1.4,3.8M296.7,252.0l0.8,2.7M301.3,251.4l1.6,3.7M311.0,252.0l2.1,2.1M262.2,258.6l0.5,2.0M267.1,257.9l0.7,3.1M276.6,258.1l1.5,2.2M282.4,257.4l-0.1,3.4M287.7,258.0l-0.9,2.0M297.2,256.7l-0.0,4.0M301.9,257.4l0.7,2.5M312.3,257.6l-0.2,1.4M316.6,257.3l1.0,1.9M261.5,263.2l2.2,3.5M272.1,263.6l0.9,2.2M277.0,263.8l1.1,1.5M281.4,263.2l2.2,2.5M297.2,263.0l0.3,2.2M301.9,262.7l1.0,2.6M312.0,261.9l0.6,3.6M262.7,269.1l-0.0,2.3M267.1,269.2l1.1,1.9M277.5,268.9l0.3,2.0M282.7,268.3l-0.1,3.0M297.2,268.0l0.7,2.8M306.4,268.1l2.1,2.1M317.7,267.4l-0.6,3.1M272.4,274.0l0.9,2.8M286.7,273.4l2.1,3.3M292.0,273.2l1.3,3.4M297.3,273.5l0.8,2.5M302.2,272.6l0.9,4.1" stroke="#94c6e6" stroke-width="1.0" stroke-linecap="round" stroke-opacity="0.75" fill="none"/></g><use href="#fg"/></g>
<g transform="translate(656.0,252.0)"><use href="#base"/><g clip-path="url(#axclip)"><path d="M237.1,72.8l0.5,0.2M242.6,72.7l-0.5,0.3M247.4,72.6l-0.1,0.2M252.2,72.4l0.2,0.3M257.1,72.3l0.2,0.3M262.4,72.1l-0.3,0.4M266.9,72.2l0.7,0.0M272.4,72.0l-0.4,0.2M277.2,72.0l-0.0,0.0M282.3,71.7l-0.4,0.4M287.3,71.4l-0.4,0.8M291.9,71.5l0.3,0.3M307.2,71.2l-0.4,0.2M311.8,70.8l0.3,0.7M326.9,70.7l-0.0,0.2M336.8,70.3l-0.0,0.5M341.6,70.3l0.4,0.2M356.8,70.0l-0.2,0.2M361.7,69.9l-0.0,0.0M148.2,80.3l-0.2,0.3M153.1,80.2l-0.2,0.4M157.7,80.1l0.5,0.3M163.0,80.0l-0.1,0.1M172.9,79.9l-0.1,0.0M178.1,79.5l-0.4,0.6M182.8,79.6l0.0,0.0M188.1,79.4l-0.5,0.3M192.8,79.3l-0.1,0.2M197.8,79.0l-0.1,0.4M202.4,79.0l0.6,0.3M207.8,78.9l-0.1,0.2M212.8,78.5l-0.2,0.7M217.4,78.8l0.4,0.0M222.9,78.5l-0.6,0.4M227.6,78.5l-0.1,0.0M232.4,78.4l0.3,0.1M237.5,78.2l0.1,0.1M242.5,78.1l0.0,0.2M247.5,78.1l-0.0,0.0M252.7,77.7l-0.4,0.5M257.3,77.8l0.1,0.0M262.4,77.7l-0.0,0.0M267.0,77.5l0.8,0.3M272.2,77.1l0.3,0.6M277.2,77.3l0.2,0.0M282.3,77.2l0.0,0.1M287.3,76.9l-0.1,0.4M292.2,76.9l-0.1,0.2M297.1,76.7l0.2,0.4M307.2,76.6l-0.2,0.1M312.1,76.3l-0.1,0.3M326.7,75.8l0.6,0.7M332.1,75.8l-0.2,0.4M356.9,75.3l-0.1,0.2M361.5,75.2l0.7,0.1M148.3,85.8l-0.1,0.1M157.8,85.4l0.7,0.4M163.3,85.4l-0.4,0.0M168.1,85.2l-0.0,0.2M173.0,84.8l0.1,0.8M177.7,85.0l0.6,0.2M183.1,84.8l-0.2,0.3M187.9,84.8l0.1,0.2M193.3,84.5l-0.8,0.4M198.2,84.6l-0.5,0.1M202.9,84.5l-0.0,0.0M208.0,84.0l-0.2,0.8M212.9,84.2l-0.1,0.2M217.8,84.0l-0.0,0.3M222.6,83.8l0.3,0.3M227.8,83.8l-0.1,0.1M233.0,83.7l-0.6,0.2M237.9,83.5l-0.4,0.4M242.9,83.5l-0.5,0.1M247.4,83.0l0.5,0.7M252.6,83.3l0.1,0.0M257.3,83.0l0.6,0.3M262.4,83.0l0.2,0.2M267.5,82.9l0.0,0.0M272.3,82.6l0.4,0.3M277.5,82.4l-0.1,0.5M282.0,82.5l0.9,0.2M292.3,82.0l0.2,0.7M297.5,81.9l-0.3,0.5M302.6,82.0l-0.5,0.1M307.4,81.9l-0.2,0.1M312.3,81.6l-0.1,0.4M317.4,81.7l-0.4,0.1M322.1,81.6l0.1,0.1M332.5,81.1l-0.7,0.5M342.1,81.1l-0.0,0.0M346.8,80.9l0.6,0.3M352.1,80.9l-0.2,0.0M357.3,80.5l-0.6,0.5M361.9,80.4l0.0,0.5M153.5,90.8l-0.3,0.5M168.5,90.5l-0.5,0.3M173.2,90.2l0.1,0.8M178.3,90.2l-0.2,0.5M183.3,90.0l-0.3,0.7M188.3,89.9l-0.4,0.7M193.3,89.7l-0.3,0.8M197.8,89.7l0.6,0.5M207.8,89.6l0.4,0.1M212.8,89.6l0.4,0.0M218.2,89.4l-0.6,0.1M223.1,88.9l-0.3,0.8M228.0,89.0l-0.2,0.5M233.0,89.0l-0.4,0.3M237.8,88.9l0.1,0.3M242.7,88.7l0.1,0.3M247.6,88.6l0.3,0.3M253.0,88.3l-0.5,0.6M257.7,88.5l0.1,0.0M262.7,88.4l0.0,0.0M267.8,88.1l-0.3,0.3M272.8,88.0l-0.3,0.3M277.8,87.9l-0.3,0.3M282.6,87.8l-0.1,0.2M292.5,87.5l0.1,0.3M297.4,87.4l0.1,0.2M307.6,87.2l-0.4,0.3M312.5,87.0l-0.2,0.4M317.3,87.0l0.0,0.2M327.5,86.8l-0.3,0.1M342.5,86.2l-0.6,0.4M347.1,86.3l0.1,0.1M352.6,86.2l-0.8,0.1M357.0,85.9l0.3,0.4M148.5,96.5l0.1,0.1M158.3,95.9l0.2,0.8M163.3,96.0l0.3,0.2M168.5,95.7l-0.2,0.7M173.4,95.8l-0.1,0.2M178.0,95.6l0.6,0.4M183.6,95.4l-0.5,0.4M188.0,95.4l0.5,0.4M193.1,95.2l0.2,0.5M198.1,94.9l0.2,0.8M203.4,95.1l-0.4,0.1M208.3,94.9l-0.2,0.3M213.3,94.9l-0.4,0.2M217.9,94.8l0.4,0.1M223.0,94.7l0.1,0.0M228.2,94.4l-0.4,0.3M233.0,94.5l-0.0,0.0M237.8,94.2l0.3,0.2M243.0,94.0l-0.0,0.5M247.9,94.0l0.1,0.1M252.5,93.8l0.7,0.3M257.9,93.8l-0.0,0.1M262.9,93.7l-0.1,0.0M267.8,93.3l0.0,0.7M273.1,93.4l-0.7,0.3M277.6,93.2l0.4,0.3M282.7,93.1l0.1,0.2M287.5,93.1l0.3,0.1M297.5,92.7l0.2,0.3M302.6,92.6l-0.1,0.3M307.3,92.6l0.5,0.1M312.5,92.1l0.1,0.9M327.4,92.1l0.1,0.1M332.7,91.9l-0.6,0.3M342.3,91.7l0.0,0.3M347.5,91.6l-0.3,0.2M352.6,91.3l-0.6,0.6M362.1,91.2l0.4,0.2M148.6,101.8l0.1,0.2M153.6,101.5l0.1,0.4M158.8,101.5l-0.4,0.2M163.5,101.3l0.2,0.4M168.8,101.2l-0.5,0.3M173.3,101.0l0.4,0.6M178.5,101.1l0.0,0.1M183.3,100.8l0.3,0.4M188.3,100.8l0.3,0.2M193.5,100.7l-0.2,0.1M198.4,100.6l-0.2,0.2M203.6,100.5l-0.5,0.1M208.3,100.1l-0.1,0.6M213.4,100.2l-0.3,0.2M218.1,100.1l0.2,0.1M223.5,99.9l-0.6,0.2M228.6,99.9l-0.8,0.1M233.2,99.7l-0.1,0.2M237.8,99.6l0.6,0.2M243.0,99.5l0.2,0.1M248.0,99.4l0.0,0.1M252.9,99.0l0.3,0.7M257.9,99.1l0.1,0.2M263.1,99.1l-0.2,0.0M268.3,98.9l-0.7,0.0M272.9,98.7l0.0,0.3M277.5,98.5l0.7,0.4M282.4,98.5l0.9,0.1M298.0,98.2l-0.5,0.0M312.7,97.8l-0.0,0.1M317.8,97.7l-0.4,0.2M322.6,97.6l-0.0,0.0M327.6,97.4l0.0,0.2M342.7,97.1l-0.4,0.0M352.6,96.8l-0.3,0.2M357.4,96.6l0.1,0.4M362.1,96.6l0.5,0.1M148.6,107.0l0.5,0.4M153.6,107.0l0.3,0.1M163.4,106.7l0.7,0.3M168.8,106.7l-0.1,0.1M173.7,106.5l-0.1,0.2M178.3,106.5l0.6,0.0M183.5,106.3l0.1,0.1M188.3,106.0l0.4,0.5M193.8,105.8l-0.6,0.6M198.4,105.7l0.2,0.5M203.0,105.8l0.9,0.2M208.3,105.7l0.3,0.0M213.4,105.6l-0.0,0.1M223.2,105.4l0.3,0.0M228.1,104.9l0.4,0.7M233.2,104.8l0.1,0.6M238.1,104.7l0.3,0.6M243.6,104.7l-0.7,0.4M248.2,104.7l0.1,0.2M253.0,104.6l0.3,0.1M258.1,104.5l0.1,0.2M263.2,104.3l-0.1,0.3M268.3,104.2l-0.4,0.3M273.0,103.9l0.2,0.7M278.1,103.8l-0.1,0.5M282.8,103.8l0.4,0.4M302.6,103.3l0.5,0.3M307.8,103.3l0.1,0.0M312.8,103.2l0.1,0.0M322.7,103.0l0.1,0.0M327.8,102.5l-0.2,0.7M332.7,102.4l-0.1,0.8M337.4,102.5l0.5,0.2M342.4,102.3l0.6,0.4M347.6,102.2l0.0,0.4M352.7,102.3l-0.1,0.0M362.5,101.7l-0.0,0.6M148.6,112.5l0.7,0.1M158.9,112.3l-0.0,0.0M163.6,112.1l0.5,0.2M169.0,111.9l-0.3,0.4M178.6,111.8l0.2,0.1M183.7,111.7l-0.0,0.0M188.4,111.5l0.6,0.1M193.7,111.5l-0.0,0.0M198.8,111.2l-0.3,0.3M203.5,111.1l0.3,0.2M208.3,110.8l0.6,0.6M213.7,110.9l-0.2,0.1M218.4,110.8l0.2,0.1M223.9,110.7l-0.8,0.0M228.3,110.6l0.4,0.1M233.6,110.3l-0.4,0.3M238.6,110.1l-0.4,0.6M243.0,110.1l0.7,0.4M248.4,109.7l-0.1,0.9M253.2,109.9l0.2,0.1M257.9,109.9l0.9,0.0M262.9,109.8l0.7,0.0M273.3,109.4l-0.2,0.3M278.4,109.1l-0.5,0.7M283.2,109.3l-0.2,0.0M288.2,108.8l-0.2,0.7M293.1,108.9l0.0,0.3M298.2,108.9l-0.3,0.0M303.2,108.8l-0.2,0.0M308.0,108.5l0.0,0.4M312.9,108.5l0.1,0.2M332.6,107.8l0.6,0.6M363.0,107.1l-0.7,0.6M149.3,117.7l-0.4,0.3M154.2,117.3l-0.2,0.9M158.6,117.5l0.8,0.3M164.1,117.5l-0.3,0.0M168.9,117.4l0.1,0.1M174.0,117.3l-0.1,0.0M178.6,116.9l0.7,0.5M188.8,116.6l0.2,0.6M193.7,116.7l0.2,0.2M198.8,116.5l0.1,0.3M203.9,116.4l-0.2,0.4M208.5,116.4l0.4,0.1M213.7,116.2l0.1,0.2M218.7,115.9l-0.0,0.7M223.6,116.0l0.1,0.2M229.0,115.8l-0.8,0.3M233.5,115.8l0.1,0.0M238.4,115.6l0.3,0.3M243.6,115.4l-0.2,0.3M253.5,115.3l-0.1,0.2M258.5,115.2l-0.0,0.0M263.6,114.9l-0.4,0.4M268.6,114.7l-0.3,0.7M273.2,114.6l0.4,0.5M278.1,114.6l0.4,0.2M283.0,114.5l0.6,0.2M318.2,113.7l-0.3,0.2M323.1,113.6l-0.0,0.2M328.4,113.4l-0.8,0.4M337.7,113.3l0.6,0.0M352.9,112.8l-0.1,0.4M362.8,112.7l0.1,0.1M149.2,123.0l0.0,0.5M154.5,122.9l-0.5,0.5M159.4,122.8l-0.5,0.3M164.3,122.7l-0.3,0.3M169.1,122.7l0.1,0.2M174.0,122.6l0.3,0.0M178.7,122.5l0.8,0.0M184.1,122.1l-0.2,0.7M189.0,122.3l-0.0,0.0M193.9,121.9l0.1,0.5M198.9,122.0l0.1,0.1M203.7,121.6l0.5,0.6M208.9,121.7l-0.1,0.2M213.9,121.5l-0.0,0.4M219.2,121.5l-0.8,0.2M223.5,121.3l0.5,0.3M228.3,121.3l0.9,0.0M233.6,121.0l0.3,0.3M238.9,121.0l-0.3,0.1M243.8,120.8l-0.3,0.3M248.8,120.6l-0.3,0.5M253.6,120.7l0.1,0.0M258.6,120.5l0.0,0.2M263.5,120.3l0.2,0.3M268.1,120.3l0.8,0.1M273.6,120.1l-0.1,0.3M278.1,120.0l0.7,0.2M283.3,119.8l0.2,0.4M288.5,119.5l-0.2,0.7M293.6,119.6l-0.4,0.3M303.4,119.5l-0.2,0.1M308.1,119.3l0.5,0.1M313.4,119.2l-0.2,0.2M318.2,119.1l0.1,0.0M323.2,118.8l-0.0,0.5M328.2,118.8l-0.1,0.1M338.4,118.5l-0.5,0.3M343.0,118.4l0.3,0.3M149.0,128.4l0.7,0.4M154.5,128.4l-0.2,0.1M159.4,128.1l-0.1,0.5M164.0,128.1l0.6,0.2M169.2,128.1l0.1,0.0M174.1,127.6l0.3,0.7M179.0,127.6l0.4,0.6M184.2,127.4l-0.1,0.7M189.5,127.5l-0.6,0.1M194.3,127.4l-0.4,0.2M199.2,127.3l-0.2,0.2M204.4,127.2l-0.6,0.1M209.2,127.1l-0.3,0.1M213.7,126.7l0.7,0.6M219.0,126.9l-0.0,0.0M224.2,126.7l-0.6,0.2M228.9,126.6l0.0,0.1M233.8,126.5l0.1,0.1M243.9,126.1l-0.1,0.4M248.8,126.1l-0.0,0.1M254.1,125.8l-0.5,0.6M258.5,125.8l0.4,0.4M264.0,125.6l-0.5,0.3M269.1,125.5l-0.8,0.4M273.5,125.5l0.2,0.1M278.7,125.3l-0.1,0.3M283.5,124.9l0.1,0.9M288.6,125.1l-0.1,0.2M303.3,124.7l0.4,0.3M313.3,124.6l0.2,0.0M318.4,124.3l0.1,0.3M323.2,124.2l0.3,0.4M333.6,123.9l-0.6,0.4M363.2,123.4l-0.2,0.1M164.2,133.4l0.5,0.4M169.8,133.4l-0.8,0.1M174.5,133.2l-0.1,0.2M179.2,132.9l0.4,0.6M184.1,132.8l0.5,0.5M189.3,132.9l0.0,0.0M194.3,132.8l-0.1,0.1M199.1,132.5l0.3,0.5M204.1,132.4l0.3,0.5M208.8,132.3l0.8,0.4M214.0,132.3l0.4,0.1M218.9,132.2l0.5,0.1M224.1,132.0l-0.0,0.2M229.3,132.0l-0.5,0.0M233.8,131.7l0.4,0.3M238.8,131.8l0.5,0.0M243.9,131.4l0.2,0.5M249.2,131.5l-0.5,0.1M254.2,131.4l-0.6,0.1M263.9,131.0l-0.1,0.4M268.8,130.8l0.1,0.4M274.0,130.7l-0.5,0.5M278.5,130.7l0.5,0.2M283.8,130.6l-0.0,0.2M293.6,130.4l0.1,0.2M298.5,130.2l0.2,0.2M313.5,129.9l0.0,0.2M318.5,129.6l0.1,0.4M323.6,129.5l-0.1,0.5M333.3,129.4l0.3,0.1M363.4,128.7l-0.2,0.1M169.7,138.4l-0.2,0.8M174.3,138.6l0.5,0.2M179.5,138.5l0.1,0.0M184.5,138.3l0.0,0.2M189.5,138.3l-0.1,0.0M194.4,138.1l0.0,0.1M199.4,138.1l-0.0,0.0M204.3,137.7l0.0,0.5M209.6,137.7l-0.5,0.3M214.1,137.4l0.5,0.6M219.2,137.2l0.2,0.8M224.4,137.3l-0.3,0.3M229.3,136.9l-0.2,0.9M234.1,137.2l0.3,0.1M239.2,136.8l-0.1,0.7M244.3,136.9l-0.3,0.2M249.0,136.8l0.1,0.1M254.5,136.7l-0.8,0.1M259.3,136.5l-0.4,0.2M264.0,136.4l0.1,0.1M269.1,136.4l-0.2,0.0M273.9,136.1l0.2,0.3M299.0,135.3l-0.3,0.6M304.0,135.2l-0.4,0.6M314.0,135.2l-0.5,0.1M323.8,135.0l-0.3,0.1M328.8,134.8l-0.4,0.2M363.5,134.1l-0.2,0.1M169.7,144.1l0.0,0.0M174.5,143.8l0.4,0.5M179.6,143.8l0.1,0.2M184.4,143.4l0.5,0.7M189.6,143.5l0.1,0.4M194.2,143.4l0.8,0.2M199.6,143.2l-0.1,0.5M204.6,143.3l-0.2,0.1M209.5,143.1l0.0,0.1M214.4,143.0l0.0,0.0M219.3,142.8l0.2,0.3M224.6,142.6l-0.3,0.4M229.2,142.3l0.4,0.7M234.3,142.5l0.0,0.1M239.4,142.3l-0.3,0.4M244.3,142.0l-0.1,0.6M249.3,142.2l-0.0,0.0M254.1,141.9l0.2,0.4M259.2,141.8l-0.1,0.2M264.2,141.4l-0.1,0.8M269.1,141.7l0.0,0.1M274.1,141.6l-0.1,0.0M279.1,141.4l-0.1,0.3M283.7,141.3l0.7,0.1M289.2,140.9l-0.4,0.7M294.0,141.0l0.1,0.2M298.8,140.9l0.4,0.3M303.8,140.9l0.3,0.0M323.7,140.3l0.1,0.3M358.6,139.3l0.1,0.4M363.6,139.4l-0.1,0.1M169.8,149.3l0.2,0.4M175.0,149.2l-0.3,0.3M180.1,149.2l-0.7,0.1M184.6,149.0l0.3,0.2M190.1,148.8l-0.7,0.4M194.9,148.6l-0.3,0.5M199.7,148.6l-0.1,0.3M204.7,148.2l0.0,0.9M209.8,148.4l-0.2,0.2M214.2,148.2l0.8,0.3M219.5,148.3l0.1,0.0M224.4,147.7l0.2,0.8M229.6,148.0l-0.2,0.1M234.7,147.7l-0.5,0.4M239.6,147.6l-0.3,0.4M244.4,147.6l0.1,0.1M249.5,147.5l-0.1,0.1M254.6,147.1l-0.5,0.7M259.6,147.1l-0.5,0.3M264.7,147.1l-0.8,0.2M269.4,146.9l-0.1,0.3M274.2,146.8l0.1,0.4M279.1,146.7l0.2,0.2M284.3,146.6l-0.1,0.3M289.5,146.5l-0.6,0.1M298.9,146.3l0.5,0.1M304.0,146.2l0.2,0.0M314.3,146.0l-0.6,0.0M318.7,145.7l0.5,0.3M364.0,144.7l-0.5,0.2M170.1,154.8l-0.1,0.0M175.0,154.5l-0.1,0.3M180.1,154.3l-0.2,0.6M184.8,154.1l0.2,0.8M190.0,154.3l-0.1,0.1M195.3,154.1l-0.9,0.3M199.6,153.9l0.5,0.4M204.7,153.8l0.2,0.4M210.0,153.9l-0.4,0.0M214.7,153.6l0.0,0.2M219.8,153.4l-0.1,0.3M224.3,153.3l0.7,0.5M230.0,153.4l-0.7,0.0M234.6,152.9l-0.0,0.7M239.7,153.1l-0.1,0.1M244.7,153.0l-0.3,0.0M249.5,152.9l-0.0,0.0M254.3,152.5l0.3,0.6M259.7,152.5l-0.4,0.4M264.3,152.5l0.3,0.1M274.4,152.1l-0.1,0.4M279.1,152.1l0.6,0.1M284.4,151.8l-0.2,0.6M289.4,151.8l-0.3,0.3M294.0,151.7l0.6,0.2M299.2,151.3l0.2,0.7M304.2,151.5l0.0,0.1M309.2,151.1l0.0,0.7M313.9,151.0l0.5,0.6M318.9,151.1l0.5,0.2M359.3,150.2l-0.8,0.1M363.6,150.0l0.5,0.3M170.0,160.1l0.4,0.1M175.1,159.8l0.1,0.4M180.0,159.8l0.2,0.2M184.8,159.6l0.5,0.4M189.8,159.6l0.6,0.1M195.1,159.4l-0.2,0.4M200.3,159.4l-0.6,0.1M205.4,159.2l-0.8,0.3M210.3,159.0l-0.7,0.3M215.0,158.8l-0.2,0.5M219.8,158.9l0.1,0.1M224.8,158.8l0.2,0.0M229.5,158.7l0.6,0.0M234.9,158.6l-0.2,0.1M239.7,158.1l0.1,0.7M244.8,158.3l-0.2,0.1M250.0,158.1l-0.7,0.3M255.0,157.9l-0.6,0.4M259.7,158.0l-0.0,0.0M264.7,157.8l-0.1,0.1M269.6,157.8l-0.1,0.0M274.3,157.6l0.5,0.1M279.1,157.3l0.8,0.4M284.3,157.2l0.3,0.4M289.6,157.0l-0.4,0.5M294.4,157.0l0.1,0.3M299.4,156.7l0.1,0.8M304.1,156.7l0.5,0.3M309.6,156.4l-0.4,0.7M314.3,156.6l0.0,0.3M354.1,155.6l-0.1,0.2M359.2,155.4l-0.2,0.4M363.9,155.4l0.2,0.2M170.6,165.4l-0.6,0.2M175.1,165.3l0.3,0.2M180.3,165.3l-0.1,0.0M185.3,165.1l-0.1,0.1M190.2,165.0l0.0,0.0M194.9,164.8l0.6,0.2M200.2,164.7l-0.1,0.1M205.3,164.6l-0.4,0.2M210.1,164.5l0.0,0.1M214.9,164.0l0.4,0.8M219.9,164.2l0.2,0.1M224.7,164.1l0.5,0.1M234.6,163.8l0.7,0.3M239.9,163.5l-0.0,0.7M244.8,163.6l0.1,0.2M249.8,163.4l-0.0,0.4M254.7,163.4l0.2,0.2M259.6,163.1l0.4,0.6M264.9,163.2l-0.3,0.1M269.7,163.1l0.0,0.1M280.1,162.8l-0.9,0.2M284.5,162.6l0.2,0.4M290.0,162.4l-0.7,0.4M294.9,162.4l-0.6,0.3M299.9,162.1l-0.7,0.6M304.5,162.2l0.1,0.1M314.5,161.9l0.0,0.3M324.8,161.7l-0.8,0.1M354.3,160.9l-0.2,0.2M359.5,160.7l-0.7,0.5M364.2,160.6l0.0,0.4M170.6,170.5l-0.4,0.6M175.6,170.7l-0.3,0.1M180.2,170.5l0.3,0.3M185.4,170.5l-0.0,0.0M195.3,170.2l-0.1,0.0M200.0,170.1l0.6,0.1M205.1,169.9l0.3,0.1M210.2,169.7l0.1,0.4M215.2,169.7l-0.0,0.2M220.4,169.3l-0.5,0.6M225.5,169.5l-0.7,0.2M230.0,169.3l0.2,0.3M234.9,169.1l0.3,0.4M240.3,169.0l-0.5,0.3M245.0,169.0l-0.1,0.0M250.3,168.8l-0.7,0.3M255.2,168.6l-0.4,0.5M259.7,168.5l0.5,0.4M264.9,168.6l0.0,0.0M270.2,168.3l-0.7,0.4M275.0,168.0l-0.3,0.7M279.8,168.2l0.0,0.0M284.5,167.8l0.6,0.6M289.7,168.0l0.0,0.0M294.7,167.8l-0.0,0.0M299.7,167.6l0.0,0.2M309.8,167.5l-0.3,0.0M314.6,167.2l-0.0,0.3M359.3,166.1l0.1,0.4M364.3,165.9l0.1,0.6M170.2,176.2l0.9,0.0M175.5,175.8l0.2,0.6M180.6,176.0l-0.0,0.0M185.6,175.4l-0.1,0.9M190.5,175.6l-0.0,0.3M195.5,175.2l-0.1,0.7M200.5,175.2l-0.1,0.5M205.4,175.4l0.0,0.0M210.6,175.0l-0.4,0.6M215.5,175.1l-0.3,0.0M220.3,175.0l-0.1,0.0M225.3,174.7l0.0,0.3M230.2,174.8l0.1,0.0M235.1,174.6l0.3,0.1M240.3,174.5l-0.2,0.0M245.2,174.4l-0.0,0.0M250.3,173.9l-0.4,0.7M255.4,173.9l-0.5,0.6M260.2,173.9l-0.3,0.3M265.3,173.6l-0.4,0.7M270.0,173.7l0.0,0.1M274.8,173.6l0.4,0.2M279.7,173.5l0.5,0.1M285.2,173.3l-0.5,0.3M289.9,173.2l0.0,0.3M294.9,173.2l0.0,0.0M300.1,172.8l-0.5,0.6M305.0,172.7l-0.3,0.5M310.0,172.5l-0.4,0.7M359.6,171.4l-0.3,0.5M364.7,171.3l-0.5,0.4M170.9,181.3l-0.3,0.5M175.9,181.0l-0.3,0.8M180.7,181.3l-0.0,0.0M185.5,180.9l0.3,0.5M190.7,180.7l-0.1,0.7M195.6,180.9l-0.1,0.2M200.6,180.8l0.0,0.0M205.5,180.6l0.1,0.1M210.7,180.4l-0.4,0.3M215.5,180.5l-0.1,0.0M220.6,180.3l-0.3,0.0M225.4,180.2l-0.0,0.1M230.4,180.1l0.0,0.0M235.3,180.0l0.2,0.0M240.6,179.7l-0.6,0.4M245.3,179.6l-0.0,0.4M250.7,179.5l-0.8,0.2M255.3,179.2l0.0,0.6M260.0,179.3l0.4,0.2M265.1,179.0l0.1,0.6M270.2,179.1l-0.1,0.1M275.5,178.9l-0.7,0.3M280.1,178.8l-0.0,0.1M285.1,178.7l-0.1,0.1M290.0,178.7l0.1,0.0M295.1,178.5l-0.2,0.0M300.0,178.4l0.1,0.0M304.9,178.3l0.1,0.1M310.2,178.1l-0.6,0.3M359.7,176.9l-0.0,0.1M364.6,176.5l0.1,0.7M180.8,186.6l0.0,0.0M185.7,186.4l0.2,0.3M190.8,186.0l0.0,0.8M230.8,185.4l-0.5,0.0M240.1,185.2l0.7,0.0M245.6,184.8l-0.3,0.7M250.3,184.8l0.2,0.3M255.3,184.8l0.3,0.0M260.4,184.7l-0.0,0.0M265.7,184.4l-0.6,0.4M275.1,184.4l0.4,0.0M285.3,184.1l-0.1,0.1M290.2,183.9l0.0,0.2M295.5,183.8l-0.6,0.2M300.2,183.7l-0.1,0.1M305.3,183.6l-0.3,0.0M310.1,183.5l-0.1,0.1M171.4,192.2l-0.7,0.1M176.0,192.1l-0.0,0.1M185.6,191.7l0.6,0.4M191.2,191.7l-0.5,0.1M211.0,190.9l-0.3,0.7M215.9,191.1l-0.2,0.1M220.7,191.0l0.1,0.1M245.7,190.0l-0.1,0.9M250.9,190.0l-0.6,0.6M260.3,190.0l0.5,0.2M275.0,189.7l0.9,0.0M285.5,189.3l-0.2,0.3M166.3,197.7l-0.2,0.1M176.3,197.2l-0.2,0.6M181.1,197.3l-0.0,0.0M186.2,197.1l-0.1,0.3M190.9,197.1l0.4,0.1M196.2,196.8l-0.2,0.4M201.1,196.8l-0.1,0.2M206.2,196.6l-0.4,0.3M220.8,196.1l0.1,0.6M226.1,196.2l-0.5,0.2M236.2,196.0l-0.7,0.1M250.8,195.5l-0.1,0.4M290.5,194.7l-0.1,0.1M295.3,194.6l0.3,0.0M300.4,194.5l0.2,0.0M365.0,192.6l0.0,0.6M186.0,202.4l0.5,0.3M191.2,202.4l0.1,0.1M196.3,202.1l-0.1,0.4M206.3,202.0l-0.2,0.1M211.4,201.8l-0.6,0.4M221.1,201.7l-0.0,0.1M225.9,201.5l0.2,0.3M231.4,201.4l-0.8,0.1M236.0,201.2l-0.0,0.3M241.3,201.2l-0.7,0.1M250.6,200.9l0.6,0.3M255.5,200.8l0.7,0.1M260.7,200.8l0.2,0.0M285.7,200.1l-0.0,0.0M300.9,199.8l-0.5,0.1M305.4,199.5l0.3,0.3M360.3,197.9l-0.2,0.8M365.1,198.2l0.3,0.1M157.0,208.5l-0.8,0.3M161.4,208.5l0.3,0.1M176.2,207.9l0.6,0.6M186.7,207.8l-0.6,0.3M191.6,207.7l-0.4,0.1M206.3,207.4l-0.1,0.1M211.0,207.3l0.5,0.1M221.3,207.0l-0.2,0.1M240.9,206.4l0.3,0.3M245.9,206.3l0.3,0.4M256.3,206.1l-0.5,0.3M266.1,205.8l-0.3,0.5M271.0,205.7l-0.1,0.4M275.7,205.7l0.3,0.1M290.6,205.3l0.3,0.1M360.3,203.4l0.1,0.6M365.7,203.4l-0.7,0.3M161.8,213.9l-0.2,0.0M166.7,213.7l-0.0,0.0M171.9,213.6l-0.5,0.0M191.5,212.9l-0.0,0.4M196.6,212.9l-0.1,0.2M211.3,212.4l0.2,0.5M221.4,212.1l-0.1,0.6M226.5,212.1l-0.3,0.4M236.1,211.8l0.3,0.5M241.2,211.8l0.1,0.3M246.4,211.7l-0.3,0.3M261.0,211.1l0.2,0.6M266.1,211.3l-0.1,0.0M276.0,211.0l0.1,0.1M365.3,208.8l0.5,0.3M157.2,219.3l-0.7,0.1M162.0,219.2l-0.4,0.1M166.9,218.9l-0.1,0.3M182.1,218.5l-0.8,0.4M191.4,218.4l0.5,0.2M211.5,217.8l0.2,0.5M221.6,217.7l-0.1,0.2M226.8,217.6l-0.7,0.1M231.4,217.5l0.0,0.1M241.3,217.3l0.1,0.1M266.2,216.6l0.1,0.1M271.1,216.4l0.3,0.3M276.2,216.3l0.0,0.2M286.0,216.1l0.3,0.2M291.2,215.8l-0.2,0.6M295.6,215.9l0.9,0.1M157.0,224.6l0.0,0.1M182.2,223.9l-0.6,0.3M191.8,223.8l-0.1,0.1M196.8,223.7l0.1,0.1M206.9,223.4l-0.4,0.1M211.5,223.0l0.5,0.7M216.8,223.2l-0.3,0.1M236.7,222.7l-0.3,0.1M251.8,222.4l-0.8,0.1M256.5,222.1l-0.0,0.3M266.5,221.9l-0.2,0.2M285.9,221.3l0.8,0.4M236.5,228.0l0.4,0.2M246.8,227.7l-0.2,0.4M286.0,226.8l0.8,0.2M191.9,234.2l0.3,0.6M197.1,234.3l0.1,0.2M202.4,234.2l-0.6,0.2M207.1,234.1l-0.1,0.2M212.2,233.7l-0.4,0.7M217.1,233.7l-0.2,0.4M221.8,233.5l0.2,0.5M231.7,233.4l0.4,0.4M237.0,233.3l-0.2,0.3M241.8,233.2l-0.0,0.2M262.0,232.6l-0.6,0.4M296.3,231.8l0.4,0.4M157.5,240.7l0.0,0.0M192.3,239.8l-0.1,0.1M196.9,239.7l0.7,0.1M212.3,239.3l-0.3,0.1M227.3,238.7l-0.4,0.7M232.1,238.6l-0.2,0.6M237.0,238.8l0.0,0.1M242.0,238.3l0.0,0.8M251.6,238.4l0.6,0.0M261.9,238.2l-0.0,0.0M276.6,237.7l0.2,0.3M286.9,237.5l-0.3,0.2M291.6,237.1l0.2,0.8M192.6,245.2l-0.4,0.1M212.2,244.7l0.3,0.0M217.2,244.6l0.1,0.1M222.0,244.4l0.4,0.2M227.1,244.2l0.2,0.3M232.0,243.9l0.4,0.6M242.3,244.0l-0.4,0.1M247.0,243.8l0.2,0.2M252.3,243.6l-0.6,0.4M257.0,243.5l0.1,0.3M271.9,243.3l0.1,0.1M296.7,242.4l0.1,0.6M301.7,242.5l0.1,0.1M252.4,249.0l-0.3,0.1M257.0,248.6l0.3,0.8M262.1,248.7l0.1,0.3M282.1,248.4l-0.0,0.0M301.8,247.8l0.3,0.1M311.8,247.5l0.0,0.3M257.3,254.3l0.0,0.1M286.9,253.5l0.5,0.2M292.3,253.4l-0.4,0.2M297.1,253.4l0.0,0.0M302.5,253.3l-0.8,0.0M267.3,259.1l0.3,0.6M272.2,259.2l0.4,0.2M317.2,258.2l-0.1,0.0M272.2,264.5l0.7,0.3M277.4,264.5l0.2,0.0M307.1,263.7l0.5,0.3M312.0,263.5l0.6,0.3M297.5,269.2l0.0,0.4M302.6,269.2l-0.2,0.2M312.4,268.7l0.1,0.7M267.9,275.4l0.0,0.1M302.8,274.4l-0.4,0.4" stroke="#4a86c2" stroke-width="1.2" stroke-linecap="round" stroke-opacity="0.6" fill="none"/><path d="M298.0,70.6l-2.0,1.9M302.1,69.8l-0.3,3.2M316.5,69.8l0.8,2.5M321.2,69.1l1.5,3.7M332.0,69.6l-0.4,2.1M347.5,68.9l-1.6,2.9M351.8,68.2l-0.1,3.9M168.3,79.5l-0.6,1.0M301.7,75.6l0.9,2.3M316.0,74.7l2.2,3.3M323.0,74.8l-1.9,2.9M336.7,74.3l0.6,3.2M341.9,74.1l0.1,3.2M346.8,73.7l0.1,4.0M353.0,73.9l-2.2,3.2M153.6,85.1l-0.8,1.3M287.2,80.8l0.4,3.3M327.8,79.6l-1.3,3.7M336.9,80.2l0.4,2.1M149.0,90.0l-1.4,2.2M158.1,89.8l0.4,2.3M163.7,89.7l-0.9,2.2M203.3,88.3l-0.5,3.1M287.9,87.0l-0.7,1.7M303.0,85.9l-1.2,3.1M322.4,85.3l-0.1,3.4M331.7,86.0l1.1,1.3M337.6,85.3l-0.6,2.6M361.5,85.1l1.2,1.9M154.1,95.5l-1.3,1.7M293.4,92.1l-1.4,1.8M317.7,90.9l-0.4,3.1M322.5,91.2l0.0,2.2M337.8,90.8l-0.8,2.2M357.5,89.8l-0.4,3.2M287.6,97.3l0.4,2.3M293.2,97.2l-0.8,2.3M302.5,97.2l0.5,1.9M307.7,97.1l-0.0,1.7M332.9,95.9l-0.7,2.9M337.9,96.4l-0.8,1.7M348.0,95.3l-1.1,3.5M158.8,106.4l-0.1,1.2M217.2,104.7l2.3,1.7M288.0,102.7l-0.0,2.3M293.4,102.3l-0.9,2.9M297.6,101.7l0.7,3.7M317.2,101.7l1.2,2.9M358.5,100.5l-1.9,3.3M154.4,111.9l-1.0,1.0M174.0,110.3l-0.4,3.2M267.8,109.3l0.9,0.7M318.1,107.3l-0.3,2.3M323.0,106.6l-0.2,3.5M327.9,106.8l0.1,2.9M337.4,106.6l0.9,2.6M342.1,106.7l1.4,2.3M347.9,106.0l-0.2,3.4M352.6,106.6l0.3,2.0M358.0,106.0l-0.5,3.0M183.8,116.2l0.2,1.6M248.5,115.0l0.1,1.0M289.0,113.9l-1.4,1.3M293.4,113.0l-0.3,2.8M298.3,112.4l-0.2,3.8M302.5,112.9l1.3,2.4M308.7,112.4l-1.1,3.3M313.0,112.3l0.3,3.3M333.2,112.6l-0.3,1.6M343.5,112.6l-1.0,1.2M347.9,111.8l0.0,2.6M298.8,118.5l-0.8,2.2M333.3,117.0l-0.2,3.6M238.7,125.5l0.3,1.8M293.6,123.3l-0.1,3.7M299.8,123.7l-2.6,2.4M308.6,123.6l-0.3,2.2M328.2,123.0l0.2,2.5M338.9,122.4l-1.2,3.2M258.1,130.2l1.7,2.2M288.8,129.2l-0.1,2.6M304.5,128.8l-1.8,2.9M308.0,128.3l1.2,3.5M329.0,128.7l-1.0,1.8M278.8,135.6l0.2,1.1M282.5,135.4l2.9,1.1M288.8,134.8l0.2,2.2M294.5,134.6l-1.3,2.4M308.2,133.9l1.0,3.0M319.1,134.5l-0.9,1.3M308.8,139.0l0.2,3.6M314.0,139.2l-0.2,2.9M318.2,139.6l1.2,1.9M328.5,138.6l0.6,3.4M294.6,145.0l-1.0,3.0M308.4,144.3l1.2,3.7M324.0,144.7l-0.0,2.1M328.7,144.2l0.6,2.8M358.8,143.2l-0.1,3.3M269.0,150.8l0.8,3.2M324.8,150.0l-1.4,2.2M317.9,156.0l2.8,1.1M230.2,163.0l-0.4,2.1M274.4,162.4l0.5,1.3M308.5,161.0l2.0,2.3M317.6,161.5l3.6,0.8M190.3,169.8l0.1,1.1M304.3,166.9l0.8,1.3M313.1,172.7l3.2,0.0M318.1,172.2l3.2,0.7M176.2,185.4l-0.6,2.7M195.7,185.4l0.1,1.7M200.8,184.5l-0.2,3.3M205.0,184.7l1.3,2.7M211.1,184.7l-0.9,2.5M216.0,184.7l-0.7,2.3M220.4,184.5l0.4,2.3M224.4,185.3l2.4,0.6M235.4,184.2l0.2,2.2M269.9,183.1l0.7,2.8M279.7,182.8l1.0,2.8M313.5,182.9l3.2,1.0M196.3,190.0l-0.8,3.2M201.1,190.2l-0.4,2.7M205.0,190.8l1.8,1.2M225.7,189.4l0.0,3.0M231.1,189.3l-0.9,3.1M235.2,189.2l0.9,3.0M240.3,189.2l0.8,2.7M255.2,189.4l0.8,1.5M265.0,188.7l0.9,2.4M270.7,188.3l-0.4,3.0M279.6,188.5l1.6,2.2M290.7,187.9l-0.7,2.8M294.7,188.3l1.2,1.9M299.9,188.6l0.9,1.1M304.5,187.8l1.4,2.4M309.7,188.2l1.0,1.3M315.3,188.0l-0.3,1.5M211.4,195.2l-0.8,2.8M215.5,195.7l0.8,1.7M231.6,194.9l-1.4,2.5M240.6,195.1l0.4,1.7M245.8,194.5l-0.1,2.6M255.1,194.5l1.1,2.1M259.9,194.4l1.6,2.0M265.2,194.1l0.8,2.5M271.0,194.2l-0.7,1.9M275.4,194.4l0.5,1.4M280.6,194.3l-0.0,1.2M285.0,193.5l1.0,2.6M305.2,193.5l0.4,1.7M310.1,193.5l0.6,1.5M181.9,201.3l-1.3,2.8M200.9,201.2l0.6,2.1M214.7,200.8l2.7,2.0M245.5,200.6l0.8,1.1M265.6,199.9l0.4,1.5M270.6,199.8l0.3,1.4M276.1,198.9l-0.7,3.0M280.6,199.5l0.2,1.5M289.8,199.0l1.8,2.0M296.0,198.8l-0.9,2.3M181.3,206.9l0.2,2.2M196.3,206.5l0.1,2.4M200.5,206.9l1.5,1.4M216.1,206.0l0.2,2.4M226.3,206.3l-0.2,1.2M231.1,205.3l-0.0,3.0M235.9,205.8l0.4,1.9M250.5,205.7l1.0,1.3M261.0,205.5l-0.0,1.3M280.8,204.9l0.1,1.5M285.7,204.4l0.3,2.2M295.9,204.8l-0.2,1.0M300.2,204.2l1.0,1.9M156.5,212.9l0.4,2.1M175.5,212.5l2.1,2.1M181.6,212.1l0.1,2.6M185.5,212.3l2.0,2.0M201.3,212.3l0.4,1.2M205.2,212.2l2.6,1.1M216.3,212.0l0.1,1.0M231.3,211.3l-0.1,1.8M250.8,210.9l0.7,1.7M256.0,210.5l0.3,2.1M271.5,210.7l-0.8,1.1M281.5,209.6l-0.9,2.7M286.9,210.3l-1.9,1.1M291.3,209.7l-0.6,2.0M293.9,210.1l4.0,1.1M299.6,209.7l2.6,1.6M186.5,217.9l0.4,1.4M196.5,217.8l0.2,1.1M200.9,217.3l1.5,1.9M206.3,217.6l0.6,1.0M215.9,216.6l1.2,2.5M236.7,216.4l-0.7,2.1M246.7,215.8l-0.7,2.8M250.9,215.7l0.8,2.8M256.0,216.1l0.6,1.7M259.8,216.1l3.0,1.5M281.0,215.6l0.3,1.5M160.7,224.6l2.6,-0.0M186.3,222.7l1.0,2.5M201.6,222.9l0.4,1.5M221.0,222.0l1.3,2.2M227.7,221.9l-2.3,2.2M231.5,221.7l0.1,2.4M240.7,221.5l1.6,2.2M246.4,222.0l0.3,1.1M262.0,220.5l-1.1,3.2M272.3,220.5l-1.8,2.8M275.9,221.3l0.9,1.0M280.7,220.3l1.3,2.8M289.4,221.5l3.6,-0.2M156.0,230.0l2.4,0.0M191.6,227.8l0.8,2.8M196.4,228.5l1.1,1.2M202.4,227.7l-0.9,2.6M206.9,228.1l0.0,1.4M211.5,228.3l0.7,0.8M217.0,227.3l-0.3,2.5M222.5,227.3l-1.5,2.3M226.9,227.3l-0.3,2.0M231.9,227.1l-0.3,2.3M241.5,226.3l0.3,3.4M251.5,227.1l0.2,1.2M256.6,226.9l-0.0,1.4M261.1,225.9l0.9,3.2M266.7,226.4l-0.3,2.1M270.1,226.4l2.8,1.7M276.8,226.6l-0.7,1.1M281.0,226.4l0.9,1.3M289.5,226.3l3.7,1.0M294.7,226.3l3.3,0.8M227.0,233.0l-0.2,1.5M246.7,231.8l0.2,2.9M252.0,232.0l-0.4,2.2M256.6,232.2l0.2,1.5M266.3,231.6l0.8,2.3M272.3,231.7l-1.3,1.9M276.4,231.5l0.5,2.1M281.7,231.3l-0.3,2.1M286.2,231.3l0.8,1.8M201.7,239.3l1.0,0.6M206.8,239.0l0.7,0.9M216.9,237.7l0.5,3.2M222.4,238.4l-0.6,1.6M247.2,237.8l-0.5,1.5M256.4,237.1l0.9,2.3M266.7,237.1l0.3,1.9M271.4,237.2l0.8,1.6M281.3,237.5l1.0,0.4M295.0,237.5l3.3,-0.3M197.2,244.3l0.4,1.6M201.9,244.5l0.8,0.9M208.2,243.9l-1.7,1.9M235.9,243.9l2.4,0.5M262.5,242.2l-0.9,2.6M266.8,242.4l0.3,2.0M276.9,242.2l0.1,1.9M281.3,241.8l1.3,2.4M286.7,241.8l0.4,2.3M290.4,241.8l2.8,2.0M306.4,241.8l0.7,1.3M196.3,250.0l2.4,0.9M267.3,247.3l-0.4,2.9M271.7,248.2l0.8,1.0M277.1,247.8l-0.1,1.5M287.3,247.5l-0.5,1.6M290.0,247.9l4.0,0.5M295.2,247.9l3.5,0.2M307.7,247.1l-1.6,1.3M261.2,253.5l2.2,1.5M265.5,253.7l3.6,0.9M271.0,253.1l2.4,1.8M275.8,253.8l2.8,0.2M280.7,253.2l3.0,1.2M307.4,251.7l-0.7,2.9M312.7,251.6l-1.5,2.9M261.7,259.0l1.5,1.1M275.8,258.6l3.2,1.2M281.4,258.9l1.8,0.4M285.8,259.0l3.1,-0.0M291.0,258.1l2.5,1.5M301.0,258.6l2.3,0.0M307.2,257.2l-0.1,2.7M312.4,257.8l-0.4,1.1M261.3,264.2l2.7,1.4M265.9,264.5l3.3,0.6M281.2,264.0l2.6,0.8M291.6,263.9l1.7,0.7M296.1,263.6l2.5,1.0M315.5,263.6l3.5,-0.1M261.7,269.7l2.1,1.2M265.9,269.3l3.6,1.8M271.3,268.7l2.8,2.5M276.1,269.9l3.2,-0.0M281.0,269.2l3.2,1.2M286.3,269.4l2.5,0.5M290.7,268.8l3.8,1.4M315.8,268.4l3.2,1.2M261.4,275.3l3.0,0.7M276.3,275.6l3.0,-0.7M280.8,274.7l3.9,0.8M291.6,273.5l2.2,2.7M306.8,274.1l1.7,0.9M311.3,273.8l2.7,1.2M315.9,273.8l3.4,1.0" stroke="#94c6e6" stroke-width="1.0" stroke-linecap="round" stroke-opacity="0.75" fill="none"/></g><use href="#fg"/></g>
</svg></body></html>
